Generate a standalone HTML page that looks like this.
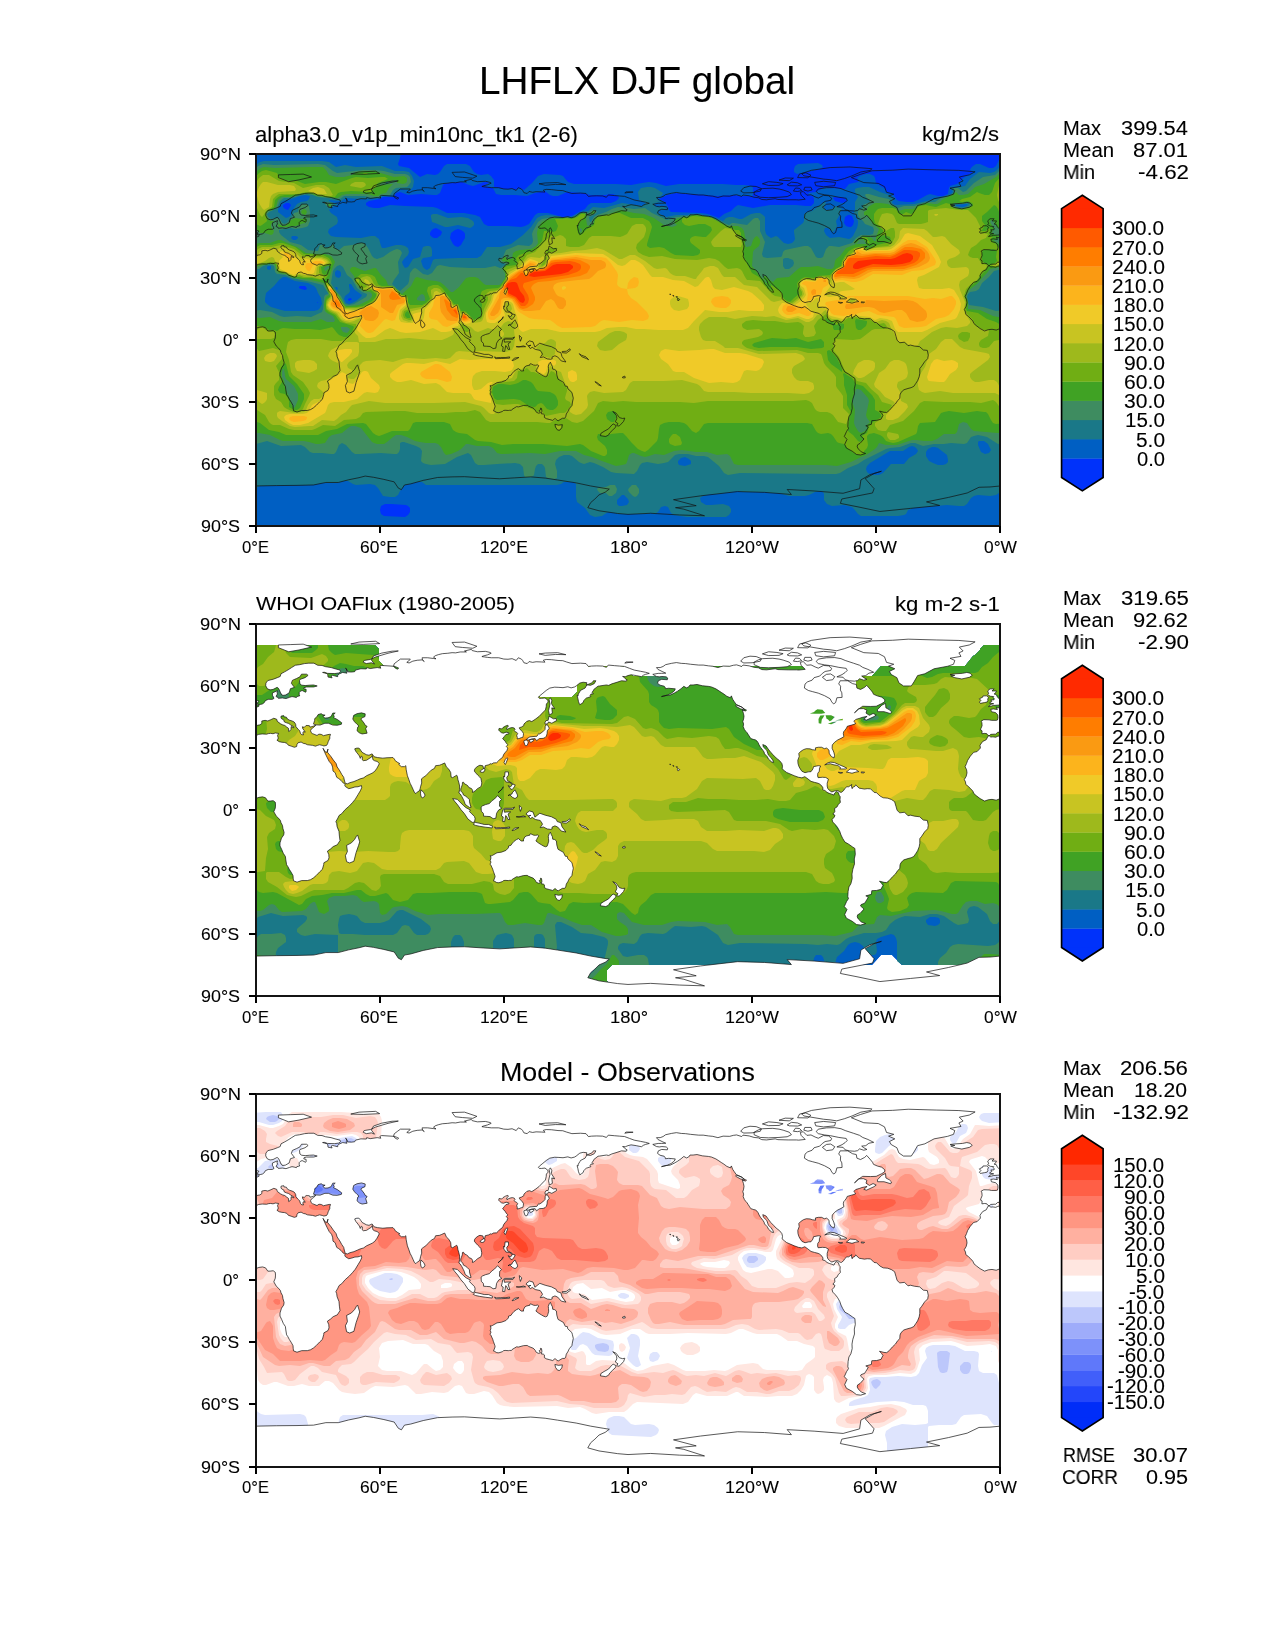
<!DOCTYPE html>
<html><head><meta charset="utf-8"><title>LHFLX DJF global</title>
<style>
html,body{margin:0;padding:0;background:#fff;}
body{width:1275px;height:1650px;position:relative;overflow:hidden;}
.t{position:absolute;white-space:pre;font-family:"Liberation Sans",sans-serif;color:#000;transform-origin:0 0;-webkit-text-stroke:0.1px #000;will-change:transform;}
</style></head><body>
<svg width="1275" height="1650" viewBox="0 0 1275 1650" style="position:absolute;left:0;top:0"><defs><path id="L" d="M422.0 144.5l2.1 1.2l-1.5 1.5l-.8 -1.3zM420.5 142.8l1.5 .4l-1 .4zM417.2 141.6l1.3 .6l-1.1 0zM414.1 140.3l1.1 .2l-.7 .5zM531.6 31.0l4.2 -2.6l6.2 .6l4.1 2l-4.1 1.1l-8.3 -.2zM537.8 37.3l2.1 -3.1l4.1 .4l2.1 2.2l-4.1 .9zM548.2 36.2l1 -2.7l6.2 0l1.1 2.7l-4.2 1.1zM542.0 23.8l2 -3.7l6.3 -1.1l5.1 2.5l-3.1 2.5zM523.4 26.3l6.2 -2.1l8.2 .2l-4.1 2.5zM-12.2 112.2l-1.9 3.7l-3.5 1.7l-2.7 3.7l.4 2.9l-3.3 3.5l-3.5 .8l-3.3 3.8l-2.7 4.3l-1 2.9l-1.5 3.3l1.5 3.1l.4 3.1l-.8 3.5l-1.9 3.2l1.2 2.4l.3 2.5l2.4 1.9l1.9 1.8l2.7 2.9l1.2 2.7l2.5 2.1l3.5 2.7l4.6 2.5l3.7 -1.3l3.7 -.4l4.2 .8l4.1 -1.6l3.3 -1.2l3.7 -.5l2.9 .9l2.3 3.3l2.3 0l3.1 -.4l2.1 1.6l.2 2.7l-.2 3.1l-1.5 3.7l2.5 4.4l2.3 2.1l1.8 2.2l.6 2.3l1.5 2.7l.4 2.9l1.2 4.1l-.4 2.5l-2.2 3.1l-1.5 4.8l0 3.1l1.7 3.5l1.6 3.9l2.1 3.1l.4 3.4l.8 4.9l1.3 1.9l1.4 2.7l1.9 2.9l1.8 3.3l.2 2.7l.3 2.5l3.5 1.4l4.7 -1.6l5.6 0l3.3 -.9l2.9 -1.8l2.9 -2.5l3.3 -3.5l2.7 -2.5l1.3 -4.8l.2 -1.8l4.1 -2.3l1 -2.7l-.2 -3.1l-1.4 -3.5l3.3 -2.3l2.5 -2.3l4.1 -1.8l2.7 -4.2l-.6 -4.5l-.4 -4.6l-1.9 -4.8l-.4 -3.1l-.8 -2l2 -3.5l1.1 -2.5l2.7 -1.9l3.5 -4.1l4.1 -3.6l3.1 -3.3l2.9 -3.5l2.7 -4.5l2.3 -3.8l1.4 -3.1l-.2 -2.2l-3.5 1.2l-3.1 .2l-3.1 1l-3.1 .7l-3.3 -2.1l-.6 -.8l.4 -1.5l-1.9 -1.2l-2.3 -2.7l-2.7 -2.1l-1.6 -1l-1.5 -4.6l-2.2 -1.6l-.4 -4l-1.1 -2.9l-2.3 -2.7l-2 -3.9l-1.7 -3.5l-2.5 -5.8l2.1 3.5l1.7 .6l1.2 -3.3l-.6 3.1l3.7 4.6l2.1 3.1l2.9 3.7l1 3.3l2.7 4l1.9 3.5l2 2.9l.6 2.7l.9 3.3l2.2 .6l2.5 -1.2l4 -1.1l3.3 -1.4l2.9 -1.3l3.5 -1l2.9 -2.1l3.5 -1.6l2.3 -1.1l2.5 -1.8l2.2 -3.1l2.3 -4.4l-1.9 -2.3l-2.6 -.6l-1.9 -1.2l-.6 -4.2l-.9 1.7l-1.4 .8l-3.5 2.3l-3.3 .4l-.9 -.8l0 -3.1l-1 -.6l-1 2.2l-.9 -2.4l-1.4 -1.9l-2.3 -2.9l-1 -2.3l1.4 -.6l2.1 -.2l1.2 .4l1.5 2.1l1.2 1.8l4.2 2.3l2.7 .6l3.1 -1.4l2 2.9l3.5 .8l5.2 .6l4.2 -.4l6 -.2l1.4 1.5l.8 1.6l2.7 1.9l1.9 1l-1.1 .8l2.7 2.3l3.1 0l1.3 -1l.4 4.1l1.2 6l1.5 4l1.2 3.5l1.5 2.9l1.6 3.5l1.3 2.9l1.4 1l1.7 -1.8l1.8 -.9l.7 -2l.6 -2.7l1 -3.1l-.2 -4.2l1.7 -1.4l2.6 -1.7l2.1 -2.3l3.3 -3.3l3.3 -1.8l1.1 -2.7l3.9 -.4l1.7 -.7l1.8 -.8l1.7 -.8l1.4 3.3l.6 1l2.1 1.9l1.9 3.3l.4 4.6l1.6 .6l2.7 -1.7l1.3 -.8l.8 1.7l.4 2.7l1 3.3l.7 3.1l0 3.7l-.7 3.3l1.3 1l1.6 2.5l1.5 2.9l1 2.1l.9 2.9l2.2 1.6l2.1 1.5l1.6 -.2l-.8 -2.3l-.8 -3.1l0 -2.1l-2.1 -2.2l-1.6 -1.3l-2.3 -1.2l-.8 -2.1l-1.9 -1.9l0 -2.2l.6 -1.5l.9 -2.7l.2 -2.3l1 -.2l1 1.7l2.1 1l1.2 .9l1.1 1.8l2.5 .9l1.2 1.8l-.2 2.1l.6 0l2.7 -1.9l1.7 -1.8l3.5 -1.9l.8 -2.7l0 -1.7l-.8 -3.9l-1.3 -1.6l-1.8 -1.7l-2.1 -2.3l-1.4 -1.8l.4 -1.9l1.6 -1.9l2.5 -1.6l1.2 -.4l2.9 .6l.7 2.7l1.2 -.4l.4 -2.5l3.3 -.8l2.5 -1.3l.8 .6l1.3 -1.2l3.5 -.2l1.6 -1.5l1.5 -1.8l2.1 -1.3l1.2 -1.8l.8 -2.1l1.7 -2.1l1.4 -1.6l.9 -2.5l-1.5 -1.5l1.5 -1.8l-1.7 -1.9l-1 -1.8l-2.5 -2.3l1.6 -2.1l1.7 -2.1l3.1 -.8l-.2 -1l-2.7 -.6l-2.7 1l-1.8 -.4l-1.9 -1.5l-1 -1.2l.4 -1.7l2.5 .6l1.4 -1.4l2.5 -1.5l2.3 -.8l.6 1.1l-1.7 1.4l.4 1.9l1.5 -1.1l2.3 -.8l1.8 -.2l1.7 .6l.6 1.5l-.8 .8l1.2 1.4l1.1 .3l1.2 1.4l-1 1.7l.6 2.4l-.2 1.3l2 -.4l2.1 -.9l1.5 -.2l.6 -1.8l.2 -2.1l-1 -1.7l-1.5 -1.6l-1.4 -1.5l-.3 -1l2.3 -.8l2.3 -1.5l0 -1.4l1.9 -1.7l1 -1l2.5 -.8l2.5 1l3.5 -2.3l3.9 -2.9l3.1 -3.3l3.1 -3.1l.8 -3.3l.2 -2.7l1.7 -1.9l-.2 -1.8l-2.9 -2.3l-3.5 .4l-2.1 0l-1 -1.2l1 -1.1l2.7 -2.2l4.1 -3.4l3.6 -2.4l4.9 -.9l4.2 .2l4.1 .3l4.8 -.9l3.3 1.1l3.5 -.9l1.6 -1l3.6 -2.9l3.3 -.8l3.7 .4l-.4 2.1l4.1 .6l3.7 -1.7l1.7 -2.9l-2.5 0l-1.2 1.9l-5.4 2.3l-1.7 3.1l-4.7 2.4l-.4 .9l-1.7 2.7l-.2 1.8l-1 -.4l.8 3.1l.6 3.1l.6 1.5l.7 1.6l1.8 -1.2l1.5 -1l.8 -2.1l2.7 -2.7l.8 0l3.5 -1.2l-.8 -.9l.8 -1.6l2.5 -.2l-1.4 -1.7l1.2 -1.2l.6 -1.5l4.2 -3.3l1.6 -.2l6.8 -1l2.3 .4l3.1 -1.5l5.2 -1.6l4.5 -1.5l4.8 .4l.8 -1.4l-1.4 -.6l-1.3 -1.7l-1.8 -1l2.7 .2l2.7 -1.1l3.1 -.8l5.1 .8l5.2 1.1l2.1 -1.5l2 -.8l3.8 -1l-3.8 -1.1l-5.1 -1l-6.2 -1.2l-4.6 -1.7l-5 -1.9l-4.9 -.4l-5 -.4l-6.4 -.6l-1.9 2.3l-3.7 -1.3l-6 -.2l-5.2 .2l-3.1 .4l-2.4 -2.9l-5.6 -.4l-8.5 .4l-5.4 -1.6l-3.7 -1.3l-4.8 -.2l-6.6 -.8l-5.2 -.2l-2.9 .8l1.7 1.9l-3.5 -.2l-5.4 -.2l-3.5 .6l-3.5 -.8l-1.9 2l-3.3 -.8l-1.4 -2.5l-1.1 -1.2l-3.1 -1.3l-2.1 2.7l-4.1 -1.8l-4.1 .6l-4.2 -.2l-5.1 -1.3l-7.3 0l-3.9 -.4l-3.1 -.4l-2.5 -.4l1.5 -.6l4.1 -1.1l3.7 -1.6l-1 -.8l-4.8 -1.1l-8 .4l-5.2 -1.2l-.8 -1.2l-6.9 1.6l1.9 1l-6.2 0l-4.6 .9l-3.5 -.2l-4.3 .6l-5.4 .4l-4.1 1l-3.1 1.1l-1.7 1.4l2.5 1.7l-2.7 -.4l-5.6 -.7l-5.6 0l.4 2.1l1.7 1.7l-1.9 -1.7l-5.1 .4l-4.4 .9l-3.7 1.8l-2.3 -.6l3.5 -2.9l-.2 -.4l-6 0l-3.7 0l-3.1 2.3l-3.1 2.4l-.6 2.5l1.2 1.5l2.5 1.4l1.4 -1l-2 -1l-2.7 -.9l-12.4 -.8l-1.7 .8l.9 1.9l-3.6 -.6l-7 1l-3.5 -1l-.4 1.4l-5.4 -.2l-5.4 1.3l-.8 1.6l-3.3 .4l-3.7 -.2l-1.7 -3.7l-.4 0l1.4 1.9l-.6 1.4l.6 1.7l-4.3 -.7l-3.7 1.5l-1.3 1.6l0 1.1l-5.1 -1.3l-1.5 .7l1 1.8l-4.1 -.8l-.2 -2.3l-1 -1.2l-4.2 -1.1l1.7 -.2l3.3 1.1l7.2 .2l4 -.6l1.8 -1.5l-.6 -1.4l-5 -1.3l-3.9 -1.2l-5.6 -.9l-3.5 -1.2l-4.3 -.2l-3.8 -2.1l-5.1 0l-4.2 .4l-4.9 1.1l-4.4 .6l-3.7 2.3l-2.7 1.8l-4.3 2.5l-3.6 1.9l-.8 2.7l-2.9 1.2l-3.9 1.5l-5.6 1.4l-1.9 2.5l-.2 2.7l1.7 3.1l2.7 1l2.9 -.4l4.1 -2.1l1.3 .9l1 1.8l1.6 4l.9 .2l.4 1.2l3.1 -.4l3.7 -2.1l.6 -1.8l.7 -2.5l4.1 -1.3l-1.9 -2.4l-1.2 -1.7l1 -2.9l4.2 -1.9l3.3 -1.6l1.6 -2.7l5 0l1.6 1.2l-.6 .5l-2.5 1.8l-3.1 1.1l-1.8 .6l-.6 1.2l.4 3.3l1.8 1.3l3.5 .4l4.6 -.4l3.7 -.2l3.7 1l-3.5 1l-3.7 0l-3.5 0l-2.5 .7l-.2 1.2l2.3 .4l0 2.5l-.6 .4l-3.4 -1.7l-1.8 .9l-1.1 1.2l0 1.9l.5 1.4l-2.9 .7l-.4 1l-2.3 -.6l-2.1 -.4l-2.5 .8l-3.5 1.2l-3.7 -.6l-3.9 .4l-.3 -.8l-2 -1l.6 -1.5l.8 -1l-.4 -1.5l.4 -1.8l-2.5 1l-2.6 1.2l0 2.3l.8 1.3l.8 1.8l-1.6 1l-2.5 0l-1.7 0l-2.9 1.3l-1 1.9l-1.9 1.4l-1.6 .4l-1.9 .4l0 1.5l-2.9 1.2l-2.7 .4l-1.6 -.6l1 2.3l-3.9 -.6l-2.7 .4l.4 1.4l.2 .9l4.3 1l2.1 2.3l.2 2.9l-.6 2.2l-1 .3l-5 0l-2.3 -.5l-5.3 -.2l-2.7 1.5l.8 1.6l.2 2.9l-1.2 2.9l-.3 1.5l1.5 .8l-.2 2.9l2.9 -.4l2.1 .4l.6 1l1.6 1.1l1.7 -1.5l3.3 -.2l1.6 0l1.9 -1.8l1.3 0l1.4 -2.7l-.6 -.9l.8 -1.6l1.5 -1.9l2.6 -.4l1.9 -1.4l0 -1.3l0 -1.2l3.3 -.6l2.7 .6l3.1 -1.3l2.9 -1.4l2.9 1l.6 2.1l3.3 2.5l2.1 1l2.1 .6l1.8 1.5l1.9 1.4l.2 3.1l1.2 -.8l1.3 -1.2l-.2 -.9l.2 -2l2.5 1.2l.2 -.8l-3.3 -2.1l-1.9 -1.4l-2.3 -.7l-2 -.8l-.7 -2.1l-2 -1l-.7 -1l0 -1.7l2.7 -.6l.2 1.2l2.5 .4l1.1 1.9l1.8 1l2.7 .9l2.1 1l1 1.3l.6 1.2l.2 2.1l1.1 1.4l1.4 1.5l1.3 1.4l.8 2.7l1.4 1.2l1.7 0l-.8 -1.8l.6 -1.3l1.8 .5l-1 -1.7l-1.4 -1.7l-.4 -2l1.8 .6l1.9 -1.9l3.3 .2l.6 1.5l2.1 -.6l3.7 -1.3l-2.1 2.1l-2.2 1.4l-.9 1.7l.4 1.9l1.3 1.2l1.6 .6l3.1 1.3l1.9 -1.3l2.3 .2l2.3 1.3l2.4 -.6l3.3 -.7l1.3 0l-.8 2.5l.2 1.3l-.9 1.8l-.8 1.7l-.6 2l-1 1.7l-2.7 .6l-1.7 -.6l-2.7 -.6l-1.8 .6l-2.3 .8l-2.7 -.8l-5.2 -.6l-2.3 -1.1l-1.6 -.2l-2.5 -1.4l-2.9 .6l-1.2 1.7l-.4 2.2l-2.3 .7l-2.5 -.9l-3.5 -1.2l-1.5 -1.9l-2.4 -.8l-2.5 -.2l-2.7 -.6l-2.3 -1.5l1.2 -1l0 -1.9l-.6 -1.6l1.1 -2.3l-1.9 -.2l-1.4 -.2l-2.3 .8l-2.3 -.4l-2.1 .2l-2 .6l-4.4 -.2l-3.5 .4l-3.3 1.5l-2.3 .4l-2.1 1l-2.8 -.4l-2.1 .2l-1.5 -1.2zM732.5 112.2l-1.9 3.7l-3.5 1.7l-2.7 3.7l.4 2.9l-3.3 3.5l-3.5 .8l-3.3 3.8l-2.7 4.3l-1 2.9l-1.5 3.3l1.5 3.1l.4 3.1l-.8 3.5l-1.9 3.2l1.2 2.4l.3 2.5l2.4 1.9l1.9 1.8l2.7 2.9l1.2 2.7l2.5 2.1l3.5 2.7l4.6 2.5l3.7 -1.3l3.7 -.4l4.2 .8l4.1 -1.6l3.3 -1.2l3.7 -.5l2.9 .9l2.3 3.3l2.3 0l3.1 -.4l2.1 1.6l.2 2.7l-.2 3.1l-1.5 3.7l2.5 4.4l2.3 2.1l1.8 2.2l.6 2.3l1.5 2.7l.4 2.9l1.2 4.1l-.4 2.5l-2.2 3.1l-1.5 4.8l0 3.1l1.7 3.5l1.6 3.9l2.1 3.1l.4 3.4l.8 4.9l1.3 1.9l1.4 2.7l1.9 2.9l1.8 3.3l.2 2.7l.3 2.5l3.5 1.4l4.7 -1.6l5.6 0l3.3 -.9l2.9 -1.8l2.9 -2.5l3.3 -3.5l2.7 -2.5l1.3 -4.8l.2 -1.8l4.1 -2.3l1 -2.7l-.2 -3.1l-1.4 -3.5l3.3 -2.3l2.5 -2.3l4.1 -1.8l2.7 -4.2l-.6 -4.5l-.4 -4.6l-1.9 -4.8l-.4 -3.1l-.8 -2l2 -3.5l1.1 -2.5l2.7 -1.9l3.5 -4.1l4.1 -3.6l3.1 -3.3l2.9 -3.5l2.7 -4.5l2.3 -3.8l1.4 -3.1l-.2 -2.2l-3.5 1.2l-3.1 .2l-3.1 1l-3.1 .7l-3.3 -2.1l-.6 -.8l.4 -1.5l-1.9 -1.2l-2.3 -2.7l-2.7 -2.1l-1.6 -1l-1.5 -4.6l-2.2 -1.6l-.4 -4l-1.1 -2.9l-2.3 -2.7l-2 -3.9l-1.7 -3.5l-2.5 -5.8l2.1 3.5l1.7 .6l1.2 -3.3l-.6 3.1l3.7 4.6l2.1 3.1l2.9 3.7l1 3.3l2.7 4l1.9 3.5l2 2.9l.6 2.7l.9 3.3l2.2 .6l2.5 -1.2l4 -1.1l3.3 -1.4l2.9 -1.3l3.5 -1l2.9 -2.1l3.5 -1.6l2.3 -1.1l2.5 -1.8l2.2 -3.1l2.3 -4.4l-1.9 -2.3l-2.6 -.6l-1.9 -1.2l-.6 -4.2l-.9 1.7l-1.4 .8l-3.5 2.3l-3.3 .4l-.9 -.8l0 -3.1l-1 -.6l-1 2.2l-.9 -2.4l-1.4 -1.9l-2.3 -2.9l-1 -2.3l1.4 -.6l2.1 -.2l1.2 .4l1.5 2.1l1.2 1.8l4.2 2.3l2.7 .6l3.1 -1.4l2 2.9l3.5 .8l5.2 .6l4.2 -.4l6 -.2l1.4 1.5l.8 1.6l2.7 1.9l1.9 1l-1.1 .8l2.7 2.3l3.1 0l1.3 -1l.4 4.1l1.2 6l1.5 4l1.2 3.5l1.5 2.9l1.6 3.5l1.3 2.9l1.4 1l1.7 -1.8l1.8 -.9l.7 -2l.6 -2.7l1 -3.1l-.2 -4.2l1.7 -1.4l2.6 -1.7l2.1 -2.3l3.3 -3.3l3.3 -1.8l1.1 -2.7l3.9 -.4l1.7 -.7l1.8 -.8l1.7 -.8l1.4 3.3l.6 1l2.1 1.9l1.9 3.3l.4 4.6l1.6 .6l2.7 -1.7l1.3 -.8l.8 1.7l.4 2.7l1 3.3l.7 3.1l0 3.7l-.7 3.3l1.3 1l1.6 2.5l1.5 2.9l1 2.1l.9 2.9l2.2 1.6l2.1 1.5l1.6 -.2l-.8 -2.3l-.8 -3.1l0 -2.1l-2.1 -2.2l-1.6 -1.3l-2.3 -1.2l-.8 -2.1l-1.9 -1.9l0 -2.2l.6 -1.5l.9 -2.7l.2 -2.3l1 -.2l1 1.7l2.1 1l1.2 .9l1.1 1.8l2.5 .9l1.2 1.8l-.2 2.1l.6 0l2.7 -1.9l1.7 -1.8l3.5 -1.9l.8 -2.7l0 -1.7l-.8 -3.9l-1.3 -1.6l-1.8 -1.7l-2.1 -2.3l-1.4 -1.8l.4 -1.9l1.6 -1.9l2.5 -1.6l1.2 -.4l2.9 .6l.7 2.7l1.2 -.4l.4 -2.5l3.3 -.8l2.5 -1.3l.8 .6l1.3 -1.2l3.5 -.2l1.6 -1.5l1.5 -1.8l2.1 -1.3l1.2 -1.8l.8 -2.1l1.7 -2.1l1.4 -1.6l.9 -2.5l-1.5 -1.5l1.5 -1.8l-1.7 -1.9l-1 -1.8l-2.5 -2.3l1.6 -2.1l1.7 -2.1l3.1 -.8l-.2 -1l-2.7 -.6l-2.7 1l-1.8 -.4l-1.9 -1.5l-1 -1.2l.4 -1.7l2.5 .6l1.4 -1.4l2.5 -1.5l2.3 -.8l.6 1.1l-1.7 1.4l.4 1.9l1.5 -1.1l2.3 -.8l1.8 -.2l1.7 .6l.6 1.5l-.8 .8l1.2 1.4l1.1 .3l1.2 1.4l-1 1.7l.6 2.4l-.2 1.3l2 -.4l2.1 -.9l1.5 -.2l.6 -1.8l.2 -2.1l-1 -1.7l-1.5 -1.6l-1.4 -1.5l-.3 -1l2.3 -.8l2.3 -1.5l0 -1.4l1.9 -1.7l1 -1l2.5 -.8l2.5 1l3.5 -2.3l3.9 -2.9l3.1 -3.3l3.1 -3.1l.8 -3.3l.2 -2.7l1.7 -1.9l-.2 -1.8l-2.9 -2.3l-3.5 .4l-2.1 0l-1 -1.2l1 -1.1l2.7 -2.2l4.1 -3.4l3.6 -2.4l4.9 -.9l4.2 .2l4.1 .3l4.8 -.9l3.3 1.1l3.5 -.9l1.6 -1l3.6 -2.9l3.3 -.8l3.7 .4l-.4 2.1l4.1 .6l3.7 -1.7l1.7 -2.9l-2.5 0l-1.2 1.9l-5.4 2.3l-1.7 3.1l-4.7 2.4l-.4 .9l-1.7 2.7l-.2 1.8l-1 -.4l.8 3.1l.6 3.1l.6 1.5l.7 1.6l1.8 -1.2l1.5 -1l.8 -2.1l2.7 -2.7l.8 0l3.5 -1.2l-.8 -.9l.8 -1.6l2.5 -.2l-1.4 -1.7l1.2 -1.2l.6 -1.5l4.2 -3.3l1.6 -.2l6.8 -1l2.3 .4l3.1 -1.5l5.2 -1.6l4.5 -1.5l4.8 .4l.8 -1.4l-1.4 -.6l-1.3 -1.7l-1.8 -1l2.7 .2l2.6 -1.1l3.2 -.8l5.1 .8l5.2 1.1l2.1 -1.5l2 -.8l3.8 -1l-3.8 -1.1l-5.1 -1l-6.2 -1.2l-4.6 -1.7l-5 -1.9l-4.9 -.4l-5 -.4l-6.4 -.6l-1.9 2.3l-3.7 -1.3l-6 -.2l-5.2 .2l-3.1 .4l-2.4 -2.9l-5.6 -.4l-8.5 .4l-5.4 -1.6l-3.7 -1.3l-4.8 -.2l-6.6 -.8l-5.2 -.2l-2.9 .8l1.7 1.9l-3.5 -.2l-5.4 -.2l-3.5 .6l-3.5 -.8l-1.9 2l-3.3 -.8l-1.4 -2.5l-1.1 -1.2l-3.1 -1.3l-2.1 2.7l-4.1 -1.8l-4.1 .6l-4.2 -.2l-5.1 -1.3l-7.3 0l-3.9 -.4l-3.1 -.4l-2.5 -.4l1.5 -.6l4.1 -1.1l3.7 -1.6l-1 -.8l-4.8 -1.1l-8 .4l-5.2 -1.2l-.8 -1.2l-6.9 1.6l1.9 1l-6.2 0l-4.6 .9l-3.5 -.2l-4.3 .6l-5.4 .4l-4.1 1l-3.1 1.1l-1.7 1.4l2.5 1.7l-2.7 -.4l-5.6 -.7l-5.6 0l.4 2.1l1.7 1.7l-1.9 -1.7l-5.1 .4l-4.4 .9l-3.7 1.8l-2.3 -.6l3.5 -2.9l-.2 -.4l-6 0l-3.7 0l-3.1 2.3l-3.1 2.4l-.6 2.5l1.2 1.5l2.5 1.4l1.4 -1l-2 -1l-2.7 -.9l-12.4 -.8l-1.7 .8l.9 1.9l-3.6 -.6l-7 1l-3.5 -1l-.4 1.4l-5.4 -.2l-5.4 1.3l-.8 1.6l-3.3 .4l-3.7 -.2l-1.7 -3.7l-.4 0l1.4 1.9l-.6 1.4l.6 1.7l-4.3 -.7l-3.7 1.5l-1.3 1.6l0 1.1l-5.1 -1.3l-1.5 .7l1 1.8l-4.1 -.8l-.2 -2.3l-1 -1.2l-4.2 -1.1l1.7 -.2l3.3 1.1l7.2 .2l4 -.6l1.8 -1.5l-.6 -1.4l-5 -1.3l-3.9 -1.2l-5.6 -.9l-3.5 -1.2l-4.3 -.2l-3.8 -2.1l-5.1 0l-4.2 .4l-4.9 1.1l-4.4 .6l-3.7 2.3l-2.7 1.8l-4.3 2.5l-3.6 1.9l-.8 2.7l-2.9 1.2l-3.9 1.5l-5.6 1.4l-1.9 2.5l-.2 2.7l1.7 3.1l2.7 1l2.9 -.4l4.1 -2.1l1.3 .9l1 1.8l1.6 4l.9 .2l.4 1.2l3.1 -.4l3.7 -2.1l.6 -1.8l.7 -2.5l4.1 -1.3l-1.9 -2.4l-1.2 -1.7l1 -2.9l4.2 -1.9l3.3 -1.6l1.6 -2.7l5 0l1.6 1.2l-.6 .5l-2.5 1.8l-3.1 1.1l-1.8 .6l-.6 1.2l.4 3.3l1.8 1.3l3.5 .4l4.6 -.4l3.7 -.2l3.7 1l-3.5 1l-3.7 0l-3.5 0l-2.5 .7l-.2 1.2l2.3 .4l0 2.5l-.6 .4l-3.4 -1.7l-1.8 .9l-1.1 1.2l0 1.9l.5 1.4l-2.9 .7l-.4 1l-2.3 -.6l-2.1 -.4l-2.5 .8l-3.5 1.2l-3.7 -.6l-3.9 .4l-.3 -.8l-2 -1l.6 -1.5l.8 -1l-.4 -1.5l.4 -1.8l-2.5 1l-2.6 1.2l0 2.3l.8 1.3l.8 1.8l-1.6 1l-2.5 0l-1.7 0l-2.9 1.3l-1 1.9l-1.9 1.4l-1.6 .4l-1.9 .4l0 1.5l-2.9 1.2l-2.7 .4l-1.6 -.6l1 2.3l-3.9 -.6l-2.7 .4l.4 1.4l.2 .9l4.3 1l2.1 2.3l.2 2.9l-.6 2.2l-1 .3l-5 0l-2.3 -.5l-5.3 -.2l-2.7 1.5l.8 1.6l.2 2.9l-1.2 2.9l-.3 1.5l1.5 .8l-.2 2.9l2.9 -.4l2.1 .4l.6 1l1.6 1.1l1.7 -1.5l3.3 -.2l1.6 0l1.9 -1.8l1.3 0l1.4 -2.7l-.6 -.9l.8 -1.6l1.5 -1.9l2.6 -.4l1.9 -1.4l0 -1.3l0 -1.2l3.3 -.6l2.7 .6l3.1 -1.3l2.9 -1.4l2.9 1l.6 2.1l3.3 2.5l2.1 1l2.1 .6l1.8 1.5l1.9 1.4l.2 3.1l1.2 -.8l1.3 -1.2l-.2 -.9l.2 -2l2.5 1.2l.2 -.8l-3.3 -2.1l-1.9 -1.4l-2.3 -.7l-2 -.8l-.7 -2.1l-2 -1l-.7 -1l0 -1.7l2.7 -.6l.2 1.2l2.5 .4l1.1 1.9l1.8 1l2.7 .9l2.1 1l1 1.3l.6 1.2l.2 2.1l1.1 1.4l1.4 1.5l1.3 1.4l.8 2.7l1.4 1.2l1.7 0l-.8 -1.8l.6 -1.3l1.8 .5l-1 -1.7l-1.4 -1.7l-.4 -2l1.8 .6l1.9 -1.9l3.3 .2l.6 1.5l2.1 -.6l3.7 -1.3l-2.1 2.1l-2.2 1.4l-.9 1.7l.4 1.9l1.3 1.2l1.6 .6l3.1 1.3l1.9 -1.3l2.3 .2l2.3 1.3l2.4 -.6l3.3 -.7l1.3 0l-.8 2.5l.2 1.3l-.9 1.8l-.8 1.7l-.6 2l-1 1.7l-2.7 .6l-1.7 -.6l-2.7 -.6l-1.8 .6l-2.3 .8l-2.7 -.8l-5.2 -.6l-2.3 -1.1l-1.6 -.2l-2.5 -1.4l-2.9 .6l-1.2 1.7l-.4 2.2l-2.3 .7l-2.5 -.9l-3.5 -1.2l-1.5 -1.9l-2.4 -.8l-2.5 -.2l-2.7 -.6l-2.3 -1.5l1.2 -1l0 -1.9l-.6 -1.6l1.1 -2.3l-1.9 -.2l-1.4 -.2l-2.3 .8l-2.3 -.4l-2.1 .2l-2 .6l-4.4 -.2l-3.5 .4l-3.3 1.5l-2.3 .4l-2.1 1l-2.8 -.4l-2.1 .2l-1.5 -1.2zM397.2 50.5l3.7 2.1l2.9 .4l2.5 -.4l4.3 .4l1.5 1.2l-.4 1.7l-5.6 -.4l-3.3 1.4l-.9 2.5l2.5 1.9l4.2 1l1.2 1.7l0 .8l3.3 -.4l6.6 .6l-1 2.1l-3.1 2.4l-3.7 1.7l-4 1l-2 .5l4.7 -1.1l3.9 -.4l4 -1.9l3.5 -2l3.5 -2.5l2.7 -2.3l2.7 1.5l2.1 -.9l1.4 -2l3.1 0l3.9 -.5l5.4 1.3l6 .6l3.1 .6l4.4 1.9l2.2 1.4l3.1 2.1l2.7 1.7l2.9 2.2l3.5 1.5l1.1 -1.9l1.2 3.3l1.7 2.5l2 2.9l2.5 1.1l2.9 1.4l3.1 2.3l1.7 .8l-1.1 .8l-3.1 -1l1.1 3.3l.6 2.9l-.4 2.9l-.8 2.5l.8 2.5l-.4 2.5l1.2 2.9l1.5 2l1.2 1.3l1 1.6l1.1 1.7l1.6 2.5l3.1 1l1.3 .2l1.8 1.3l1.1 1.6l1 2.3l1.4 2.3l2.3 2.9l1.3 2l.4 1.7l2.7 2.7l1.4 2.7l3.3 2.9l1.7 .2l-.8 -2.1l-1.7 -2.5l-2.7 -2.7l-1.6 -4.7l-3.4 -3.3l-.6 -2.5l3.3 1.4l2.1 3.1l2.7 3.5l2.7 2.7l2.5 2.7l3.5 2.7l2.3 2.9l.6 2.7l-.4 2.5l2.2 1.9l2.3 1.8l3.5 1.5l4.2 1.8l4.1 1.5l3.5 .6l2.9 -1.2l3.3 2.4l2.9 2.3l3.5 1l3.6 .9l1.6 .8l2.3 2.1l1 1.8l-.4 1.9l2.3 .6l2.1 1.9l2.2 1l2.5 .8l2.3 .9l.8 -2.1l1.5 -1.4l2 1l.9 2.7l1 1.4l-.2 3.1l.4 2.5l-2.3 2.5l-1 2.1l-2.5 1.6l.2 3.3l-1.9 2.3l2.1 1.3l-.8 1.8l-2.1 2.3l.6 2.5l2.3 2.3l2.5 3.1l2.3 4.1l1.2 3.5l1.7 3.5l2.2 3.6l3.6 2l4.1 2.9l2.3 1.5l.4 6l-1 4.5l.2 5l-1.7 5.4l-.8 4.7l.2 4.4l-1.3 5.2l-2 3.3l-.8 4.5l-.3 5.2l.7 1.9l-1.9 2.9l-2.3 5.1l2.7 2.9l-2.3 5l1.7 3.7l5.8 3.1l4.3 3.3l4.2 .5l4.9 -1.5l-4.3 -1.6l-2.9 -2.9l-1.2 -2.1l.4 -2.1l2.4 -1.4l4 -4.4l-3.5 -3.1l.6 -1.4l3.5 -1.3l1 -1.6l1.7 -2.7l1 -1.9l-2.5 -1.2l5.6 -1.5l.4 -3.7l4.8 -.2l4.5 -1.2l.9 -2.1l1 -1.7l-1.4 -2l-2.1 -2.3l4.5 1.2l2.7 .2l2.7 -2.2l3.1 -3.6l2.9 -2.7l2.3 -3.5l2.1 -2l.2 -3.6l1 -2.4l2.9 -2.7l4.1 -1.3l3.1 -.8l2.7 -1.3l1.9 -2.8l1.9 -2.9l1.6 -4l.6 -3.5l0 -4.6l1.9 -2.4l2.9 -4.4l3.1 -3.1l.6 -3.5l-1 -4.8l-4 -.4l-3.7 -3.3l-5.1 -.6l-4 -1l-2.5 .6l-3.5 -3.5l-4.7 .6l-2.7 -2.5l-1.1 -3.9l-1.4 -4.8l-3.1 -2.1l-3.7 -1.4l-4.6 -.4l-3.1 -1.7l-3.5 -3.3l-2.5 -.4l-3.5 -3.5l-3.3 -.2l-2.9 .4l-3.3 -.6l-1.9 -.3l-3.5 -3.3l-.8 1.5l-2.3 1l-.4 1.3l-.8 -2.5l.4 -1.7l-3.1 2.3l-1.9 0l-2.1 1.9l-1 1.8l-2.3 1.9l-1.2 -.2l-2.3 -1.5l-3.1 .2l-2.9 1.1l-1.6 -.9l-2.5 -2.4l-.6 -2.5l0 -2.9l.6 -2.1l.6 -2.1l-2.7 -1.6l-3.3 -.2l-4.3 .4l-.5 -1.7l.2 -2.7l1.5 -2l.2 -3.1l1.2 -2.1l-2.4 -.4l-4.8 1l-.6 2.3l-1.9 2.7l-2.7 .2l-3.3 .8l-3.1 -1.4l-1.6 -2.3l-1.3 -2.3l-1 -3.1l-.2 -3.3l1.4 -3.7l-.4 -3.1l1.7 -1.9l2.9 -1.9l2.9 -1l3.7 .2l2.3 .8l3.3 .5l-.2 -2.3l2.9 -.6l3.3 0l2.7 1.4l2.4 -.6l2.3 2.1l.2 3.1l2.1 3.3l2.7 1.4l.6 -2.7l-.8 -3.1l-1.7 -3.9l.2 -3.3l2.3 -2.7l3.1 -2.3l3.3 -1.6l2.9 -1.7l-.6 -2.9l.4 -2.1l1.2 -1.4l1.7 -2.3l.6 -1.6l4.4 -1.3l3.5 -1l.4 -1.1l-1.7 -1.6l1.9 -1.9l4.1 -1.2l2.1 -.8l5.2 -1.1l-3.3 2.9l2.7 .8l7.6 -3.5l2.1 -1.6l-3.1 -1.5l-3.7 1.9l-3.4 -2.3l.9 -2.9l-3.5 -1.6l-4.8 .2l-4.1 4.1l3.9 -3.7l4.3 -2.9l7.7 .2l5.8 -.2l5.6 -2.7l2.7 -1.7l.4 -2l-3.1 -2.7l-4.6 -1.3l-3.7 -1.6l-1 -2.1l-2.5 -3.1l-3.3 -3.7l-2.1 2l-4.1 2.1l-3.6 -1.4l-.6 -3.6l-3.7 -.8l-4.8 -2.9l-7.6 0l-1.5 3.1l1.9 2.3l-.2 3.9l1.4 2.7l.3 4.6l-5.2 .4l-1.3 4.8l-2 1.4l-1.9 -2.1l-1.6 -3.1l-5.6 -3.1l-6.2 -2.5l-6 -1.6l-4 -1.1l-3.9 -2.4l.6 -4l2.5 -2.2l4.6 -1.7l2 -2.5l5.6 -1.6l2.7 -2.7l2.7 -1.9l5.6 -1l1 -2.1l-3.1 -2.5l-5.2 -.4l-5.1 2.7l-3.1 -1.2l-4.2 -2.1l-4.1 .4l-3.7 -3.7l-2.9 .8l.8 2.9l4.1 4.1l-6.6 .7l-2.1 -.2l-8.2 0l-10.4 -.3l-2.7 -.8l-8.7 1.1l-4.7 -.3l-3.5 -1.8l-4.2 -.4l-4.9 -1.5l-6.2 -.8l-1.3 1.4l-5.1 -1.6l-3.2 .4l-3.7 1l-6.6 -.2l-5.2 1.5l-5.1 -1.3l-4.2 -.4l-5.4 -.8l-4.5 0l-8.1 -.8l-5.1 -.7l-4.2 -.2l-4.9 -.8l-5 .8l-5.8 1.3l-2.5 1.8l-2.9 1.1l-3.7 0l1.4 1.8l4.2 2.1l3.7 1.7l-4.3 .2l-3.3 0l-5.4 1zM647.9 62.1l7.8 0l2.7 -4.1l3.6 -6.3l7.2 -1.8l9.3 -5l13.5 -2.5l5.9 -2l1.3 -3.8l-4.8 -2.2l11 -1.9l-2.1 -3.5l4.2 -1.9l-3.8 -3.9l10 -2.1l5.8 -3.1l-16.2 -1.4l-22.7 -.5l-28 -.8l-15.5 1.1l-20.7 .6l-11.3 3.5l-9.3 3.3l12.4 5l14.5 .8l6.2 3.3l2 5.6l7.3 1.9l-5.2 1.8l6.2 2.7l-5.4 2.7l1.9 3.1l5.6 3.1l2 5.2zM0.0 332.2l20.7 -.4l20.7 -.2l16.5 -.4l12.4 -2.5l12.4 0l10.4 -2.7l10.3 -2.1l6.2 -1.6l8.3 1.2l10.4 2.1l10.3 2.5l4.1 6.2l3.1 1.6l3.1 -4.7l6.2 -1.1l12.5 -3.5l14.4 -2.9l14.5 -.6l12.4 -.2l18.6 1.2l16.6 .9l14.5 -.9l16.5 -1l14.5 1.2l12.4 1.9l18.6 2.9l14.5 3.1l12.4 2.1l6.2 1l-4.1 3.1l-6.2 2.7l-4.1 4.1l-4.2 3.6l-2.9 5.1l11.2 3.1l18.6 2.7l10.4 .9l22.7 -1.1l29 1.7l24.8 .8l-20.7 -6.6l-8.3 -1.5l20.7 -2l-22.7 -6l26.9 -3.8l37.2 -4.3l26.9 .8l26.9 2.1l-4.2 -5l26.9 1.5l29 2.3l16.5 -4.6l1.3 -8.7l9.1 -5.4l11.4 -3.3l-7.3 2.3l-8.9 5l8.9 10.1l-1.6 4.3l-30.7 6l-1.4 4.4l17.6 3.5l21.9 4.6l30.6 -3.1l29.2 -2.9l-13.2 -3.6l22.1 -4.5l18.6 -4.4l11.8 -5.7l11 -.3l10.3 -1l0 40.4l-744.7 0zM744.7 332.2l20.7 -.4l20.7 -.2l16.5 -.4l12.4 -2.5l12.4 0l10.4 -2.7l10.3 -2.1l6.2 -1.6l8.3 1.2l10.4 2.1l10.3 2.5l4.1 6.2l3.1 1.6l3.1 -4.7l6.2 -1.1l12.5 -3.5l14.4 -2.9l14.5 -.6l12.4 -.2l18.6 1.2l16.6 .9l14.5 -.9l16.5 -1l14.5 1.2l12.4 1.9l18.6 2.9l14.5 3.1l12.4 2.1l6.2 1l-4.1 3.1l-6.2 2.7l-4.1 4.1l-4.2 3.6l-2.9 5.1l11.2 3.1l18.6 2.7l10.3 .9l22.8 -1.1l29 1.7l24.8 .8l-20.7 -6.6l-8.3 -1.5l20.7 -2l-22.7 -6l26.9 -3.8l37.2 -4.3l26.9 .8l26.9 2.1l-4.2 -5l26.9 1.5l29 2.3l16.5 -4.6l1.3 -8.7l9.1 -5.4l11.4 -3.3l-7.3 2.3l-8.9 5l8.9 10.1l-1.6 4.3l-30.7 6l-1.4 4.4l17.6 3.5l21.9 4.6l30.6 -3.1l29.2 -2.9l-13.2 -3.6l22.1 -4.5l18.6 -4.4l11.8 -5.7l11 -.3l10.3 -1l0 40.4l-744.7 0zM-744.7 332.2l20.7 -.4l20.7 -.2l16.5 -.4l12.4 -2.5l12.4 0l10.4 -2.7l10.3 -2.1l6.2 -1.6l8.3 1.2l10.4 2.1l10.3 2.5l4.1 6.2l3.1 1.6l3.1 -4.7l6.2 -1.1l12.5 -3.5l14.4 -2.9l14.5 -.6l12.4 -.2l18.6 1.2l16.6 .9l14.5 -.9l16.5 -1l14.5 1.2l12.4 1.9l18.6 2.9l14.5 3.1l12.4 2.1l6.2 1l-4.1 3.1l-6.2 2.7l-4.1 4.1l-4.2 3.6l-2.9 5.1l11.2 3.1l18.6 2.7l10.3 .9l22.8 -1.1l29 1.7l24.8 .8l-20.7 -6.6l-8.3 -1.5l20.7 -2l-22.7 -6l26.9 -3.8l37.2 -4.3l26.9 .8l26.9 2.1l-4.2 -5l26.9 1.5l29 2.3l16.5 -4.6l1.3 -8.7l9.1 -5.4l11.4 -3.3l-7.3 2.3l-8.9 5l8.9 10.1l-1.6 4.3l-30.7 6l-1.4 4.4l17.6 3.5l21.9 4.6l30.6 -3.1l29.2 -2.9l-13.2 -3.6l22.1 -4.5l18.6 -4.4l11.8 -5.7l11 -.3l10.3 -1l0 40.4l-744.7 0zM102.0 211.1l2.1 6.9l-1.1 3.5l-2.5 7.2l-2.2 8.7l-4.2 1.7l-3.1 -1.3l-1.2 -6l2 -4.1l-.8 -6.2l4.8 -2.5l3.3 -3.5l1.8 -3.3zM165.3 166.0l2.7 2.5l1.4 2.7l-.6 1.6l-2.1 1.3l-1.4 -1.9l-.4 -2.9zM-11.8 82.8l2.9 -.6l1.9 -.6l3.9 -.3l5.6 -.4l.4 -.8l-1.7 -.6l2.3 -2.1l-2.9 -1l-1.6 -1.3l-1.9 -2l-1.2 -2.5l-2.1 -.4l1.9 -1.7l.4 -1.4l-4.4 0l2.1 -2.1l-4.1 0l-2.3 2.1l1 2.7l-1.2 1l2.9 1.6l3.3 .3l-.8 .8l1.4 1.2l-.4 1.3l-3.1 0l1 1.4l-2.3 1.7l4.2 .8l-2.1 .4l-2.1 1.3zM732.9 82.8l2.9 -.6l1.9 -.6l3.9 -.3l5.6 -.4l.4 -.8l-1.7 -.6l2.3 -2.1l-2.9 -1l-1.6 -1.3l-1.9 -2l-1.2 -2.5l-2.1 -.4l1.9 -1.7l.4 -1.4l-4.4 0l2.1 -2.1l-4.1 0l-2.3 2.1l1 2.7l-1.2 1l2.9 1.6l3.3 .3l-.8 .8l1.4 1.2l-.4 1.3l-3.1 0l1 1.4l-2.3 1.7l4.2 .8l-2.1 .4l-2.1 1.3zM732.3 76.6l-.8 1.6l-2.5 .5l-4.2 .8l-1 -1.3l1.5 -1.6l-1.5 -1.7l3.3 -1.6l.4 -1.3l3.5 0l1.9 1.5l-.8 1.8zM699.2 53.8l7 1.3l7.7 -1.7l2.7 -1.9l-2.1 -2.2l-3.3 -.7l-4.4 .9l-6.4 .4l-5.8 .6l4.6 1l-4.1 .5zM22.8 23.8l10.3 4.1l10.3 -1.8l12.5 -2.9l-8.3 -2.9l-12.4 .4l-12.4 .4zM107.6 38.3l3.1 1.4l5.1 -.8l3.1 1.3l-3.1 -4l2.1 -4.1l8.3 -2.9l10.3 -1.9l6.2 -.2l-10.3 2.3l-12.4 3.7l-5.2 2.5l-6.2 1zM199.6 22.8l7.3 .8l10.3 .8l4.1 -2l-12.4 -4.2l-12.4 .4zM283.4 30.0l6.2 1.5l10.3 -.9l10.4 .2l-8.3 -2l-12.4 .4zM369.2 39.3l3.2 -.6l5.1 -.4l-3.1 -.2l-4.1 0zM95.2 20.1l12.4 .4l16.5 -.8l-4.1 -2.3l-16.6 .8zM293.7 91.1l3.1 -1.7l-.6 -5.4l2.9 .9l-3.3 -5.2l.4 -3.1l-1.4 -2.7l-1.3 1.6l.9 4.8l-1.5 6.6l.6 2.5zM289.6 100.4l2.5 -.6l.8 -1.7l3.3 1.3l4.8 -2.7l-.4 -2.1l-2.7 .4l-4.4 -2.7l-1 4.2l-2.1 .2l-1 2zM291.7 100.8l2 3.5l-2 2.7l-.2 2.9l-.7 2.3l-1.4 1.6l-1.9 .7l-3.7 .2l-.8 .6l-2.1 1.6l-1.4 -2.2l-3.3 .4l-3.1 1l-2.3 -.2l.2 -.8l3.3 -2.1l4.1 -.4l2.9 -.2l1.9 -2.9l.8 .6l3.1 -2.1l2.3 -2.4l.2 -3.1l.6 -1.3zM270.8 116.1l2 1.9l-1 3.3l-1.6 .8l-.9 -1l-1 -3.1l.2 -1.3zM274.3 118.0l1 .6l3.1 -2.1l0 -1l-2.4 0l-2.5 .8zM251.3 133.9l.9 .8l-1.9 4.8l-.6 1.2l-1.3 -2l1.3 -3.1zM224.7 147.0l3.3 -2.3l1.6 1l-1.2 2.3l-1.9 .6l-1.8 -.6zM249.5 148.0l3.3 0l.2 3.1l-1.9 2.5l.6 3.1l4.8 2.7l0 1l-2.3 -1.9l-3.9 -.4l-.8 -1.6l-1.3 -1.1l-.2 -3.1l.9 .9zM252.4 171.8l1.6 -1l2.5 -.7l0 -1l2.9 -3.1l2.5 5.2l-.2 2l-2.3 1.5l-2.5 -1.2l-2.7 -2.5zM252.6 161.7l1.8 2.9l2.1 1.2l2.3 -2.9l.8 -1.9l-2.5 -.8l-2.2 2.9zM242.4 168.9l4.8 -4.3l.4 -1.7l-1.6 2.7zM197.1 174.7l4.6 .8l6.4 6.4l2.3 1.9l4.3 2.3l-.8 1.6l2.3 2.3l2.7 2.7l.6 2.1l-.6 3.5l-2.3 .2l-4.4 -3.5l-3.5 -5.4l-3.3 -3.7l-3.3 -4.8l-3.3 -3.9zM217.6 200.4l1.9 -1.9l4.9 1l4.2 1.1l4.3 0l4.2 1.8l-.5 1.7l-7 -.8l-5.6 -.9l-3.9 -.8zM238.9 203.1l1.9 .8l4.3 -.2l5.2 0l3.7 -.6l0 1.2l-7.8 .4l-6.2 .2zM256.5 206.8l2.3 -2.5l4.5 -.6l-4.7 2.5zM225.5 183.2l1.2 -1.1l3.3 -1.4l3.8 -1l2.4 -2.7l2.7 -1.9l3.1 -3.3l4 3.9l-1.9 1.7l-.2 5l2.3 2l-3.1 1.7l-2.1 3.3l-.8 5l-2.7 .4l-3.1 -2.1l-3.3 -.2l-3.1 -.2l-.2 -2.7l-2.1 -2.3zM247.0 197.5l.6 -4.4l-1.8 -1l1.4 -6.2l1.9 -1.5l7.4 0l2.5 -1.2l-1.7 2.3l-7 -.2l-1.9 .6l.5 2.5l2.4 -.3l3.8 0l-2.7 2.1l1.8 5.4l-1.8 0l-1.5 -3.3l-.8 -.6l-1 6zM263.7 181.7l2.5 2.3l-1.4 3.5l-.8 -3.1zM260.6 192.9l4.2 .2l5.2 -.2l-2.1 -.8l-4.6 1zM271.0 189.2l2.9 -2.1l3.5 1l1.9 5.2l4.9 -3.9l5.4 1.9l6.2 1.6l4.8 2.5l1 2.3l3.7 1.2l1.1 3.9l3.9 5.4l-4.6 -1l-3.7 -4.1l-2.7 -1.1l-2.9 1.3l.2 1.6l-1.6 .6l-3.3 -.4l-4 -2l-2.2 .6l-.9 0l2.3 -3.3l-.6 -1.3l-1.7 -2.5l-4.9 -1l-3.1 -2.1l-1.9 1.3l-1.9 -2.7l2.5 -.6l-2.2 .6l-2.5 -1.7zM306.6 197.7l4.1 -.2l3.5 -2.5l.6 1.4l-4.1 2.9l-3.9 -.4zM323.7 199.9l2.1 1.5l4.6 1.7l2.6 2.8l-2 -1l-5 -2.1zM339.3 227.9l2 .8l4.4 3.5l-2.7 -1zM234.6 231.8l1.6 .2l.9 -.6l4.3 -2.5l4.4 -.6l4.5 -1.7l2.5 -2.6l.2 -1.9l2.3 -.6l1 -1.5l2.1 -2.5l2.5 -1.8l2 -.9l2.7 2.3l2.5 0l-.4 -1l1.4 -2.9l1.5 -1l1.8 -.5l1.9 -.4l0 -1l.8 -.4l2.9 1.4l1.9 .2l2.1 -.4l1.2 .9l-1.2 1.8l-.9 1.9l-.8 1.4l2.7 2.1l3.1 1.9l2.1 1.2l1.8 .6l1.5 -.6l.8 -2.1l.8 -2.9l-.2 -2.7l-.2 -2.2l1 -2.7l1.1 -1.3l1 2.5l1 1.9l.3 2.5l2 .4l1.7 1.4l.4 4l1.2 4.3l5.4 3.1l1.9 3.9l2 .2l.5 2.3l4.1 3.8l.4 1.6l1 4.1l-1 4.8l-.4 2.5l-2.5 2.9l-1.6 3.3l-1.5 2.3l-.6 2.9l-1 1.4l-2.3 0l-4.2 2.5l-1.6 -.8l-1.3 -1.5l-.8 .4l-1.8 1.5l-2.9 -.8l-3.4 -.9l-2 -1.2l0 -2.7l-1.1 -.8l-2 -.2l.6 -2.5l-.4 -2.9l-1.1 -.2l.3 1.4l-1.5 .9l1.2 2.2l-1.8 .5l-1.7 -.7l-1 -.8l-.6 -1.4l-1.3 -1.5l-1 -.8l-4.3 -1.7l-1.5 -1l-3.7 .2l-5 1.4l-2 -.2l-4.4 2.7l-.6 .9l-1.9 0l-1.2 .2l-3.3 -.2l-1.5 .2l-1.2 1l-3.5 1.2l-2.1 -.2l-2.1 -1.2l-1.2 -.4l1.6 -4.2l-.2 -1.2l-1.6 -4.4l-.6 -2l-1.9 -4.2l-.8 -.8l1 -2.1l-.8 -1.4l.8 -2.7zM299.3 270.5l3.5 .9l4 -.5l-.6 3.1l-2.1 2.5l-2.1 -.2l-2.1 -2.9zM357.2 257.7l3.4 1.7l3.3 4.5l3.1 .8l2.2 -.4l-1.2 3.3l-3.9 4.2l-1.7 .6l-1.2 -1l1.2 -1.5l-2.7 -1.9l1.5 -3.1l-.2 -2.9zM357.5 270.1l3.1 1.7l-.9 2l-2.5 2.3l-3.1 3.1l-1.2 2.1l-2.7 1.4l-5.4 -.8l.5 -2.3l3.1 -2l4.5 -2.5l2.5 -2.9zM366.8 223.3l2.4 -1l.5 1.7l-2.5 .2zM562.7 35.2l8.2 -1.3l8.3 -.2l6.2 1.1l4.2 1.8l8.2 2.7l6.2 2.1l3.1 2.1l5.2 2l5.8 2.9l-4.8 .9l-3.1 2.4l-4.1 .5l2.1 1.6l3.1 1.7l-3.1 .8l-4.2 -1.4l-2 1.8l-3.1 .6l-5.2 -.4l-4.1 -1l-2.1 -2.5l-6.2 -.4l5.2 -2.3l3.1 -2.1l2 -2l-1 -2.1l-7.3 -1l-8.2 -1.7l-6.2 -.8l-6.2 -1.3l-2.1 -2zM546.0 19.8l9.9 -3.3l18.6 -2.7l19.8 -.6l21.9 1.7l-1.1 1.6l-9.8 1.7l-8.8 3.8l-7.7 2.8l-7.7 2.1l-6.6 -1l-6.5 -.6l-6.6 -1.1l-6.6 -1.1l-6.6 -1.1zM559.1 28.6l8.9 -1.1l12 1.1l-1 3.3l-11 1.1l-7.8 -1.1zM498.5 38.3l4.2 -2.3l4.1 -1.2l10.4 -.4l6.2 .8l4.1 1l6.2 2.1l2.1 2.5l-4.2 2l-8.2 .7l-10.4 .4l-8.3 -.4l-6.2 -2.7zM485.1 37.3l3.1 -3.4l6.2 -1.6l6.2 .4l5.2 2.1l-1.1 2.5l-8.2 1.6l-8.3 .2zM506.8 30.0l6.2 -2.1l8.3 .7l6.2 1.2l-4.1 1.7l-10.4 .2zM566.8 53.4l4.1 -2.9l4.2 -.4l4.1 2.7l-2.1 3.1l-6.2 .8zM622.0 87.8l6.4 0l6.7 2l.8 -1.8l-2.1 -2.1l-3.5 -1.9l-.4 -4.5l-3.7 1.8l-4.4 4.6zM489.2 86.3l-4.5 -1.4l-4.8 -2.7l1.1 -1.1l5.3 2.1zM569.1 141.0l3.3 -2.1l2.7 -.6l3.7 .4l5.6 2.5l3.9 1.6l2.9 1.5l-1.4 .8l-5.8 0l1.2 -1l-2.9 -2.5l-3.9 -.6l-3.7 -1.1l-2.7 .4zM590.8 148.2l3.7 -3.1l5.4 .4l3.3 2.3l-2.9 .4l-3.9 1.2l-2.3 -.6zM582.7 148.4l4.4 .4l-2.1 .8zM605.7 148.0l3.3 .4l-.8 .6l-2.5 0zM57.9 100.2l1.1 -3.5l.2 -2.1l2 -1.5l1.3 -2.4l3.1 -.9l1.6 1.1l2.3 .4l-2.3 1l2.1 1.9l3.1 -.2l3.1 -1.3l1.7 -3.5l2.4 0l-1.8 1.7l.8 1.8l-.6 1.1l3.7 1.8l4.4 3.3l-.3 1.5l-4.1 1l-4.5 -.2l-4.4 -1.8l-3.5 0l-4.8 1.8l-4.1 -.2zM97.2 95.2l.9 -3.7l3.3 -1.7l4.5 -.8l3.7 1l-.2 2.7l-3.3 1.5l-.8 1l3.3 4.2l1 2l1.9 1.1l-1.4 2.2l1.4 4.6l-5 .8l-2.9 -1.2l-2.2 -2.1l.8 -3.7l1.2 -.9l-2 -1.8l-2.5 -2.5z"/><path id="LG" d="M422.0 144.5l2.1 1.2l-1.5 1.5l-.8 -1.3zM420.5 142.8l1.5 .4l-1 .4zM417.2 141.6l1.3 .6l-1.1 0zM414.1 140.3l1.1 .2l-.7 .5zM531.6 31.0l4.2 -2.6l6.2 .6l4.1 2l-4.1 1.1l-8.3 -.2zM537.8 37.3l2.1 -3.1l4.1 .4l2.1 2.2l-4.1 .9zM548.2 36.2l1 -2.7l6.2 0l1.1 2.7l-4.2 1.1zM542.0 23.8l2 -3.7l6.3 -1.1l5.1 2.5l-3.1 2.5zM523.4 26.3l6.2 -2.1l8.2 .2l-4.1 2.5zM-12.2 112.2l-1.9 3.7l-3.5 1.7l-2.7 3.7l.4 2.9l-3.3 3.5l-3.5 .8l-3.3 3.8l-2.7 4.3l-1 2.9l-1.5 3.3l1.5 3.1l.4 3.1l-.8 3.5l-1.9 3.2l1.2 2.4l.3 2.5l2.4 1.9l1.9 1.8l2.7 2.9l1.2 2.7l2.5 2.1l3.5 2.7l4.6 2.5l3.7 -1.3l3.7 -.4l4.2 .8l4.1 -1.6l3.3 -1.2l3.7 -.5l2.9 .9l2.3 3.3l2.3 0l3.1 -.4l2.1 1.6l.2 2.7l-.2 3.1l-1.5 3.7l2.5 4.4l2.3 2.1l1.8 2.2l.6 2.3l1.5 2.7l.4 2.9l1.2 4.1l-.4 2.5l-2.2 3.1l-1.5 4.8l0 3.1l1.7 3.5l1.6 3.9l2.1 3.1l.4 3.4l.8 4.9l1.3 1.9l1.4 2.7l1.9 2.9l1.8 3.3l.2 2.7l.3 2.5l3.5 1.4l4.7 -1.6l5.6 0l3.3 -.9l2.9 -1.8l2.9 -2.5l3.3 -3.5l2.7 -2.5l1.3 -4.8l.2 -1.8l4.1 -2.3l1 -2.7l-.2 -3.1l-1.4 -3.5l3.3 -2.3l2.5 -2.3l4.1 -1.8l2.7 -4.2l-.6 -4.5l-.4 -4.6l-1.9 -4.8l-.4 -3.1l-.8 -2l2 -3.5l1.1 -2.5l2.7 -1.9l3.5 -4.1l4.1 -3.6l3.1 -3.3l2.9 -3.5l2.7 -4.5l2.3 -3.8l1.4 -3.1l-.2 -2.2l-3.5 1.2l-3.1 .2l-3.1 1l-3.1 .7l-3.3 -2.1l-.6 -.8l.4 -1.5l-1.9 -1.2l-2.3 -2.7l-2.7 -2.1l-1.6 -1l-1.5 -4.6l-2.2 -1.6l-.4 -4l-1.1 -2.9l-2.3 -2.7l-2 -3.9l-1.7 -3.5l-2.5 -5.8l2.1 3.5l1.7 .6l1.2 -3.3l-.6 3.1l3.7 4.6l2.1 3.1l2.9 3.7l1 3.3l2.7 4l1.9 3.5l2 2.9l.6 2.7l.9 3.3l2.2 .6l2.5 -1.2l4 -1.1l3.3 -1.4l2.9 -1.3l3.5 -1l2.9 -2.1l3.5 -1.6l2.3 -1.1l2.5 -1.8l2.2 -3.1l2.3 -4.4l-1.9 -2.3l-2.6 -.6l-1.9 -1.2l-.6 -4.2l-.9 1.7l-1.4 .8l-3.5 2.3l-3.3 .4l-.9 -.8l0 -3.1l-1 -.6l-1 2.2l-.9 -2.4l-1.4 -1.9l-2.3 -2.9l-1 -2.3l1.4 -.6l2.1 -.2l1.2 .4l1.5 2.1l1.2 1.8l4.2 2.3l2.7 .6l3.1 -1.4l2 2.9l3.5 .8l5.2 .6l4.2 -.4l6 -.2l1.4 1.5l.8 1.6l2.7 1.9l1.9 1l-1.1 .8l2.7 2.3l3.1 0l1.3 -1l.4 4.1l1.2 6l1.5 4l1.2 3.5l1.5 2.9l1.6 3.5l1.3 2.9l1.4 1l1.7 -1.8l1.8 -.9l.7 -2l.6 -2.7l1 -3.1l-.2 -4.2l1.7 -1.4l2.6 -1.7l2.1 -2.3l3.3 -3.3l3.3 -1.8l1.1 -2.7l3.9 -.4l1.7 -.7l1.8 -.8l1.7 -.8l1.4 3.3l.6 1l2.1 1.9l1.9 3.3l.4 4.6l1.6 .6l2.7 -1.7l1.3 -.8l.8 1.7l.4 2.7l1 3.3l.7 3.1l0 3.7l-.7 3.3l1.3 1l1.6 2.5l1.5 2.9l1 2.1l.9 2.9l2.2 1.6l2.1 1.5l1.6 -.2l-.8 -2.3l-.8 -3.1l0 -2.1l-2.1 -2.2l-1.6 -1.3l-2.3 -1.2l-.8 -2.1l-1.9 -1.9l0 -2.2l.6 -1.5l.9 -2.7l.2 -2.3l1 -.2l1 1.7l2.1 1l1.2 .9l1.1 1.8l2.5 .9l1.2 1.8l-.2 2.1l.6 0l2.7 -1.9l1.7 -1.8l3.5 -1.9l.8 -2.7l0 -1.7l-.8 -3.9l-1.3 -1.6l-1.8 -1.7l-2.1 -2.3l-1.4 -1.8l.4 -1.9l1.6 -1.9l2.5 -1.6l1.2 -.4l2.9 .6l.7 2.7l1.2 -.4l.4 -2.5l3.3 -.8l2.5 -1.3l.8 .6l1.3 -1.2l3.5 -.2l1.6 -1.5l1.5 -1.8l2.1 -1.3l1.2 -1.8l.8 -2.1l1.7 -2.1l1.4 -1.6l.9 -2.5l-1.5 -1.5l1.5 -1.8l-1.7 -1.9l-1 -1.8l-2.5 -2.3l1.6 -2.1l1.7 -2.1l3.1 -.8l-.2 -1l-2.7 -.6l-2.7 1l-1.8 -.4l-1.9 -1.5l-1 -1.2l.4 -1.7l2.5 .6l1.4 -1.4l2.5 -1.5l2.3 -.8l.6 1.1l-1.7 1.4l.4 1.9l1.5 -1.1l2.3 -.8l1.8 -.2l1.7 .6l.6 1.5l-.8 .8l1.2 1.4l1.1 .3l1.2 1.4l-1 1.7l.6 2.4l-.2 1.3l2 -.4l2.1 -.9l1.5 -.2l.6 -1.8l.2 -2.1l-1 -1.7l-1.5 -1.6l-1.4 -1.5l-.3 -1l2.3 -.8l2.3 -1.5l0 -1.4l1.9 -1.7l1 -1l2.5 -.8l2.5 1l3.5 -2.3l3.9 -2.9l3.1 -3.3l3.1 -3.1l.8 -3.3l.2 -2.7l1.7 -1.9l-.2 -1.8l-2.9 -2.3l-3.5 .4l-2.1 0l-1 -1.2l1 -1.1l2.7 -2.2l4.1 -3.4l3.6 -2.4l4.9 -.9l4.2 .2l4.1 .3l4.8 -.9l3.3 1.1l3.5 -.9l1.6 -1l3.6 -2.9l3.3 -.8l3.7 .4l-.4 2.1l4.1 .6l3.7 -1.7l1.7 -2.9l-2.5 0l-1.2 1.9l-5.4 2.3l-1.7 3.1l-4.7 2.4l-.4 .9l-1.7 2.7l-.2 1.8l-1 -.4l.8 3.1l.6 3.1l.6 1.5l.7 1.6l1.8 -1.2l1.5 -1l.8 -2.1l2.7 -2.7l.8 0l3.5 -1.2l-.8 -.9l.8 -1.6l2.5 -.2l-1.4 -1.7l1.2 -1.2l.6 -1.5l4.2 -3.3l1.6 -.2l6.8 -1l2.3 .4l3.1 -1.5l5.2 -1.6l4.5 -1.5l4.8 .4l.8 -1.4l-1.4 -.6l-1.3 -1.7l-1.8 -1l2.7 .2l2.7 -1.1l3.1 -.8l5.1 .8l5.2 1.1l2.1 -1.5l2 -.8l3.8 -1l-3.8 -1.1l-5.1 -1l-6.2 -1.2l-4.6 -1.7l-5 -1.9l-4.9 -.4l-5 -.4l-6.4 -.6l-1.9 2.3l-3.7 -1.3l-6 -.2l-5.2 .2l-3.1 .4l-2.4 -2.9l-5.6 -.4l-8.5 .4l-5.4 -1.6l-3.7 -1.3l-4.8 -.2l-6.6 -.8l-5.2 -.2l-2.9 .8l1.7 1.9l-3.5 -.2l-5.4 -.2l-3.5 .6l-3.5 -.8l-1.9 2l-3.3 -.8l-1.4 -2.5l-1.1 -1.2l-3.1 -1.3l-2.1 2.7l-4.1 -1.8l-4.1 .6l-4.2 -.2l-5.1 -1.3l-7.3 0l-3.9 -.4l-3.1 -.4l-2.5 -.4l1.5 -.6l4.1 -1.1l3.7 -1.6l-1 -.8l-4.8 -1.1l-8 .4l-5.2 -1.2l-.8 -1.2l-6.9 1.6l1.9 1l-6.2 0l-4.6 .9l-3.5 -.2l-4.3 .6l-5.4 .4l-4.1 1l-3.1 1.1l-1.7 1.4l2.5 1.7l-2.7 -.4l-5.6 -.7l-5.6 0l.4 2.1l1.7 1.7l-1.9 -1.7l-5.1 .4l-4.4 .9l-3.7 1.8l-2.3 -.6l3.5 -2.9l-.2 -.4l-6 0l-3.7 0l-3.1 2.3l-3.1 2.4l-.6 2.5l1.2 1.5l2.5 1.4l1.4 -1l-2 -1l-2.7 -.9l-12.4 -.8l-1.7 .8l.9 1.9l-3.6 -.6l-7 1l-3.5 -1l-.4 1.4l-5.4 -.2l-5.4 1.3l-.8 1.6l-3.3 .4l-3.7 -.2l-1.7 -3.7l-.4 0l1.4 1.9l-.6 1.4l.6 1.7l-4.3 -.7l-3.7 1.5l-1.3 1.6l0 1.1l-5.1 -1.3l-1.5 .7l1 1.8l-4.1 -.8l-.2 -2.3l-1 -1.2l-4.2 -1.1l1.7 -.2l3.3 1.1l7.2 .2l4 -.6l1.8 -1.5l-.6 -1.4l-5 -1.3l-3.9 -1.2l-5.6 -.9l-3.5 -1.2l-4.3 -.2l-3.8 -2.1l-5.1 0l-4.2 .4l-4.9 1.1l-4.4 .6l-3.7 2.3l-2.7 1.8l-4.3 2.5l-3.6 1.9l-.8 2.7l-2.9 1.2l-3.9 1.5l-5.6 1.4l-1.9 2.5l-.2 2.7l1.7 3.1l2.7 1l2.9 -.4l4.1 -2.1l1.3 .9l1 1.8l1.6 4l.9 .2l.4 1.2l3.1 -.4l3.7 -2.1l.6 -1.8l.7 -2.5l4.1 -1.3l-1.9 -2.4l-1.2 -1.7l1 -2.9l4.2 -1.9l3.3 -1.6l1.6 -2.7l5 0l1.6 1.2l-.6 .5l-2.5 1.8l-3.1 1.1l-1.8 .6l-.6 1.2l.4 3.3l1.8 1.3l3.5 .4l4.6 -.4l3.7 -.2l3.7 1l-3.5 1l-3.7 0l-3.5 0l-2.5 .7l-.2 1.2l2.3 .4l0 2.5l-.6 .4l-3.4 -1.7l-1.8 .9l-1.1 1.2l0 1.9l.5 1.4l-2.9 .7l-.4 1l-2.3 -.6l-2.1 -.4l-2.5 .8l-3.5 1.2l-3.7 -.6l-3.9 .4l-.3 -.8l-2 -1l.6 -1.5l.8 -1l-.4 -1.5l.4 -1.8l-2.5 1l-2.6 1.2l0 2.3l.8 1.3l.8 1.8l-1.6 1l-2.5 0l-1.7 0l-2.9 1.3l-1 1.9l-1.9 1.4l-1.6 .4l-1.9 .4l0 1.5l-2.9 1.2l-2.7 .4l-1.6 -.6l1 2.3l-3.9 -.6l-2.7 .4l.4 1.4l.2 .9l4.3 1l2.1 2.3l.2 2.9l-.6 2.2l-1 .3l-5 0l-2.3 -.5l-5.3 -.2l-2.7 1.5l.8 1.6l.2 2.9l-1.2 2.9l-.3 1.5l1.5 .8l-.2 2.9l2.9 -.4l2.1 .4l.6 1l1.6 1.1l1.7 -1.5l3.3 -.2l1.6 0l1.9 -1.8l1.3 0l1.4 -2.7l-.6 -.9l.8 -1.6l1.5 -1.9l2.6 -.4l1.9 -1.4l0 -1.3l0 -1.2l3.3 -.6l2.7 .6l3.1 -1.3l2.9 -1.4l2.9 1l.6 2.1l3.3 2.5l2.1 1l2.1 .6l1.8 1.5l1.9 1.4l.2 3.1l1.2 -.8l1.3 -1.2l-.2 -.9l.2 -2l2.5 1.2l.2 -.8l-3.3 -2.1l-1.9 -1.4l-2.3 -.7l-2 -.8l-.7 -2.1l-2 -1l-.7 -1l0 -1.7l2.7 -.6l.2 1.2l2.5 .4l1.1 1.9l1.8 1l2.7 .9l2.1 1l1 1.3l.6 1.2l.2 2.1l1.1 1.4l1.4 1.5l1.3 1.4l.8 2.7l1.4 1.2l1.7 0l-.8 -1.8l.6 -1.3l1.8 .5l-1 -1.7l-1.4 -1.7l-.4 -2l1.8 .6l1.9 -1.9l3.3 .2l.6 1.5l2.1 -.6l3.7 -1.3l-2.1 2.1l-2.2 1.4l-.9 1.7l.4 1.9l1.3 1.2l1.6 .6l3.1 1.3l1.9 -1.3l2.3 .2l2.3 1.3l2.4 -.6l3.3 -.7l1.3 0l-.8 2.5l.2 1.3l-.9 1.8l-.8 1.7l-.6 2l-1 1.7l-2.7 .6l-1.7 -.6l-2.7 -.6l-1.8 .6l-2.3 .8l-2.7 -.8l-5.2 -.6l-2.3 -1.1l-1.6 -.2l-2.5 -1.4l-2.9 .6l-1.2 1.7l-.4 2.2l-2.3 .7l-2.5 -.9l-3.5 -1.2l-1.5 -1.9l-2.4 -.8l-2.5 -.2l-2.7 -.6l-2.3 -1.5l1.2 -1l0 -1.9l-.6 -1.6l1.1 -2.3l-1.9 -.2l-1.4 -.2l-2.3 .8l-2.3 -.4l-2.1 .2l-2 .6l-4.4 -.2l-3.5 .4l-3.3 1.5l-2.3 .4l-2.1 1l-2.8 -.4l-2.1 .2l-1.5 -1.2zM732.5 112.2l-1.9 3.7l-3.5 1.7l-2.7 3.7l.4 2.9l-3.3 3.5l-3.5 .8l-3.3 3.8l-2.7 4.3l-1 2.9l-1.5 3.3l1.5 3.1l.4 3.1l-.8 3.5l-1.9 3.2l1.2 2.4l.3 2.5l2.4 1.9l1.9 1.8l2.7 2.9l1.2 2.7l2.5 2.1l3.5 2.7l4.6 2.5l3.7 -1.3l3.7 -.4l4.2 .8l4.1 -1.6l3.3 -1.2l3.7 -.5l2.9 .9l2.3 3.3l2.3 0l3.1 -.4l2.1 1.6l.2 2.7l-.2 3.1l-1.5 3.7l2.5 4.4l2.3 2.1l1.8 2.2l.6 2.3l1.5 2.7l.4 2.9l1.2 4.1l-.4 2.5l-2.2 3.1l-1.5 4.8l0 3.1l1.7 3.5l1.6 3.9l2.1 3.1l.4 3.4l.8 4.9l1.3 1.9l1.4 2.7l1.9 2.9l1.8 3.3l.2 2.7l.3 2.5l3.5 1.4l4.7 -1.6l5.6 0l3.3 -.9l2.9 -1.8l2.9 -2.5l3.3 -3.5l2.7 -2.5l1.3 -4.8l.2 -1.8l4.1 -2.3l1 -2.7l-.2 -3.1l-1.4 -3.5l3.3 -2.3l2.5 -2.3l4.1 -1.8l2.7 -4.2l-.6 -4.5l-.4 -4.6l-1.9 -4.8l-.4 -3.1l-.8 -2l2 -3.5l1.1 -2.5l2.7 -1.9l3.5 -4.1l4.1 -3.6l3.1 -3.3l2.9 -3.5l2.7 -4.5l2.3 -3.8l1.4 -3.1l-.2 -2.2l-3.5 1.2l-3.1 .2l-3.1 1l-3.1 .7l-3.3 -2.1l-.6 -.8l.4 -1.5l-1.9 -1.2l-2.3 -2.7l-2.7 -2.1l-1.6 -1l-1.5 -4.6l-2.2 -1.6l-.4 -4l-1.1 -2.9l-2.3 -2.7l-2 -3.9l-1.7 -3.5l-2.5 -5.8l2.1 3.5l1.7 .6l1.2 -3.3l-.6 3.1l3.7 4.6l2.1 3.1l2.9 3.7l1 3.3l2.7 4l1.9 3.5l2 2.9l.6 2.7l.9 3.3l2.2 .6l2.5 -1.2l4 -1.1l3.3 -1.4l2.9 -1.3l3.5 -1l2.9 -2.1l3.5 -1.6l2.3 -1.1l2.5 -1.8l2.2 -3.1l2.3 -4.4l-1.9 -2.3l-2.6 -.6l-1.9 -1.2l-.6 -4.2l-.9 1.7l-1.4 .8l-3.5 2.3l-3.3 .4l-.9 -.8l0 -3.1l-1 -.6l-1 2.2l-.9 -2.4l-1.4 -1.9l-2.3 -2.9l-1 -2.3l1.4 -.6l2.1 -.2l1.2 .4l1.5 2.1l1.2 1.8l4.2 2.3l2.7 .6l3.1 -1.4l2 2.9l3.5 .8l5.2 .6l4.2 -.4l6 -.2l1.4 1.5l.8 1.6l2.7 1.9l1.9 1l-1.1 .8l2.7 2.3l3.1 0l1.3 -1l.4 4.1l1.2 6l1.5 4l1.2 3.5l1.5 2.9l1.6 3.5l1.3 2.9l1.4 1l1.7 -1.8l1.8 -.9l.7 -2l.6 -2.7l1 -3.1l-.2 -4.2l1.7 -1.4l2.6 -1.7l2.1 -2.3l3.3 -3.3l3.3 -1.8l1.1 -2.7l3.9 -.4l1.7 -.7l1.8 -.8l1.7 -.8l1.4 3.3l.6 1l2.1 1.9l1.9 3.3l.4 4.6l1.6 .6l2.7 -1.7l1.3 -.8l.8 1.7l.4 2.7l1 3.3l.7 3.1l0 3.7l-.7 3.3l1.3 1l1.6 2.5l1.5 2.9l1 2.1l.9 2.9l2.2 1.6l2.1 1.5l1.6 -.2l-.8 -2.3l-.8 -3.1l0 -2.1l-2.1 -2.2l-1.6 -1.3l-2.3 -1.2l-.8 -2.1l-1.9 -1.9l0 -2.2l.6 -1.5l.9 -2.7l.2 -2.3l1 -.2l1 1.7l2.1 1l1.2 .9l1.1 1.8l2.5 .9l1.2 1.8l-.2 2.1l.6 0l2.7 -1.9l1.7 -1.8l3.5 -1.9l.8 -2.7l0 -1.7l-.8 -3.9l-1.3 -1.6l-1.8 -1.7l-2.1 -2.3l-1.4 -1.8l.4 -1.9l1.6 -1.9l2.5 -1.6l1.2 -.4l2.9 .6l.7 2.7l1.2 -.4l.4 -2.5l3.3 -.8l2.5 -1.3l.8 .6l1.3 -1.2l3.5 -.2l1.6 -1.5l1.5 -1.8l2.1 -1.3l1.2 -1.8l.8 -2.1l1.7 -2.1l1.4 -1.6l.9 -2.5l-1.5 -1.5l1.5 -1.8l-1.7 -1.9l-1 -1.8l-2.5 -2.3l1.6 -2.1l1.7 -2.1l3.1 -.8l-.2 -1l-2.7 -.6l-2.7 1l-1.8 -.4l-1.9 -1.5l-1 -1.2l.4 -1.7l2.5 .6l1.4 -1.4l2.5 -1.5l2.3 -.8l.6 1.1l-1.7 1.4l.4 1.9l1.5 -1.1l2.3 -.8l1.8 -.2l1.7 .6l.6 1.5l-.8 .8l1.2 1.4l1.1 .3l1.2 1.4l-1 1.7l.6 2.4l-.2 1.3l2 -.4l2.1 -.9l1.5 -.2l.6 -1.8l.2 -2.1l-1 -1.7l-1.5 -1.6l-1.4 -1.5l-.3 -1l2.3 -.8l2.3 -1.5l0 -1.4l1.9 -1.7l1 -1l2.5 -.8l2.5 1l3.5 -2.3l3.9 -2.9l3.1 -3.3l3.1 -3.1l.8 -3.3l.2 -2.7l1.7 -1.9l-.2 -1.8l-2.9 -2.3l-3.5 .4l-2.1 0l-1 -1.2l1 -1.1l2.7 -2.2l4.1 -3.4l3.6 -2.4l4.9 -.9l4.2 .2l4.1 .3l4.8 -.9l3.3 1.1l3.5 -.9l1.6 -1l3.6 -2.9l3.3 -.8l3.7 .4l-.4 2.1l4.1 .6l3.7 -1.7l1.7 -2.9l-2.5 0l-1.2 1.9l-5.4 2.3l-1.7 3.1l-4.7 2.4l-.4 .9l-1.7 2.7l-.2 1.8l-1 -.4l.8 3.1l.6 3.1l.6 1.5l.7 1.6l1.8 -1.2l1.5 -1l.8 -2.1l2.7 -2.7l.8 0l3.5 -1.2l-.8 -.9l.8 -1.6l2.5 -.2l-1.4 -1.7l1.2 -1.2l.6 -1.5l4.2 -3.3l1.6 -.2l6.8 -1l2.3 .4l3.1 -1.5l5.2 -1.6l4.5 -1.5l4.8 .4l.8 -1.4l-1.4 -.6l-1.3 -1.7l-1.8 -1l2.7 .2l2.6 -1.1l3.2 -.8l5.1 .8l5.2 1.1l2.1 -1.5l2 -.8l3.8 -1l-3.8 -1.1l-5.1 -1l-6.2 -1.2l-4.6 -1.7l-5 -1.9l-4.9 -.4l-5 -.4l-6.4 -.6l-1.9 2.3l-3.7 -1.3l-6 -.2l-5.2 .2l-3.1 .4l-2.4 -2.9l-5.6 -.4l-8.5 .4l-5.4 -1.6l-3.7 -1.3l-4.8 -.2l-6.6 -.8l-5.2 -.2l-2.9 .8l1.7 1.9l-3.5 -.2l-5.4 -.2l-3.5 .6l-3.5 -.8l-1.9 2l-3.3 -.8l-1.4 -2.5l-1.1 -1.2l-3.1 -1.3l-2.1 2.7l-4.1 -1.8l-4.1 .6l-4.2 -.2l-5.1 -1.3l-7.3 0l-3.9 -.4l-3.1 -.4l-2.5 -.4l1.5 -.6l4.1 -1.1l3.7 -1.6l-1 -.8l-4.8 -1.1l-8 .4l-5.2 -1.2l-.8 -1.2l-6.9 1.6l1.9 1l-6.2 0l-4.6 .9l-3.5 -.2l-4.3 .6l-5.4 .4l-4.1 1l-3.1 1.1l-1.7 1.4l2.5 1.7l-2.7 -.4l-5.6 -.7l-5.6 0l.4 2.1l1.7 1.7l-1.9 -1.7l-5.1 .4l-4.4 .9l-3.7 1.8l-2.3 -.6l3.5 -2.9l-.2 -.4l-6 0l-3.7 0l-3.1 2.3l-3.1 2.4l-.6 2.5l1.2 1.5l2.5 1.4l1.4 -1l-2 -1l-2.7 -.9l-12.4 -.8l-1.7 .8l.9 1.9l-3.6 -.6l-7 1l-3.5 -1l-.4 1.4l-5.4 -.2l-5.4 1.3l-.8 1.6l-3.3 .4l-3.7 -.2l-1.7 -3.7l-.4 0l1.4 1.9l-.6 1.4l.6 1.7l-4.3 -.7l-3.7 1.5l-1.3 1.6l0 1.1l-5.1 -1.3l-1.5 .7l1 1.8l-4.1 -.8l-.2 -2.3l-1 -1.2l-4.2 -1.1l1.7 -.2l3.3 1.1l7.2 .2l4 -.6l1.8 -1.5l-.6 -1.4l-5 -1.3l-3.9 -1.2l-5.6 -.9l-3.5 -1.2l-4.3 -.2l-3.8 -2.1l-5.1 0l-4.2 .4l-4.9 1.1l-4.4 .6l-3.7 2.3l-2.7 1.8l-4.3 2.5l-3.6 1.9l-.8 2.7l-2.9 1.2l-3.9 1.5l-5.6 1.4l-1.9 2.5l-.2 2.7l1.7 3.1l2.7 1l2.9 -.4l4.1 -2.1l1.3 .9l1 1.8l1.6 4l.9 .2l.4 1.2l3.1 -.4l3.7 -2.1l.6 -1.8l.7 -2.5l4.1 -1.3l-1.9 -2.4l-1.2 -1.7l1 -2.9l4.2 -1.9l3.3 -1.6l1.6 -2.7l5 0l1.6 1.2l-.6 .5l-2.5 1.8l-3.1 1.1l-1.8 .6l-.6 1.2l.4 3.3l1.8 1.3l3.5 .4l4.6 -.4l3.7 -.2l3.7 1l-3.5 1l-3.7 0l-3.5 0l-2.5 .7l-.2 1.2l2.3 .4l0 2.5l-.6 .4l-3.4 -1.7l-1.8 .9l-1.1 1.2l0 1.9l.5 1.4l-2.9 .7l-.4 1l-2.3 -.6l-2.1 -.4l-2.5 .8l-3.5 1.2l-3.7 -.6l-3.9 .4l-.3 -.8l-2 -1l.6 -1.5l.8 -1l-.4 -1.5l.4 -1.8l-2.5 1l-2.6 1.2l0 2.3l.8 1.3l.8 1.8l-1.6 1l-2.5 0l-1.7 0l-2.9 1.3l-1 1.9l-1.9 1.4l-1.6 .4l-1.9 .4l0 1.5l-2.9 1.2l-2.7 .4l-1.6 -.6l1 2.3l-3.9 -.6l-2.7 .4l.4 1.4l.2 .9l4.3 1l2.1 2.3l.2 2.9l-.6 2.2l-1 .3l-5 0l-2.3 -.5l-5.3 -.2l-2.7 1.5l.8 1.6l.2 2.9l-1.2 2.9l-.3 1.5l1.5 .8l-.2 2.9l2.9 -.4l2.1 .4l.6 1l1.6 1.1l1.7 -1.5l3.3 -.2l1.6 0l1.9 -1.8l1.3 0l1.4 -2.7l-.6 -.9l.8 -1.6l1.5 -1.9l2.6 -.4l1.9 -1.4l0 -1.3l0 -1.2l3.3 -.6l2.7 .6l3.1 -1.3l2.9 -1.4l2.9 1l.6 2.1l3.3 2.5l2.1 1l2.1 .6l1.8 1.5l1.9 1.4l.2 3.1l1.2 -.8l1.3 -1.2l-.2 -.9l.2 -2l2.5 1.2l.2 -.8l-3.3 -2.1l-1.9 -1.4l-2.3 -.7l-2 -.8l-.7 -2.1l-2 -1l-.7 -1l0 -1.7l2.7 -.6l.2 1.2l2.5 .4l1.1 1.9l1.8 1l2.7 .9l2.1 1l1 1.3l.6 1.2l.2 2.1l1.1 1.4l1.4 1.5l1.3 1.4l.8 2.7l1.4 1.2l1.7 0l-.8 -1.8l.6 -1.3l1.8 .5l-1 -1.7l-1.4 -1.7l-.4 -2l1.8 .6l1.9 -1.9l3.3 .2l.6 1.5l2.1 -.6l3.7 -1.3l-2.1 2.1l-2.2 1.4l-.9 1.7l.4 1.9l1.3 1.2l1.6 .6l3.1 1.3l1.9 -1.3l2.3 .2l2.3 1.3l2.4 -.6l3.3 -.7l1.3 0l-.8 2.5l.2 1.3l-.9 1.8l-.8 1.7l-.6 2l-1 1.7l-2.7 .6l-1.7 -.6l-2.7 -.6l-1.8 .6l-2.3 .8l-2.7 -.8l-5.2 -.6l-2.3 -1.1l-1.6 -.2l-2.5 -1.4l-2.9 .6l-1.2 1.7l-.4 2.2l-2.3 .7l-2.5 -.9l-3.5 -1.2l-1.5 -1.9l-2.4 -.8l-2.5 -.2l-2.7 -.6l-2.3 -1.5l1.2 -1l0 -1.9l-.6 -1.6l1.1 -2.3l-1.9 -.2l-1.4 -.2l-2.3 .8l-2.3 -.4l-2.1 .2l-2 .6l-4.4 -.2l-3.5 .4l-3.3 1.5l-2.3 .4l-2.1 1l-2.8 -.4l-2.1 .2l-1.5 -1.2zM397.2 50.5l3.7 2.1l2.9 .4l2.5 -.4l4.3 .4l1.5 1.2l-.4 1.7l-5.6 -.4l-3.3 1.4l-.9 2.5l2.5 1.9l4.2 1l1.2 1.7l0 .8l3.3 -.4l6.6 .6l-1 2.1l-3.1 2.4l-3.7 1.7l-4 1l-2 .5l4.7 -1.1l3.9 -.4l4 -1.9l3.5 -2l3.5 -2.5l2.7 -2.3l2.7 1.5l2.1 -.9l1.4 -2l3.1 0l3.9 -.5l5.4 1.3l6 .6l3.1 .6l4.4 1.9l2.2 1.4l3.1 2.1l2.7 1.7l2.9 2.2l3.5 1.5l1.1 -1.9l1.2 3.3l1.7 2.5l2 2.9l2.5 1.1l2.9 1.4l3.1 2.3l1.7 .8l-1.1 .8l-3.1 -1l1.1 3.3l.6 2.9l-.4 2.9l-.8 2.5l.8 2.5l-.4 2.5l1.2 2.9l1.5 2l1.2 1.3l1 1.6l1.1 1.7l1.6 2.5l3.1 1l1.3 .2l1.8 1.3l1.1 1.6l1 2.3l1.4 2.3l2.3 2.9l1.3 2l.4 1.7l2.7 2.7l1.4 2.7l3.3 2.9l1.7 .2l-.8 -2.1l-1.7 -2.5l-2.7 -2.7l-1.6 -4.7l-3.4 -3.3l-.6 -2.5l3.3 1.4l2.1 3.1l2.7 3.5l2.7 2.7l2.5 2.7l3.5 2.7l2.3 2.9l.6 2.7l-.4 2.5l2.2 1.9l2.3 1.8l3.5 1.5l4.2 1.8l4.1 1.5l3.5 .6l2.9 -1.2l3.3 2.4l2.9 2.3l3.5 1l3.6 .9l1.6 .8l2.3 2.1l1 1.8l-.4 1.9l2.3 .6l2.1 1.9l2.2 1l2.5 .8l2.3 .9l.8 -2.1l1.5 -1.4l2 1l.9 2.7l1 1.4l-.2 3.1l.4 2.5l-2.3 2.5l-1 2.1l-2.5 1.6l.2 3.3l-1.9 2.3l2.1 1.3l-.8 1.8l-2.1 2.3l.6 2.5l2.3 2.3l2.5 3.1l2.3 4.1l1.2 3.5l1.7 3.5l2.2 3.6l3.6 2l4.1 2.9l2.3 1.5l.4 6l-1 4.5l.2 5l-1.7 5.4l-.8 4.7l.2 4.4l-1.3 5.2l-2 3.3l-.8 4.5l-.3 5.2l.7 1.9l-1.9 2.9l-2.3 5.1l2.7 2.9l-2.3 5l1.7 3.7l5.8 3.1l4.3 3.3l4.2 .5l4.9 -1.5l-4.3 -1.6l-2.9 -2.9l-1.2 -2.1l.4 -2.1l2.4 -1.4l4 -4.4l-3.5 -3.1l.6 -1.4l3.5 -1.3l1 -1.6l1.7 -2.7l1 -1.9l-2.5 -1.2l5.6 -1.5l.4 -3.7l4.8 -.2l4.5 -1.2l.9 -2.1l1 -1.7l-1.4 -2l-2.1 -2.3l4.5 1.2l2.7 .2l2.7 -2.2l3.1 -3.6l2.9 -2.7l2.3 -3.5l2.1 -2l.2 -3.6l1 -2.4l2.9 -2.7l4.1 -1.3l3.1 -.8l2.7 -1.3l1.9 -2.8l1.9 -2.9l1.6 -4l.6 -3.5l0 -4.6l1.9 -2.4l2.9 -4.4l3.1 -3.1l.6 -3.5l-1 -4.8l-4 -.4l-3.7 -3.3l-5.1 -.6l-4 -1l-2.5 .6l-3.5 -3.5l-4.7 .6l-2.7 -2.5l-1.1 -3.9l-1.4 -4.8l-3.1 -2.1l-3.7 -1.4l-4.6 -.4l-3.1 -1.7l-3.5 -3.3l-2.5 -.4l-3.5 -3.5l-3.3 -.2l-2.9 .4l-3.3 -.6l-1.9 -.3l-3.5 -3.3l-.8 1.5l-2.3 1l-.4 1.3l-.8 -2.5l.4 -1.7l-3.1 2.3l-1.9 0l-2.1 1.9l-1 1.8l-2.3 1.9l-1.2 -.2l-2.3 -1.5l-3.1 .2l-2.9 1.1l-1.6 -.9l-2.5 -2.4l-.6 -2.5l0 -2.9l.6 -2.1l.6 -2.1l-2.7 -1.6l-3.3 -.2l-4.3 .4l-.5 -1.7l.2 -2.7l1.5 -2l.2 -3.1l1.2 -2.1l-2.4 -.4l-4.8 1l-.6 2.3l-1.9 2.7l-2.7 .2l-3.3 .8l-3.1 -1.4l-1.6 -2.3l-1.3 -2.3l-1 -3.1l-.2 -3.3l1.4 -3.7l-.4 -3.1l1.7 -1.9l2.9 -1.9l2.9 -1l3.7 .2l2.3 .8l3.3 .5l-.2 -2.3l2.9 -.6l3.3 0l2.7 1.4l2.4 -.6l2.3 2.1l.2 3.1l2.1 3.3l2.7 1.4l.6 -2.7l-.8 -3.1l-1.7 -3.9l.2 -3.3l2.3 -2.7l3.1 -2.3l3.3 -1.6l2.9 -1.7l-.6 -2.9l.4 -2.1l1.2 -1.4l1.7 -2.3l.6 -1.6l4.4 -1.3l3.5 -1l.4 -1.1l-1.7 -1.6l1.9 -1.9l4.1 -1.2l2.1 -.8l5.2 -1.1l-3.3 2.9l2.7 .8l7.6 -3.5l2.1 -1.6l-3.1 -1.5l-3.7 1.9l-3.4 -2.3l.9 -2.9l-3.5 -1.6l-4.8 .2l-4.1 4.1l3.9 -3.7l4.3 -2.9l7.7 .2l5.8 -.2l5.6 -2.7l2.7 -1.7l.4 -2l-3.1 -2.7l-4.6 -1.3l-3.7 -1.6l-1 -2.1l-2.5 -3.1l-3.3 -3.7l-2.1 2l-4.1 2.1l-3.6 -1.4l-.6 -3.6l-3.7 -.8l-4.8 -2.9l-7.6 0l-1.5 3.1l1.9 2.3l-.2 3.9l1.4 2.7l.3 4.6l-5.2 .4l-1.3 4.8l-2 1.4l-1.9 -2.1l-1.6 -3.1l-5.6 -3.1l-6.2 -2.5l-6 -1.6l-4 -1.1l-3.9 -2.4l.6 -4l2.5 -2.2l4.6 -1.7l2 -2.5l5.6 -1.6l2.7 -2.7l2.7 -1.9l5.6 -1l1 -2.1l-3.1 -2.5l-5.2 -.4l-5.1 2.7l-3.1 -1.2l-4.2 -2.1l-4.1 .4l-3.7 -3.7l-2.9 .8l.8 2.9l4.1 4.1l-6.6 .7l-2.1 -.2l-8.2 0l-10.4 -.3l-2.7 -.8l-8.7 1.1l-4.7 -.3l-3.5 -1.8l-4.2 -.4l-4.9 -1.5l-6.2 -.8l-1.3 1.4l-5.1 -1.6l-3.2 .4l-3.7 1l-6.6 -.2l-5.2 1.5l-5.1 -1.3l-4.2 -.4l-5.4 -.8l-4.5 0l-8.1 -.8l-5.1 -.7l-4.2 -.2l-4.9 -.8l-5 .8l-5.8 1.3l-2.5 1.8l-2.9 1.1l-3.7 0l1.4 1.8l4.2 2.1l3.7 1.7l-4.3 .2l-3.3 0l-5.4 1zM647.9 62.1l7.8 0l2.7 -4.1l3.6 -6.3l7.2 -1.8l9.3 -5l13.5 -2.5l5.9 -2l1.3 -3.8l-4.8 -2.2l11 -1.9l-2.1 -3.5l4.2 -1.9l-3.8 -3.9l10 -2.1l5.8 -3.1l-16.2 -1.4l-22.7 -.5l-28 -.8l-15.5 1.1l-20.7 .6l-11.3 3.5l-9.3 3.3l12.4 5l14.5 .8l6.2 3.3l2 5.6l7.3 1.9l-5.2 1.8l6.2 2.7l-5.4 2.7l1.9 3.1l5.6 3.1l2 5.2zM0.0 332.2l20.7 -.4l20.7 -.2l16.5 -.4l12.4 -2.5l12.4 0l10.4 -2.7l10.3 -2.1l6.2 -1.6l8.3 1.2l10.4 2.1l10.3 2.5l4.1 6.2l3.1 1.6l3.1 -4.7l6.2 -1.1l12.5 -3.5l14.4 -2.9l14.5 -.6l12.4 -.2l18.6 1.2l16.6 .9l14.5 -.9l16.5 -1l14.5 1.2l12.4 1.9l18.6 2.9l14.5 3.1l12.4 2.1l6.2 1l-4.1 3.1l-6.2 2.7l-4.1 4.1l-4.2 3.6l-2.9 5.1l11.2 3.1l18.6 2.7l10.4 .9l22.7 -1.1l29 1.7l24.8 .8l-20.7 -6.6l-8.3 -1.5l20.7 -2l-22.7 -6l26.9 -3.8l37.2 -4.3l26.9 .8l26.9 2.1l-4.2 -5l26.9 1.5l29 2.3l16.5 -4.6l1.3 -8.7l9.1 -5.4l11.4 -3.3l-7.3 2.3l-8.9 5l8.9 10.1l-1.6 4.3l-30.7 6l-1.4 4.4l17.6 3.5l21.9 4.6l30.6 -3.1l29.2 -2.9l-13.2 -3.6l22.1 -4.5l18.6 -4.4l11.8 -5.7l11 -.3l10.3 -1l0 40.4l-744.7 0zM744.7 332.2l20.7 -.4l20.7 -.2l16.5 -.4l12.4 -2.5l12.4 0l10.4 -2.7l10.3 -2.1l6.2 -1.6l8.3 1.2l10.4 2.1l10.3 2.5l4.1 6.2l3.1 1.6l3.1 -4.7l6.2 -1.1l12.5 -3.5l14.4 -2.9l14.5 -.6l12.4 -.2l18.6 1.2l16.6 .9l14.5 -.9l16.5 -1l14.5 1.2l12.4 1.9l18.6 2.9l14.5 3.1l12.4 2.1l6.2 1l-4.1 3.1l-6.2 2.7l-4.1 4.1l-4.2 3.6l-2.9 5.1l11.2 3.1l18.6 2.7l10.3 .9l22.8 -1.1l29 1.7l24.8 .8l-20.7 -6.6l-8.3 -1.5l20.7 -2l-22.7 -6l26.9 -3.8l37.2 -4.3l26.9 .8l26.9 2.1l-4.2 -5l26.9 1.5l29 2.3l16.5 -4.6l1.3 -8.7l9.1 -5.4l11.4 -3.3l-7.3 2.3l-8.9 5l8.9 10.1l-1.6 4.3l-30.7 6l-1.4 4.4l17.6 3.5l21.9 4.6l30.6 -3.1l29.2 -2.9l-13.2 -3.6l22.1 -4.5l18.6 -4.4l11.8 -5.7l11 -.3l10.3 -1l0 40.4l-744.7 0zM-744.7 332.2l20.7 -.4l20.7 -.2l16.5 -.4l12.4 -2.5l12.4 0l10.4 -2.7l10.3 -2.1l6.2 -1.6l8.3 1.2l10.4 2.1l10.3 2.5l4.1 6.2l3.1 1.6l3.1 -4.7l6.2 -1.1l12.5 -3.5l14.4 -2.9l14.5 -.6l12.4 -.2l18.6 1.2l16.6 .9l14.5 -.9l16.5 -1l14.5 1.2l12.4 1.9l18.6 2.9l14.5 3.1l12.4 2.1l6.2 1l-4.1 3.1l-6.2 2.7l-4.1 4.1l-4.2 3.6l-2.9 5.1l11.2 3.1l18.6 2.7l10.3 .9l22.8 -1.1l29 1.7l24.8 .8l-20.7 -6.6l-8.3 -1.5l20.7 -2l-22.7 -6l26.9 -3.8l37.2 -4.3l26.9 .8l26.9 2.1l-4.2 -5l26.9 1.5l29 2.3l16.5 -4.6l1.3 -8.7l9.1 -5.4l11.4 -3.3l-7.3 2.3l-8.9 5l8.9 10.1l-1.6 4.3l-30.7 6l-1.4 4.4l17.6 3.5l21.9 4.6l30.6 -3.1l29.2 -2.9l-13.2 -3.6l22.1 -4.5l18.6 -4.4l11.8 -5.7l11 -.3l10.3 -1l0 40.4l-744.7 0zM102.0 211.1l2.1 6.9l-1.1 3.5l-2.5 7.2l-2.2 8.7l-4.2 1.7l-3.1 -1.3l-1.2 -6l2 -4.1l-.8 -6.2l4.8 -2.5l3.3 -3.5l1.8 -3.3zM165.3 166.0l2.7 2.5l1.4 2.7l-.6 1.6l-2.1 1.3l-1.4 -1.9l-.4 -2.9zM-11.8 82.8l2.9 -.6l1.9 -.6l3.9 -.3l5.6 -.4l.4 -.8l-1.7 -.6l2.3 -2.1l-2.9 -1l-1.6 -1.3l-1.9 -2l-1.2 -2.5l-2.1 -.4l1.9 -1.7l.4 -1.4l-4.4 0l2.1 -2.1l-4.1 0l-2.3 2.1l1 2.7l-1.2 1l2.9 1.6l3.3 .3l-.8 .8l1.4 1.2l-.4 1.3l-3.1 0l1 1.4l-2.3 1.7l4.2 .8l-2.1 .4l-2.1 1.3zM732.9 82.8l2.9 -.6l1.9 -.6l3.9 -.3l5.6 -.4l.4 -.8l-1.7 -.6l2.3 -2.1l-2.9 -1l-1.6 -1.3l-1.9 -2l-1.2 -2.5l-2.1 -.4l1.9 -1.7l.4 -1.4l-4.4 0l2.1 -2.1l-4.1 0l-2.3 2.1l1 2.7l-1.2 1l2.9 1.6l3.3 .3l-.8 .8l1.4 1.2l-.4 1.3l-3.1 0l1 1.4l-2.3 1.7l4.2 .8l-2.1 .4l-2.1 1.3zM732.3 76.6l-.8 1.6l-2.5 .5l-4.2 .8l-1 -1.3l1.5 -1.6l-1.5 -1.7l3.3 -1.6l.4 -1.3l3.5 0l1.9 1.5l-.8 1.8zM699.2 53.8l7 1.3l7.7 -1.7l2.7 -1.9l-2.1 -2.2l-3.3 -.7l-4.4 .9l-6.4 .4l-5.8 .6l4.6 1l-4.1 .5zM22.8 23.8l10.3 4.1l10.3 -1.8l12.5 -2.9l-8.3 -2.9l-12.4 .4l-12.4 .4zM107.6 38.3l3.1 1.4l5.1 -.8l3.1 1.3l-3.1 -4l2.1 -4.1l8.3 -2.9l10.3 -1.9l6.2 -.2l-10.3 2.3l-12.4 3.7l-5.2 2.5l-6.2 1zM199.6 22.8l7.3 .8l10.3 .8l4.1 -2l-12.4 -4.2l-12.4 .4zM283.4 30.0l6.2 1.5l10.3 -.9l10.4 .2l-8.3 -2l-12.4 .4zM369.2 39.3l3.2 -.6l5.1 -.4l-3.1 -.2l-4.1 0zM95.2 20.1l12.4 .4l16.5 -.8l-4.1 -2.3l-16.6 .8zM293.7 91.1l3.1 -1.7l-.6 -5.4l2.9 .9l-3.3 -5.2l.4 -3.1l-1.4 -2.7l-1.3 1.6l.9 4.8l-1.5 6.6l.6 2.5zM289.6 100.4l2.5 -.6l.8 -1.7l3.3 1.3l4.8 -2.7l-.4 -2.1l-2.7 .4l-4.4 -2.7l-1 4.2l-2.1 .2l-1 2zM291.7 100.8l2 3.5l-2 2.7l-.2 2.9l-.7 2.3l-1.4 1.6l-1.9 .7l-3.7 .2l-.8 .6l-2.1 1.6l-1.4 -2.2l-3.3 .4l-3.1 1l-2.3 -.2l.2 -.8l3.3 -2.1l4.1 -.4l2.9 -.2l1.9 -2.9l.8 .6l3.1 -2.1l2.3 -2.4l.2 -3.1l.6 -1.3zM270.8 116.1l2 1.9l-1 3.3l-1.6 .8l-.9 -1l-1 -3.1l.2 -1.3zM274.3 118.0l1 .6l3.1 -2.1l0 -1l-2.4 0l-2.5 .8zM251.3 133.9l.9 .8l-1.9 4.8l-.6 1.2l-1.3 -2l1.3 -3.1zM224.7 147.0l3.3 -2.3l1.6 1l-1.2 2.3l-1.9 .6l-1.8 -.6zM249.5 148.0l3.3 0l.2 3.1l-1.9 2.5l.6 3.1l4.8 2.7l0 1l-2.3 -1.9l-3.9 -.4l-.8 -1.6l-1.3 -1.1l-.2 -3.1l.9 .9zM252.4 171.8l1.6 -1l2.5 -.7l0 -1l2.9 -3.1l2.5 5.2l-.2 2l-2.3 1.5l-2.5 -1.2l-2.7 -2.5zM252.6 161.7l1.8 2.9l2.1 1.2l2.3 -2.9l.8 -1.9l-2.5 -.8l-2.2 2.9zM242.4 168.9l4.8 -4.3l.4 -1.7l-1.6 2.7zM197.1 174.7l4.6 .8l6.4 6.4l2.3 1.9l4.3 2.3l-.8 1.6l2.3 2.3l2.7 2.7l.6 2.1l-.6 3.5l-2.3 .2l-4.4 -3.5l-3.5 -5.4l-3.3 -3.7l-3.3 -4.8l-3.3 -3.9zM217.6 200.4l1.9 -1.9l4.9 1l4.2 1.1l4.3 0l4.2 1.8l-.5 1.7l-7 -.8l-5.6 -.9l-3.9 -.8zM238.9 203.1l1.9 .8l4.3 -.2l5.2 0l3.7 -.6l0 1.2l-7.8 .4l-6.2 .2zM256.5 206.8l2.3 -2.5l4.5 -.6l-4.7 2.5zM225.5 183.2l1.2 -1.1l3.3 -1.4l3.8 -1l2.4 -2.7l2.7 -1.9l3.1 -3.3l4 3.9l-1.9 1.7l-.2 5l2.3 2l-3.1 1.7l-2.1 3.3l-.8 5l-2.7 .4l-3.1 -2.1l-3.3 -.2l-3.1 -.2l-.2 -2.7l-2.1 -2.3zM247.0 197.5l.6 -4.4l-1.8 -1l1.4 -6.2l1.9 -1.5l7.4 0l2.5 -1.2l-1.7 2.3l-7 -.2l-1.9 .6l.5 2.5l2.4 -.3l3.8 0l-2.7 2.1l1.8 5.4l-1.8 0l-1.5 -3.3l-.8 -.6l-1 6zM263.7 181.7l2.5 2.3l-1.4 3.5l-.8 -3.1zM260.6 192.9l4.2 .2l5.2 -.2l-2.1 -.8l-4.6 1zM271.0 189.2l2.9 -2.1l3.5 1l1.9 5.2l4.9 -3.9l5.4 1.9l6.2 1.6l4.8 2.5l1 2.3l3.7 1.2l1.1 3.9l3.9 5.4l-4.6 -1l-3.7 -4.1l-2.7 -1.1l-2.9 1.3l.2 1.6l-1.6 .6l-3.3 -.4l-4 -2l-2.2 .6l-.9 0l2.3 -3.3l-.6 -1.3l-1.7 -2.5l-4.9 -1l-3.1 -2.1l-1.9 1.3l-1.9 -2.7l2.5 -.6l-2.2 .6l-2.5 -1.7zM306.6 197.7l4.1 -.2l3.5 -2.5l.6 1.4l-4.1 2.9l-3.9 -.4zM323.7 199.9l2.1 1.5l4.6 1.7l2.6 2.8l-2 -1l-5 -2.1zM339.3 227.9l2 .8l4.4 3.5l-2.7 -1zM234.6 231.8l1.6 .2l.9 -.6l4.3 -2.5l4.4 -.6l4.5 -1.7l2.5 -2.6l.2 -1.9l2.3 -.6l1 -1.5l2.1 -2.5l2.5 -1.8l2 -.9l2.7 2.3l2.5 0l-.4 -1l1.4 -2.9l1.5 -1l1.8 -.5l1.9 -.4l0 -1l.8 -.4l2.9 1.4l1.9 .2l2.1 -.4l1.2 .9l-1.2 1.8l-.9 1.9l-.8 1.4l2.7 2.1l3.1 1.9l2.1 1.2l1.8 .6l1.5 -.6l.8 -2.1l.8 -2.9l-.2 -2.7l-.2 -2.2l1 -2.7l1.1 -1.3l1 2.5l1 1.9l.3 2.5l2 .4l1.7 1.4l.4 4l1.2 4.3l5.4 3.1l1.9 3.9l2 .2l.5 2.3l4.1 3.8l.4 1.6l1 4.1l-1 4.8l-.4 2.5l-2.5 2.9l-1.6 3.3l-1.5 2.3l-.6 2.9l-1 1.4l-2.3 0l-4.2 2.5l-1.6 -.8l-1.3 -1.5l-.8 .4l-1.8 1.5l-2.9 -.8l-3.4 -.9l-2 -1.2l0 -2.7l-1.1 -.8l-2 -.2l.6 -2.5l-.4 -2.9l-1.1 -.2l.3 1.4l-1.5 .9l1.2 2.2l-1.8 .5l-1.7 -.7l-1 -.8l-.6 -1.4l-1.3 -1.5l-1 -.8l-4.3 -1.7l-1.5 -1l-3.7 .2l-5 1.4l-2 -.2l-4.4 2.7l-.6 .9l-1.9 0l-1.2 .2l-3.3 -.2l-1.5 .2l-1.2 1l-3.5 1.2l-2.1 -.2l-2.1 -1.2l-1.2 -.4l1.6 -4.2l-.2 -1.2l-1.6 -4.4l-.6 -2l-1.9 -4.2l-.8 -.8l1 -2.1l-.8 -1.4l.8 -2.7zM299.3 270.5l3.5 .9l4 -.5l-.6 3.1l-2.1 2.5l-2.1 -.2l-2.1 -2.9zM357.2 257.7l3.4 1.7l3.3 4.5l3.1 .8l2.2 -.4l-1.2 3.3l-3.9 4.2l-1.7 .6l-1.2 -1l1.2 -1.5l-2.7 -1.9l1.5 -3.1l-.2 -2.9zM357.5 270.1l3.1 1.7l-.9 2l-2.5 2.3l-3.1 3.1l-1.2 2.1l-2.7 1.4l-5.4 -.8l.5 -2.3l3.1 -2l4.5 -2.5l2.5 -2.9zM366.8 223.3l2.4 -1l.5 1.7l-2.5 .2zM562.7 35.2l8.2 -1.3l8.3 -.2l6.2 1.1l4.2 1.8l8.2 2.7l6.2 2.1l3.1 2.1l5.2 2l5.8 2.9l-4.8 .9l-3.1 2.4l-4.1 .5l2.1 1.6l3.1 1.7l-3.1 .8l-4.2 -1.4l-2 1.8l-3.1 .6l-5.2 -.4l-4.1 -1l-2.1 -2.5l-6.2 -.4l5.2 -2.3l3.1 -2.1l2 -2l-1 -2.1l-7.3 -1l-8.2 -1.7l-6.2 -.8l-6.2 -1.3l-2.1 -2zM546.0 19.8l9.9 -3.3l18.6 -2.7l19.8 -.6l21.9 1.7l-1.1 1.6l-9.8 1.7l-8.8 3.8l-7.7 2.8l-7.7 2.1l-6.6 -1l-6.5 -.6l-6.6 -1.1l-6.6 -1.1l-6.6 -1.1zM559.1 28.6l8.9 -1.1l12 1.1l-1 3.3l-11 1.1l-7.8 -1.1zM498.5 38.3l4.2 -2.3l4.1 -1.2l10.4 -.4l6.2 .8l4.1 1l6.2 2.1l2.1 2.5l-4.2 2l-8.2 .7l-10.4 .4l-8.3 -.4l-6.2 -2.7zM485.1 37.3l3.1 -3.4l6.2 -1.6l6.2 .4l5.2 2.1l-1.1 2.5l-8.2 1.6l-8.3 .2zM506.8 30.0l6.2 -2.1l8.3 .7l6.2 1.2l-4.1 1.7l-10.4 .2zM566.8 53.4l4.1 -2.9l4.2 -.4l4.1 2.7l-2.1 3.1l-6.2 .8zM622.0 87.8l6.4 0l6.7 2l.8 -1.8l-2.1 -2.1l-3.5 -1.9l-.4 -4.5l-3.7 1.8l-4.4 4.6zM489.2 86.3l-4.5 -1.4l-4.8 -2.7l1.1 -1.1l5.3 2.1zM569.1 141.0l3.3 -2.1l2.7 -.6l3.7 .4l5.6 2.5l3.9 1.6l2.9 1.5l-1.4 .8l-5.8 0l1.2 -1l-2.9 -2.5l-3.9 -.6l-3.7 -1.1l-2.7 .4zM590.8 148.2l3.7 -3.1l5.4 .4l3.3 2.3l-2.9 .4l-3.9 1.2l-2.3 -.6zM582.7 148.4l4.4 .4l-2.1 .8zM605.7 148.0l3.3 .4l-.8 .6l-2.5 0zM57.9 100.2l1.1 -3.5l.2 -2.1l2 -1.5l1.3 -2.4l3.1 -.9l1.6 1.1l2.3 .4l-2.3 1l2.1 1.9l3.1 -.2l3.1 -1.3l1.7 -3.5l2.4 0l-1.8 1.7l.8 1.8l-.6 1.1l3.7 1.8l4.4 3.3l-.3 1.5l-4.1 1l-4.5 -.2l-4.4 -1.8l-3.5 0l-4.8 1.8l-4.1 -.2zM97.2 95.2l.9 -3.7l3.3 -1.7l4.5 -.8l3.7 1l-.2 2.7l-3.3 1.5l-.8 1l3.3 4.2l1 2l1.9 1.1l-1.4 2.2l1.4 4.6l-5 .8l-2.9 -1.2l-2.2 -2.1l.8 -3.7l1.2 -.9l-2 -1.8l-2.5 -2.5zM554.2 89.6l4.3 -1.4l1.1 -1.3l2.2 -1.6l5 .6l2.9 3.3l-3.9 .8l-7.3 -.2zM563.1 99.4l-.2 -4.2l1.8 -3.5l4.2 -.4l-1.3 2.3l-1.4 2l-.6 4.2zM569.9 91.5l5.6 -.2l3.7 1.8l-3.5 3.6l-1.7 .6l-1.8 -1.9l-1.1 -.2zM572.2 100.0l4.9 -1.9l4.2 -.4l-2.1 1.2l-3.5 1.5zM579.6 96.7l7.5 -1.9l.2 1.7l-6 .2z"/></defs><clipPath id="c0"><rect x="255.60" y="153.78" width="744.70" height="372.57"/></clipPath><g clip-path="url(#c0)"><rect x="255.60" y="153.78" width="744.70" height="372.57" fill="#0032fa"/><path fill="#005fc3" d="M258 154l143 0l-1 4l-2 6l1 2l10 2l11 9l7 -3l8 1l3 -1l2 -2l4 -6l3 -2l19 0l4 2l4 6l3 2l4 1l7 -1l3 2l3 4l0 7l9 2l9 0l4 1l3 -2l5 2l8 -7l6 -7l3 -1l3 -1l16 1l3 1l5 6l6 2l42 0l15 1l11 -2l7 -1l7 1l10 3l13 -2l44 0l13 1l9 0l7 1l1 2l0 7l-1 1l-3 0l-8 0l-7 -1l-17 1l-11 -1l-30 -2l-9 2l-8 4l6 3l3 5l1 3l2 2l30 1l7 1l11 4l5 -4l7 -3l4 -4l3 -2l15 3l17 -3l26 0l10 1l5 0l3 -3l0 -4l-1 -3l-4 -1l-1 -2l8 -1l3 -2l6 -3l4 1l16 1l4 -5l9 -2l1 -1l-2 -3l1 -1l4 -2l4 -1l4 0l4 2l1 2l1 5l1 1l7 4l3 4l5 1l5 7l2 1l8 1l6 0l5 -2l9 -5l3 -1l8 2l5 0l5 -2l0 -1l1 -5l1 -2l7 -2l4 -3l2 -3l9 -5l1 -1l-3 -2l1 -2l2 -2l3 -2l4 0l9 4l4 0l3 -2l4 -8l2 -4l2 0l0 372l-752 0l0 -362l4 -7l1 -3zM458 182l-10 1l-4 1l-1 1l-3 8l-3 2l-4 0l-12 -1l-13 1l-8 -3l-4 1l-2 4l-11 0l-3 2l-11 2l-3 2l0 2l3 2l5 1l5 0l11 -3l16 1l27 1l4 1l10 5l17 0l11 2l5 2l4 7l4 2l5 0l15 0l13 1l4 -1l4 -2l6 -9l3 -2l10 0l14 4l10 -1l7 -4l6 -3l3 -4l3 -2l20 0l5 -2l3 -3l-1 -2l-5 -2l-4 0l-3 1l-16 0l-6 -2l-17 -1l-2 1l-7 3l-5 0l-3 -1l-4 -3l-1 -1l-10 2l-8 3l-12 -1l-14 0l-5 -1l-3 -6l-8 -2l0 -1l4 -2l-1 -1l-4 0l-8 3l-3 1l-4 -1l-7 -3zM833 198l2 3l7 2l4 -1l1 -1l-1 -2l-3 -2l-9 0zM286 203l-3 2l0 2l2 2l3 1l2 -3l1 -2l-2 -2zM848 215l-3 2l-1 6l2 3l3 1l2 0l2 -2l1 -4l-2 -5l-2 -1zM433 229l-2 2l-1 2l0 2l2 2l2 1l3 0l4 -3l1 -3l-2 -2l-4 -2zM455 230l-4 3l-1 5l3 6l2 2l3 1l3 -2l1 -2l3 -5l0 -4l-1 -2l-3 -2l-3 -1zM300 286l-1 1l0 1l2 1l4 1l2 -1l-1 -2l-1 -1zM350 298l-2 1l0 1l1 1l2 -1l1 -1zM317 303l1 0l-1 -1zM385 504l-4 2l-1 4l1 4l3 2l21 1l3 -2l2 -3l0 -4l-2 -2l-2 -1l-15 -1zM798 164l20 -1l4 2l1 2l-3 2l-9 2l-14 3l-3 -2l0 -3l1 -3zM824 185l2 0l-3 0zM396 198l1 0l0 1z"/><path fill="#1a7888" d="M260 162l4 -1l10 0l48 0l7 1l7 5l9 -2l11 2l26 -1l13 5l9 0l5 1l3 4l2 5l-1 6l-3 3l-10 -1l-5 3l-2 3l-4 1l-6 0l-4 2l-17 1l-15 -1l-3 1l-3 2l-12 -1l0 1l8 3l0 1l-3 1l-5 4l2 3l6 4l1 4l-1 3l-8 5l-1 3l1 2l2 2l5 1l25 1l10 -2l4 0l4 3l2 7l1 2l3 0l11 -3l5 0l4 1l3 2l1 4l-1 3l-4 4l-2 3l1 3l2 3l3 -1l5 -8l7 -2l2 -7l1 -3l3 -1l3 0l2 1l1 3l0 6l-2 1l-7 1l-2 3l2 6l2 2l2 1l3 -2l3 -8l2 -1l23 -1l19 0l4 -2l4 -6l2 -3l4 0l9 0l11 -3l12 -9l8 -8l6 -9l4 -2l5 -1l12 1l4 1l4 0l6 0l9 -5l7 -1l5 -4l11 1l18 -5l13 2l7 1l4 -3l-7 -3l-1 -8l3 -4l6 -1l4 0l4 1l8 5l-1 2l-1 1l-3 1l-1 1l1 2l3 2l-6 1l-1 2l2 2l8 0l2 1l0 1l-7 1l-1 2l2 2l6 3l10 -2l11 0l5 -1l7 0l13 3l11 4l3 -3l3 -1l4 0l6 2l3 0l9 -5l5 -1l4 0l3 2l2 2l0 13l1 4l2 2l3 2l5 -2l2 1l6 6l4 1l4 -1l2 -2l1 -2l-1 -7l0 -2l9 -7l1 -2l0 -6l1 -2l7 -2l11 -8l2 -1l1 1l-2 4l0 1l2 2l2 0l4 -1l4 -3l4 2l2 1l-2 3l-1 4l-3 5l1 5l-2 4l-2 2l-5 -4l-3 0l-1 3l2 4l4 3l9 -1l10 2l2 -1l2 -2l4 -8l1 -4l0 -3l-4 -9l1 -3l0 -7l3 -5l-3 -5l0 -3l2 -1l6 -1l6 0l11 5l9 3l5 4l-2 3l0 1l3 2l19 -1l29 -7l8 -3l2 -2l-2 -4l1 0l13 -2l5 -7l9 -7l11 1l4 -1l3 -2l4 -5l3 -3l0 324l-3 2l-2 5l-3 2l-6 1l-12 -1l-4 1l-3 2l-4 6l-3 2l-5 0l-12 -1l-34 3l-5 2l-2 4l-2 1l-6 1l-37 0l-3 -2l-4 -5l-2 -2l-8 -2l-12 1l-5 -2l-3 -4l0 -6l-1 -2l-2 -1l-6 1l-6 3l-4 1l-16 0l-10 -3l-9 0l-4 -1l-23 0l-5 -1l-21 3l-6 0l-8 2l-3 2l1 4l5 3l5 0l12 -1l6 2l2 3l0 3l-2 3l-3 2l-39 0l-13 -2l-3 -2l-3 -6l-3 -1l-4 1l-3 5l-3 2l-4 -1l-5 1l-22 0l-6 0l-3 -1l-7 -1l-6 4l-7 1l-5 -2l-5 -7l-8 -6l-1 -5l0 -13l-3 -2l-3 0l-6 0l-3 2l-4 1l-9 0l-118 0l-4 0l-4 -3l-5 0l-12 3l-5 6l-2 4l-3 2l-5 0l-7 -1l-5 -8l-3 -3l-5 -1l-14 1l-3 -1l-5 -3l-4 0l-7 2l-15 0l-9 2l-53 1l-4 2l-1 4l-3 3l0 -325l5 -6zM305 195l-5 1l-9 3l-8 2l-2 2l-3 6l0 3l8 6l3 -1l2 -2l1 -4l5 -7l4 -2l6 -1l2 -2l1 -3zM965 204l-9 1l0 1l6 1l2 0l4 -2l-1 -1zM292 236l-1 2l2 2l3 0l2 -2l0 -1l-2 -1zM268 266l-1 1l0 2l2 1l2 -1l0 -3zM337 270l-2 2l0 3l1 2l3 1l2 -2l0 -3l-1 -2zM283 277l-4 3l-5 6l-8 7l-1 6l0 3l2 2l4 3l14 4l29 0l4 -1l2 -2l2 -4l-1 -6l-3 -5l-2 -5l-2 -2l-6 -3l-13 -2l-9 -4zM349 284l0 2l1 5l-1 2l-4 3l-1 3l2 4l3 1l3 -1l4 -2l5 -4l1 -2l-7 -5l-4 -6zM335 287l1 2l1 1l1 -1l-1 -2l-1 0zM979 441l-1 1l0 3l3 7l4 2l4 -1l2 -3l-1 -2l-2 -4l-4 -3zM909 447l-6 4l-13 0l-15 9l-5 3l-3 3l-1 3l1 3l1 1l4 2l7 0l4 -2l8 -9l3 0l6 0l4 0l5 -6l7 -4l2 -3l-1 -2l-2 -2l-3 -1zM932 447l-4 2l-2 3l0 4l3 5l4 2l5 2l5 0l3 -1l2 -2l0 -2l-1 -5l-9 -7l-3 -1zM681 458l-3 3l0 2l1 2l6 1l3 -1l3 -1l0 -3l-2 -2l-4 -2zM621 496l-4 4l0 2l0 2l2 2l3 0l5 -1l2 -3l-1 -3l-4 -4l-2 0zM433 214l4 0l11 4l13 -1l7 1l5 3l1 2l0 2l-2 2l-2 1l-12 -3l-10 2l-3 0l-10 -4l-3 -1l-1 -5l0 -2z"/><path fill="#3e8c60" d="M318 164l7 1l8 6l4 2l26 -3l12 0l9 1l11 3l10 0l3 1l2 2l1 5l-2 3l-2 2l-11 1l-3 2l-3 5l-8 0l-3 2l-6 1l-9 -2l-17 0l-3 0l-4 3l-3 0l-19 -2l-5 -2l-6 -1l-6 1l-11 3l-6 0l-4 3l-3 7l-8 4l-2 2l1 3l3 2l7 -1l2 1l2 4l3 1l3 -2l2 -3l3 -3l1 -3l4 -1l1 -5l2 -2l2 -1l3 0l3 2l1 6l0 3l0 2l0 4l-2 5l-2 1l-4 1l-7 1l-4 -1l-12 2l0 2l2 3l9 7l11 3l7 5l8 1l2 0l2 -6l1 0l2 0l1 2l3 1l4 -2l2 -2l1 0l0 3l2 2l3 1l5 -4l8 -1l8 -2l3 0l2 1l3 4l4 8l2 2l3 1l3 -1l3 -1l7 -5l4 -2l3 -1l3 1l1 1l1 2l-4 9l1 11l-5 7l-2 4l1 1l4 4l3 2l8 -7l1 -3l1 -8l3 -4l2 -1l2 1l6 5l5 1l4 -2l5 -7l3 -1l10 2l20 1l15 0l10 -2l5 2l1 0l5 -4l-6 -2l-1 -1l0 -2l4 -2l3 -7l12 -5l11 1l3 -2l1 -3l-1 -7l1 -3l5 -9l4 -3l12 -2l8 1l4 -1l6 1l9 -5l3 -1l4 1l5 -3l2 0l2 2l-2 2l-6 3l1 5l1 0l3 -5l3 -2l9 -3l6 -3l6 -2l9 1l7 1l11 -1l7 5l15 7l4 -1l5 -2l11 -1l5 -1l15 1l5 1l12 6l5 2l3 -2l2 0l13 2l6 -6l2 -1l3 0l2 3l0 10l5 11l-1 4l-2 8l1 3l4 1l14 -1l1 -1l1 -4l2 -2l19 -4l4 0l3 2l5 9l2 1l3 0l2 -1l3 -8l3 -3l3 0l7 1l13 -4l4 -5l5 -3l9 0l3 -1l1 -4l-1 -3l-8 -3l-2 -3l-4 -4l-1 -2l0 -4l5 -3l0 -3l7 -3l0 -1l-4 -4l-1 -2l1 -1l3 0l10 3l10 2l1 1l0 2l1 2l7 4l6 -2l10 0l6 -2l7 -2l8 0l6 -4l10 -3l3 -2l0 -5l4 0l5 4l3 -1l8 -8l9 -6l12 -2l9 -9l0 103l-6 1l-4 1l-5 6l-7 6l-3 6l-3 2l-6 1l-2 2l-1 3l2 8l14 2l13 4l8 -1l0 133l-6 1l-11 -7l-4 -1l-5 -1l-4 1l-3 1l-4 6l-3 1l-13 -1l-7 1l-10 0l-11 2l-8 -3l-4 0l-11 4l-10 1l-4 1l-22 11l-6 4l-10 4l-8 5l-4 1l-10 0l-86 -1l-12 2l-4 -2l-5 -7l-11 -9l-4 -1l-8 0l-8 -2l-5 0l-4 0l-4 1l-7 7l-4 1l-6 1l-11 -2l-5 1l-2 2l-3 6l-3 3l-18 -1l-5 -1l-8 -5l-9 -4l-4 -1l-6 2l-3 -1l-2 -1l-7 -6l-3 -1l-5 0l-5 2l-3 3l-1 4l2 7l0 5l0 2l-3 1l-6 -1l-2 -1l-1 -9l-1 -2l-2 -2l-4 0l-2 2l-1 3l-1 6l-1 1l-3 1l-5 0l-1 -2l-1 -8l-3 -3l-5 -1l-18 1l-13 1l-6 0l-3 -2l-4 -8l-3 -2l-11 4l-12 7l-14 1l-5 -1l-3 -1l-2 -2l1 -10l-2 -3l-4 -2l-12 -4l-2 0l-2 1l0 6l-1 3l-2 2l-3 0l-13 -1l-21 1l-5 0l-3 -2l-6 -7l-4 -2l-3 2l-3 7l-2 2l-3 0l-9 -1l-9 0l-3 -1l-5 -5l-4 -2l-20 1l-14 -5l-11 3l-4 0l0 -133l8 -1l6 1l6 1l8 4l4 1l13 -1l14 1l11 -5l1 -3l1 -12l1 -2l3 -1l0 -1l-5 -8l-12 -3l-10 -2l-9 -2l-7 -3l-8 -1l-2 -2l-1 -6l-2 -1l-3 -1l-6 2l-4 3l-7 1l0 -97l6 -7l5 -2l11 1zM386 182l0 1l0 1l3 -2zM966 203l-3 1l-8 0l-1 1l0 1l5 2l4 0l6 -2l1 -1l-1 -2zM783 259l0 7l2 3l4 0l4 -3l1 -3l-1 -3l-5 -2l-3 0zM337 266l-2 2l-2 3l-2 12l3 6l7 7l4 8l4 1l5 -1l12 -7l1 -2l0 -1l-5 -2l-5 -4l-5 -9l-5 -4l-4 -8l-3 -2zM325 202l7 1l1 1l0 1l-2 2l-2 1l-4 -4l0 -1zM610 485l5 0l2 4l-1 4l-4 3l-3 0l-3 -3l-6 0l-2 -2l-1 -2l1 -1l8 -1zM632 485l4 0l3 4l0 4l-2 3l-2 1l-2 -1l-4 -4l-1 -2l1 -2z"/><path fill="#40a224" d="M316 167l4 0l3 0l3 3l3 5l7 2l8 0l8 -2l4 -3l8 -1l10 0l20 6l10 -1l3 2l0 3l-1 2l-3 1l-6 -1l0 -2l0 -1l-2 0l-14 3l-1 1l0 1l13 -1l-4 4l-3 5l-5 1l-3 2l-4 0l-3 -1l-5 -1l-19 0l-5 1l-4 3l-2 0l-10 -1l-9 -1l-5 -2l-6 -1l-15 4l-9 0l-4 3l-2 7l-3 3l-5 1l-2 3l1 3l2 3l2 1l3 0l-2 2l-1 2l0 2l3 4l-1 3l-2 1l-6 -2l-5 0l-2 -2l-4 -3l-2 -2l0 -49l6 -7l3 -2l3 -1l11 1l35 -1zM1004 169l0 64l-1 -2l-6 -4l-2 -3l-1 -2l-2 -2l-2 1l1 3l3 4l-2 4l1 2l7 2l-3 3l-4 1l6 4l5 -1l0 23l-14 3l-3 4l-4 4l-6 7l-8 6l-3 6l2 6l0 7l12 1l13 6l11 2l0 115l-7 0l-11 -1l-12 -1l-3 -2l-4 -6l-4 -1l-4 2l-2 8l-2 2l-11 0l-7 5l-5 2l-8 0l-7 -1l-5 0l-15 5l-11 0l-7 -2l-2 4l-2 2l-9 6l-7 3l-8 4l-14 4l-11 -1l-88 0l-4 -1l-4 -8l-3 -2l-10 1l-10 -3l-11 0l-14 -2l-8 1l-10 4l-9 -1l-6 2l-4 1l-4 -1l-7 -3l-2 0l-3 2l-2 7l-1 2l-4 1l-6 1l-14 -5l-10 -4l-8 -2l-8 -4l-16 0l-15 3l-15 -1l-29 1l-4 -1l-4 -5l-4 -2l-12 0l-9 -2l-2 0l-5 5l-3 2l-7 3l-5 1l-2 -2l-3 -6l-3 -3l-3 -1l-9 0l-6 -1l-5 -1l-8 -4l-6 -2l-5 0l-3 2l-6 5l-3 2l-7 0l-3 -1l-2 -1l-11 -14l-6 -2l-4 0l-3 2l-6 5l-10 2l-3 2l-4 6l-6 1l-3 0l-7 -2l-5 -1l-21 0l-3 -1l-10 -5l-11 -2l-7 0l0 -116l8 1l10 -1l9 4l5 1l27 0l10 -3l6 3l5 0l2 0l1 -2l-2 -4l-6 -3l-2 -2l-1 -6l1 -5l1 -3l3 -2l0 -1l-5 -11l-13 -3l-18 -2l-7 -4l-7 -1l-2 -2l-2 -6l-2 -1l-3 0l-7 1l-11 3l0 -25l3 1l5 -1l10 0l8 -3l3 0l16 7l9 6l11 1l8 0l6 2l3 4l1 2l-3 7l-3 11l0 3l11 14l4 7l2 2l4 0l9 -1l10 -5l2 -2l1 -2l0 -2l-2 -2l-6 -1l-2 -1l-6 -7l-2 -7l-4 -5l0 -2l2 -2l3 0l7 3l3 1l3 -1l6 -2l2 0l5 7l5 5l2 5l6 2l8 7l9 -8l4 -8l2 -1l10 3l9 1l4 1l4 3l7 7l2 0l6 -5l7 -9l4 -1l5 0l3 1l6 6l2 1l13 0l2 -1l4 -6l0 -5l-2 -3l0 -2l6 -5l-2 -1l-5 -1l0 -1l3 -3l1 0l1 2l5 0l1 -6l3 -2l4 -1l11 -1l5 -3l2 -3l-1 -10l1 -5l4 -6l6 -3l7 -1l7 0l4 0l6 0l4 -1l5 -4l3 0l3 1l-1 5l1 6l1 1l5 -2l2 -6l3 -2l11 -2l8 -3l4 -1l13 3l10 1l10 4l10 7l8 2l3 -1l2 -1l-1 -1l-2 -1l2 -4l7 -2l4 0l5 -2l7 0l13 3l16 8l10 0l4 2l2 3l1 6l1 3l-1 2l0 2l1 3l1 0l4 -1l2 -6l2 -3l2 -1l2 2l1 2l0 3l-1 3l-5 4l-1 2l-1 14l11 13l1 -1l0 -2l2 0l5 5l2 1l4 -4l12 -1l9 -8l3 -2l8 0l9 -1l9 3l5 0l2 -2l1 -6l1 -2l4 -3l6 -8l10 -4l-2 -2l3 -3l2 0l2 -2l3 -1l5 1l3 1l2 3l2 0l0 -4l2 -5l1 -3l-6 -5l-5 -8l-4 -1l0 -1l0 -2l3 -2l1 -3l7 -4l5 0l8 1l8 4l3 3l6 -2l8 0l6 -4l7 -2l2 0l6 1l3 0l2 -1l4 -4l9 -4l4 -3l3 3l3 0l6 -1l7 -7l9 -3l12 -7zM954 203l-2 2l1 2l6 2l5 0l5 -2l3 -2l-1 -1l-3 -2l-5 1zM580 229l0 3l1 1l1 -2l0 -2l-2 -1zM859 240l-3 4l10 0l-1 -3l-1 -1l-5 -1zM871 245l1 0zM867 246l1 1l3 -1l-4 0zM327 266l-3 2l1 3l2 -1l3 -3l-1 -1zM764 280l2 3l1 0l-1 -2l-2 -2zM420 295l-3 3l0 2l4 1l4 0l0 -3l-1 -3l-2 -1zM341 327l0 2l2 3l4 1l2 -2l1 -2l-3 -2l-3 0zM283 369l-1 3l0 5l2 4l2 9l7 17l1 1l1 -1l3 -7l0 -6l-4 -8l-8 -7l-1 -3l-1 -7zM856 389l-4 12l3 9l-1 13l1 3l3 5l1 1l2 1l4 -2l2 -2l0 -4l3 -3l-3 -4l-1 -3l3 -14l-1 -3l-7 -8l-3 -1zM329 204l2 0l0 1l0 1l-2 0l-1 -1zM304 209l2 1l1 2l-1 2l-1 1l-3 -1l-1 -2l1 -2zM594 211l1 1l-1 1l-2 1l-1 0l1 -2zM295 218l7 1l4 -1l1 3l-2 2l-4 1l-5 2l-4 0l-5 1l-6 0l-2 0l-1 -1l1 -4l0 2l4 2l2 0l4 -3l2 -3zM253 236l2 0l-3 3l0 -4z"/><path fill="#70ae14" d="M262 171l4 -1l11 3l2 4l4 2l6 2l8 0l8 3l14 -2l7 0l10 2l16 -6l4 -1l12 1l13 -1l4 0l3 2l-10 4l-1 1l-1 3l-3 2l-2 3l-1 0l-19 -1l-10 1l-3 1l-3 4l-1 0l-7 0l-10 -2l-4 -2l-6 0l-15 2l-7 0l-5 1l-3 2l-2 2l-1 7l-7 4l-1 2l0 3l1 5l-1 1l-4 3l-2 1l-4 -2l-2 -3l0 -9l-2 -5l0 -26l7 -8zM364 173l4 0l-1 1l-3 0l-1 -1zM1004 173l0 53l-3 -2l-2 -2l0 -10l-1 -3l-2 -3l-2 -1l-2 2l-5 5l-5 4l0 5l3 4l-3 5l0 1l4 0l3 -3l1 2l0 6l3 1l-2 2l0 2l5 3l3 4l5 -2l0 19l-8 2l-7 -1l-3 4l-4 4l-2 3l-2 3l-6 5l-3 3l-4 8l2 6l-1 7l1 2l11 2l9 6l9 3l6 4l2 0l0 97l-8 1l-3 -1l-2 -3l-3 -6l-2 -2l-2 0l-7 -1l-13 2l-15 -2l-5 1l-3 1l-4 6l-2 3l-15 1l-2 3l-1 6l-1 2l-9 4l-9 4l-5 1l-4 -1l-3 -1l-3 -4l-3 -2l-6 -2l-5 1l-2 2l0 2l1 7l-1 3l-3 3l0 2l-3 2l-3 0l-4 -2l-7 -5l-3 -4l-5 -1l-2 -1l-4 -6l-2 -2l-3 -1l-7 1l-3 -1l-2 -2l-4 -7l-5 -1l-86 0l-13 0l-4 1l-5 7l-3 2l-4 -2l-5 -6l-3 -2l-5 -1l-10 0l-5 1l-4 2l-1 4l-1 9l-1 3l-9 9l-3 2l-3 -1l-4 -2l-7 -7l-5 -6l-3 -3l-3 0l-9 1l-6 2l-3 0l-2 -2l-2 0l-1 3l1 3l7 6l2 4l0 4l-2 2l-2 0l-12 -5l-8 -6l-3 -1l-13 2l-24 -2l-30 0l-11 1l-11 -3l-13 -1l-3 -1l-8 -6l-8 -1l-3 -1l-3 -2l-3 -6l-6 -2l-13 0l-15 0l-3 1l-3 6l-2 2l-3 0l-13 0l-10 4l-3 1l-3 -1l-3 -2l-7 -9l-3 -1l-16 1l-10 5l-11 2l-8 4l-6 0l-26 0l-7 -3l-10 -2l-9 -7l-3 -1l-5 1l0 -101l5 4l5 0l3 1l4 3l5 0l3 1l3 -2l3 -1l12 1l15 0l10 1l9 -2l3 -1l2 2l3 4l2 2l5 2l3 0l5 -5l2 -5l-1 -1l-13 -4l-5 -7l-6 -3l-3 -3l0 -8l1 -2l3 -2l0 -2l-4 -9l0 -2l0 -2l1 0l8 9l9 14l2 2l2 0l9 0l6 -1l9 -5l2 -2l2 -3l0 -2l-5 -4l-5 1l-3 -1l-7 -7l-1 -2l1 -3l5 -4l6 0l5 1l3 2l3 7l1 1l3 1l9 0l3 1l7 8l6 1l1 2l0 4l2 3l12 0l4 -2l4 -4l-3 -8l1 -4l5 -2l5 0l3 2l2 2l9 12l2 3l4 0l3 7l3 0l2 1l8 8l6 -3l1 -2l1 -11l-2 -3l0 -3l1 -5l1 -2l5 -2l11 -1l2 -1l6 -9l0 -5l-2 -3l0 -2l3 -2l9 -1l1 -2l-1 -5l3 -3l9 -3l4 -1l5 -4l5 -6l2 -10l2 0l2 1l3 -1l2 1l3 -1l1 -2l1 -3l-3 -7l3 0l4 0l4 -1l6 1l5 -2l4 -3l4 0l0 1l-1 3l-4 4l-3 4l1 7l1 1l2 1l2 -2l4 -4l7 -4l1 -5l3 -3l17 -4l5 0l11 5l12 0l6 3l2 3l1 3l-5 17l0 2l3 2l9 -1l5 1l7 5l4 2l18 1l5 -1l2 -2l0 -3l-9 -7l-1 -2l0 -2l2 -2l3 -1l8 1l3 0l4 -4l2 -3l-1 -3l-6 -3l-6 0l-10 2l-4 -1l-3 -3l0 -3l1 -1l4 0l6 -2l14 1l5 1l15 9l5 1l3 2l4 0l2 3l0 4l2 3l1 7l-1 5l1 6l8 15l7 4l9 11l3 2l1 1l1 -1l-2 -3l0 -2l8 5l3 3l1 4l1 2l3 2l3 1l1 -1l3 -3l5 -4l-2 -10l1 -2l3 -3l4 -2l9 1l4 -2l12 -1l6 -6l5 -3l1 -5l3 -5l4 -5l5 -3l9 -2l4 3l10 -4l13 -3l1 -2l-1 -3l-6 -2l-3 1l-1 -1l3 -3l0 -2l-8 -7l-1 -4l0 -5l2 -3l2 -2l4 -1l11 0l3 1l2 4l2 1l3 0l3 -2l5 2l2 -1l5 -6l2 -1l6 -1l4 1l6 1l10 -4l4 1l2 3l2 1l8 1l7 -1l4 -2l0 -2l-1 -1l-4 -2l-6 1l-3 -1l3 -2l8 -2l7 -5l2 1l6 2l4 0l3 -3l3 -9zM986 250l-3 0l-1 2l0 7l1 3l6 3l6 -2l2 -2l-1 -4l1 -6l-4 -2zM406 312l-1 2l0 2l2 2l3 0l0 -2l-1 -3l-1 -2zM825 319l2 3l5 3l1 1l0 2l1 2l8 0l2 -2l0 -3l0 -1l-5 -1l-2 2l-1 0l-1 -2l-5 -2l-4 -3zM856 319l-1 2l1 7l2 2l3 0l5 -4l1 -3l0 -2zM768 339l-14 4l-2 2l2 2l5 1l11 -1l27 0l14 2l11 -1l2 -1l0 -1l0 -4l-3 -3l-13 3l-12 -4l-10 1l-14 -1zM829 350l-2 1l0 2l1 7l3 4l11 8l0 -3l-5 -11l-6 -7zM285 363l-3 3l-2 5l1 6l1 5l-3 5l-1 3l2 3l5 1l3 4l1 3l0 4l0 2l5 3l3 0l3 -2l4 -9l0 -5l-7 -10l-8 -8l-3 -12l-1 -1zM843 374l1 4l0 7l3 10l0 10l4 7l-2 7l-1 12l1 1l4 3l5 6l2 1l4 -3l-2 -3l5 -3l1 -3l1 -4l2 -2l2 -2l7 -4l1 -1l0 -2l-2 -3l-4 -2l0 -10l-3 -5l-9 -9l-7 -2l-4 -6l-5 -3l-3 -2zM523 380l-5 3l-3 1l-5 1l-7 -1l-5 0l-4 2l-1 1l-1 5l2 6l1 1l2 1l17 -1l6 1l9 6l5 1l1 0l3 -3l3 -1l2 1l4 5l3 1l3 0l3 -2l2 -3l0 -4l-2 -5l-2 -2l-4 -2l-12 -1l-2 -2l-3 -5l-2 -2l-5 -2zM608 412l-2 3l1 4l4 3l3 0l2 -4l0 -5l-3 -2zM863 237l4 1l3 5l-2 0l-1 -3l-1 -1l-4 -1zM279 243l4 0l12 4l9 7l19 1l6 3l2 3l1 3l-11 3l1 6l2 2l4 -1l-1 3l-2 2l-4 1l-9 -2l-9 0l-4 -1l-6 0l-8 -4l-6 -1l-2 -2l-1 -6l-4 -1l-9 1l-11 3l0 -22l2 3l1 0l5 -3l12 0zM673 434l3 0l4 3l2 6l-1 2l-6 1l-5 -2l-1 -2l0 -3l2 -3z"/><path fill="#9eb91c" d="M263 175l6 0l10 6l15 2l9 5l13 -3l8 0l5 3l4 7l-2 1l-4 0l-9 -1l-5 -2l-7 -1l-9 2l-12 0l-6 0l-3 2l-3 3l-1 8l-6 4l-3 5l-1 1l-2 -2l-6 -14l-2 -6l1 -7l2 -4l4 -6zM1004 178l0 35l-6 -13l-1 -5l2 -10zM355 182l8 0l2 1l1 2l-2 2l-3 1l-11 -2l1 -2zM935 209l11 -1l13 2l9 0l8 8l4 8l0 3l0 3l1 1l7 1l-2 4l-5 2l-5 5l-5 3l-2 4l-1 3l2 2l3 1l5 0l3 5l1 1l4 1l1 1l-1 2l-5 4l-2 5l-2 3l-6 4l-5 5l-2 7l2 6l-1 8l2 4l5 5l4 7l8 4l4 0l1 1l-1 5l-7 4l-2 3l0 2l1 2l3 1l3 0l3 -1l5 -6l5 -1l2 1l1 8l2 2l0 60l-3 -2l-5 -7l-3 -2l-12 3l-11 -1l-26 0l-20 -1l-4 2l-6 8l-11 10l-13 4l-4 6l-4 0l-4 -1l-3 -4l0 -3l6 -4l2 -2l0 -4l3 -1l2 -1l3 -4l1 -2l-3 -1l-7 -2l-4 -7l-7 -6l-5 -6l-9 -2l-3 -4l-9 -6l-6 -14l-5 -6l0 -4l-1 -4l3 -4l17 1l7 -1l3 -2l9 -7l3 -1l9 0l3 -2l-1 -2l-2 -2l-5 1l-4 -1l-6 -4l-10 -1l-3 -1l-4 1l-4 0l-6 4l-6 -2l-4 1l-4 -3l-2 -4l-8 6l-4 6l2 7l-2 3l-5 1l-4 0l-2 -3l0 -2l1 -6l-3 -3l-3 -1l-11 1l-12 -2l-10 0l-12 -1l-7 1l-4 3l0 2l1 2l4 2l12 -1l3 2l1 2l-1 2l-4 2l-14 3l-2 2l0 2l2 2l3 2l11 3l39 -1l11 3l10 0l3 1l1 2l2 7l2 3l8 8l2 3l0 9l1 2l4 5l2 3l0 12l6 6l-2 8l-1 2l-4 -1l-4 -1l-5 -7l-3 -2l-3 -1l-7 0l-3 -1l-2 -2l-3 -6l-3 -2l-3 -1l-13 1l-85 0l-14 2l-14 -1l-44 0l-13 -1l-10 1l-10 -1l-5 2l-4 8l-11 10l-3 1l-3 1l-5 -1l-6 -4l-5 1l-3 1l-3 0l-5 3l-3 0l-10 -1l-47 0l-4 -2l-6 -8l-5 -2l-9 2l-10 0l-12 1l-27 0l-12 -2l-9 0l-30 1l-3 1l-3 4l-4 2l-12 1l-9 6l-12 -1l-8 4l-3 1l-18 0l-5 -1l-9 -4l-7 0l-2 -1l-2 -2l-4 -7l-8 -5l-5 -7l0 -63l3 0l1 1l1 8l2 2l14 -3l6 2l3 3l1 2l-1 4l-6 7l3 6l0 7l0 1l-3 3l-2 3l0 4l0 5l2 4l5 3l3 5l3 2l7 3l3 0l4 -1l2 -2l2 -5l4 -8l1 -3l-2 -4l-5 -7l-10 -7l-2 -3l-2 -12l-3 -8l1 -6l1 -4l3 -2l5 -1l25 0l11 2l9 0l7 -3l5 -5l3 -6l0 -3l-10 -1l-4 -2l-2 -2l-4 -5l-6 -3l-3 -2l-1 -4l1 -4l4 -5l-4 -9l-1 -2l1 -2l8 9l10 16l3 0l8 0l7 -1l10 -5l3 -4l1 -3l0 -2l-6 -4l-5 1l-3 -1l1 -1l2 -1l1 -1l-6 -6l0 -2l2 -1l4 -1l3 1l2 3l2 4l2 2l6 1l5 0l6 0l8 8l4 1l2 2l2 11l-5 2l-1 4l1 3l5 2l2 0l1 -2l-3 -9l12 -2l6 -3l5 -6l-1 -5l0 -3l3 -2l3 0l3 1l2 3l4 2l5 7l2 4l3 0l2 0l3 8l2 -1l3 1l8 8l7 -2l1 -2l2 -8l4 -9l0 -3l-2 -2l1 -2l3 -2l8 -1l3 -3l5 -6l1 -7l-1 -4l11 -4l2 -5l4 0l4 -6l8 -3l11 -12l5 -4l4 1l5 -2l3 1l3 3l0 7l4 1l9 0l5 -2l5 -7l3 -2l19 0l9 1l3 -1l4 -2l5 -8l4 -2l4 0l3 0l2 2l1 2l0 3l-2 6l-7 7l-1 4l2 4l5 3l6 2l13 -1l13 3l22 1l12 -2l6 1l4 2l6 6l3 2l9 -1l3 1l2 2l3 6l2 3l2 0l11 1l12 13l3 2l6 1l6 5l5 1l10 -8l0 -3l-2 -3l-1 -5l1 -2l2 -3l4 -1l8 1l3 -2l3 -1l7 1l3 1l3 -6l3 -3l6 -3l0 -3l4 -6l6 -4l2 -3l2 -2l7 -1l3 2l1 1l10 -3l11 -1l4 -3l3 -6l0 -5l-1 -4l-1 0l-2 0l-5 3l-8 -7l2 -6l2 -4l5 -1l5 1l2 2l3 7l2 1l14 0l8 0l4 -1l3 -1l0 -11l1 -1zM549 248l-3 3l0 2l1 1l2 -2l4 0l5 -4l-8 0zM547 256l-1 1l-1 3l-4 5l1 1l2 -1l1 -1l2 -6zM462 324l0 2l2 5l2 1l2 0l1 -2l-1 -2zM962 332l-3 2l-1 2l1 3l5 3l4 -1l2 -4l0 -4l-3 -1zM525 369l-2 2l-5 0l-1 7l-3 3l-16 2l-6 3l-1 7l3 8l2 3l7 1l11 -1l4 0l14 5l5 3l2 0l2 -2l1 0l1 3l3 3l14 -3l4 0l2 -1l5 -7l-1 -3l-4 -2l-1 -2l1 -4l1 -3l0 -3l-8 -9l-4 -6l-1 -1l-3 -1l-3 5l-3 1l-11 -5l-3 0l-4 -4zM725 228l6 1l5 5l2 3l3 3l1 4l-1 3l-24 0l-3 0l-2 -2l-1 -3l2 -3l8 -8zM281 245l3 1l10 3l9 7l19 1l5 2l2 2l1 2l-6 3l-4 0l-1 1l0 6l5 3l0 1l-1 1l-3 1l-8 -2l-8 0l-5 -2l-4 2l-2 -1l-7 -3l-7 -2l-1 -1l-1 -6l-4 -2l-10 1l-11 3l0 -3l2 -2l1 -8l3 -4l4 -2l9 0zM1004 248l0 16l-7 2l-4 0l-1 -1l4 -1l3 -3l2 -9zM356 279l1 0l2 1l0 3l-2 -1zM260 328l3 0l4 3l7 1l1 2l-1 4l-3 1l-14 0l-1 -2l1 -7zM1003 329l1 -1l0 11l-2 0l-1 -2l0 -6zM556 425l5 0l0 3l-1 1l-2 1l-1 -1l-1 -3zM888 432l5 1l5 1l1 2l0 2l-4 2l-5 0l-2 -2l-1 -2l0 -2z"/><path fill="#c8c422" d="M263 182l4 0l11 3l12 0l4 1l2 3l-1 2l-2 0l-15 1l-5 2l-2 2l-1 3l-1 8l-5 3l-2 -2l-3 -5l-2 -7l0 -4l2 -5l2 -3zM1004 186l0 17l-2 -4l0 -4l0 -4zM318 187l3 1l3 1l3 5l-2 0l-7 0l-10 -3l5 -3zM935 214l2 0l1 0l0 1l-2 1l-2 -1zM903 228l21 1l3 2l6 6l3 0l6 -1l3 1l6 7l8 6l1 3l-2 2l-3 2l-6 2l-2 2l0 2l1 3l3 2l3 0l12 -1l2 1l1 2l0 3l-1 3l-8 5l-1 4l1 5l5 12l-1 7l0 3l6 9l0 2l-3 3l-10 2l-11 -1l-5 1l-9 4l-9 7l-3 2l-2 4l-3 1l-6 -1l-4 -3l-5 0l-2 -1l-2 -3l-2 -5l-3 -5l-2 -5l-3 -2l-4 -1l-6 2l-7 -4l-9 0l-4 -2l-3 1l-5 0l-6 4l-5 -2l-5 0l-3 -2l-3 -7l-2 1l-3 3l-4 1l-4 5l-4 2l-3 0l-8 -4l-12 2l-12 -4l-8 1l-14 -1l-17 3l-9 -2l-17 0l-5 3l-4 4l-1 3l0 3l2 7l2 3l3 1l9 0l8 5l2 2l13 0l21 6l37 -1l6 2l2 2l1 2l-2 2l-9 5l-2 3l0 4l2 4l3 3l3 1l8 0l5 2l1 3l0 3l-2 2l-3 2l-5 1l-16 -1l-37 0l-17 -1l-26 0l-4 -1l-4 -5l-3 -2l-15 -4l-18 1l-28 0l-3 0l-3 2l-4 7l-3 2l-19 1l-10 -2l-4 1l-2 2l-1 2l1 9l-1 3l-6 6l-5 1l-3 -1l-3 -2l0 -2l3 -5l0 -6l-1 -7l-7 -9l-4 -11l-8 -3l-2 -3l-1 0l-3 8l-1 1l-2 1l-7 -4l-1 -6l-6 -1l-5 1l-3 3l-3 0l-2 0l-2 3l-2 4l-1 2l-15 4l-6 4l-1 8l5 13l-1 4l1 2l-1 1l-3 0l-2 -1l-5 -5l-3 -2l-16 -4l-31 1l-36 0l-13 0l-16 -2l-17 4l-2 2l-4 5l-5 3l-4 4l-3 2l-12 -1l-9 6l-3 0l-15 1l-5 -1l-8 -5l-4 -3l-1 -2l0 -3l1 -1l2 -1l15 2l9 -1l2 -2l2 -5l3 -4l3 -2l5 0l2 -1l2 -3l0 -3l-1 -1l-4 -3l-1 -2l1 -3l3 -2l5 -1l10 -5l3 -4l-1 -8l-5 -2l-3 -2l-2 -3l1 -3l2 -3l15 -8l11 0l2 1l0 2l0 7l-1 4l-9 6l-2 3l1 3l4 2l0 2l-4 4l0 2l3 1l3 0l2 -2l3 -4l1 -8l3 -3l3 -1l14 -1l13 2l9 -3l5 -1l17 1l12 -1l10 1l4 -1l6 -6l3 -1l13 1l8 -1l26 1l6 -2l2 -4l1 -7l-1 -9l2 -4l0 -2l-1 -3l-3 1l-4 -1l-4 2l-3 4l-3 0l-4 3l-6 -2l-10 4l-3 -1l-4 -4l-6 -2l-4 -3l-1 1l0 3l0 2l-6 1l0 4l-1 2l-6 3l-5 2l-12 0l-21 -2l-12 1l-11 0l-11 3l-14 0l-2 0l-1 -6l-3 -3l0 -2l5 -11l0 -2l-6 3l-4 1l-5 -1l-4 -2l-4 -6l-6 -3l-2 -1l-2 -4l1 -3l3 -4l1 -2l-4 -7l-1 -4l4 2l4 5l10 17l3 0l7 1l8 -2l10 -5l3 -4l2 -4l0 -2l-7 -6l-2 0l0 -2l-4 -3l-1 -1l1 -2l3 1l2 3l6 4l6 1l7 -1l4 1l8 8l4 1l1 1l1 8l-5 5l-1 5l2 4l6 2l3 -1l1 -1l-2 -8l1 -1l9 -2l6 -4l6 -7l1 -6l2 -1l1 0l3 2l3 0l2 1l6 7l2 5l4 -1l4 10l2 -2l1 0l3 1l4 5l2 4l7 -1l2 -1l1 -2l3 -9l5 -10l1 -6l1 -1l4 -2l4 -3l6 -8l2 -8l10 -5l9 -9l3 -1l9 1l3 -2l1 1l0 2l-5 5l-1 3l4 0l2 -1l2 -2l3 -6l0 -3l1 -1l11 -1l11 -2l13 -1l12 -2l7 2l15 9l3 0l8 -4l5 0l10 6l9 7l3 1l8 -1l2 1l3 4l3 2l3 1l9 0l9 3l2 0l1 -2l5 -6l2 -3l6 -2l4 0l4 2l4 7l2 2l11 0l9 8l13 2l14 14l3 1l8 -2l5 3l6 1l8 -6l2 -2l1 -2l-1 -3l-3 -4l-1 -2l1 -2l2 -3l4 -1l8 1l4 -3l2 0l6 1l2 0l4 7l-1 -8l2 -4l3 -3l7 -4l0 -4l3 -5l8 -4l1 -4l8 -1l2 2l2 0l8 -2l15 -1l4 -2l3 -4l2 -3l1 -7zM832 293l1 1l1 -1zM841 297l1 1l1 -1l-1 -1zM677 299l1 2l2 -1l-1 -1l-1 -1zM849 300l0 1l1 1l2 0l3 -1l0 -1l-3 -1zM506 303l-1 7l1 1l4 1l2 -3l-1 -4l-2 -2zM511 316l-1 2l2 1l2 -3l-1 -1zM615 331l-5 2l-12 9l-1 4l3 4l5 1l7 -1l7 -6l7 -4l1 -3l0 -3l-3 -2l-4 -1zM548 340l-3 3l-5 1l-4 4l5 4l1 4l8 2l2 -1l3 -3l1 -10l0 -2l-2 -2l-3 -1zM282 247l12 4l7 7l6 -1l4 1l10 0l5 2l2 2l-1 1l-3 2l-4 0l-2 1l-1 1l-1 8l-2 1l-10 -1l-5 -1l-4 2l-2 0l-4 -2l-3 -2l-6 -1l-1 -2l-2 -6l-2 -2l-1 -3l-2 -1l-3 1l-4 3l-5 2l-5 1l-2 0l3 -3l1 -4l3 -6l3 -2l15 0zM1004 252l0 11l-5 1l-1 0l2 -3l1 -3zM319 275l2 1l-3 0zM501 330l1 0l2 3l0 2l-2 2l-1 0l-1 -3l0 -3zM945 339l4 0l3 0l8 8l4 2l22 4l3 1l1 3l-2 3l-16 12l-2 2l0 3l2 3l3 2l4 0l10 -2l5 0l3 2l4 7l3 2l0 11l-5 -7l-4 -2l-42 0l-13 -2l-15 2l-3 -1l-3 -2l-1 -4l0 -4l3 -9l4 -6l4 -13l7 -5l5 -7zM270 353l4 0l2 1l1 2l-1 2l-2 3l-3 1l-2 0l-4 -1l-1 -3l2 -3zM303 360l7 0l4 1l3 3l0 5l-3 2l-5 2l-6 -1l-6 -1l-2 -4l0 -4l2 -2zM864 360l5 0l4 1l2 2l0 4l-1 3l-10 7l-3 1l-3 0l-5 -4l1 -4l4 -7zM894 360l5 0l5 2l2 2l1 3l1 6l-1 4l-2 2l-7 3l-1 3l0 2l3 5l1 9l6 3l1 3l-3 4l-7 7l-5 2l-5 0l-2 -1l0 -4l7 -8l2 -4l-2 -2l-8 -4l-5 -6l-5 -4l-1 -3l5 -11l6 -4l5 -7zM252 382l5 8l7 2l3 1l0 6l-1 2l-2 2l-2 1l-3 -2l-5 -7l-2 -1z"/><path fill="#f0ca28" d="M905 234l3 -1l12 3l12 9l7 12l2 5l-2 5l-15 8l-6 2l-1 3l1 5l1 3l4 1l11 0l8 0l7 -1l3 1l2 1l5 8l2 6l-1 6l-3 7l-2 2l-15 4l-13 7l-5 2l-24 0l-3 -3l-3 -8l-5 -2l-7 -1l-5 2l-5 -3l-10 -1l-4 -1l-3 1l-6 0l-4 3l-12 -3l-2 -1l-2 -7l-8 -2l-1 -8l-2 0l-4 4l-5 1l-1 1l1 2l7 7l-1 4l-4 2l-3 0l-8 -3l-8 2l-3 0l-5 -2l-3 -3l-1 -3l1 -3l3 -4l2 0l11 2l6 -4l3 -3l2 -3l-1 -4l-1 -3l-3 -2l-1 -2l2 -3l3 -1l9 1l6 -3l7 0l2 3l1 6l-4 5l-1 2l1 2l3 1l8 -1l3 3l5 -1l0 -1l-5 -3l-1 -2l3 -1l10 -1l3 -1l-11 -7l-4 0l-5 1l-2 -2l-1 -4l1 -3l2 -2l8 -5l1 -5l3 -5l7 -4l2 -3l3 -1l4 -1l3 3l8 -1l13 0l4 -1l3 -2l6 -5zM849 299l-1 2l2 2l3 0l4 -2l0 -1l-3 -1l-3 -1zM282 251l8 2l7 6l4 2l2 0l3 -2l5 1l8 -1l4 1l2 2l1 1l-2 1l-4 0l-4 2l-2 7l-2 1l-7 0l-6 -2l-5 3l-3 -1l-11 -5l-1 -8l4 -4l-3 -3l0 -2zM568 254l7 -1l28 1l5 3l10 8l4 1l3 -1l6 -5l4 0l4 2l4 3l7 10l2 2l11 0l10 3l11 1l11 6l3 -1l7 -8l2 -1l2 0l2 3l2 7l2 2l7 1l12 -3l14 4l4 2l9 8l3 4l0 4l-1 2l-6 0l-8 0l-10 -1l-11 2l-9 0l-14 -2l-2 2l-9 9l-6 7l-5 2l-25 0l-14 -1l-8 0l-10 -2l-7 0l-12 1l-7 3l-5 1l-35 0l-13 -3l-13 0l-3 0l-8 3l-2 -1l-2 -2l-2 -13l-2 -4l-2 -8l-2 -2l-4 -1l-2 1l-1 1l-1 6l2 6l-1 2l-6 4l-3 2l-5 0l-3 -1l-1 -4l0 -5l6 -11l2 -7l8 -8l5 -7l1 -4l2 -2l11 -7l6 -6l3 -2l4 1l5 2l-2 4l-1 1l0 1l6 0l4 -2l5 -10zM530 269l1 0l-1 -1zM505 291l0 1l0 1l1 -2zM676 296l-5 3l-1 2l0 3l1 3l3 3l5 1l4 -1l4 -1l2 -3l0 -3l-1 -4l-3 -1l-7 -2zM329 286l2 1l3 5l11 18l8 1l11 -3l10 -5l3 -3l2 -6l-1 -2l-5 -3l-1 -2l1 -1l9 2l7 0l4 0l7 8l5 1l1 2l0 6l-6 5l-1 6l0 3l2 3l6 1l6 0l1 -2l-1 -7l3 -1l5 -1l0 8l2 0l1 -3l1 -8l5 -5l6 -9l8 -1l7 8l1 4l1 1l3 -1l1 0l2 7l1 4l1 0l1 -3l2 -1l3 2l3 4l1 3l-1 1l-4 1l-6 -3l-2 5l-4 1l-3 4l-5 1l-5 0l-8 -4l-13 4l-14 1l-6 -1l-7 -3l-3 -1l-5 2l-10 7l-5 1l-4 0l-3 -2l-6 -6l1 -5l3 -6l0 -2l-2 0l-7 3l-6 0l-3 -2l-4 -6l-7 -2l-3 -3l-1 -2l1 -2l3 -4l0 -3l-4 -7zM345 349l6 0l1 1l0 2l-3 4l-7 6l-1 0l-3 -4l-1 -6l2 -2zM710 349l4 0l11 4l15 0l6 1l16 5l1 1l1 2l-2 5l-3 3l-3 1l-9 -1l-3 1l-4 9l-3 2l-4 1l-12 -1l-12 1l-15 -5l-10 -6l-8 0l-3 -1l-5 -7l-7 -5l-2 -4l2 -4l4 -2l14 2l20 -1zM460 359l10 1l14 -1l24 0l3 1l2 2l1 4l-2 4l-2 1l-5 1l-10 -1l-13 0l-6 2l-3 3l-1 4l0 5l1 3l1 2l3 0l4 -1l7 -6l3 -1l2 0l-4 4l0 7l2 6l0 4l-15 -3l-2 -1l-3 -5l-2 -1l-16 0l-6 -1l-7 -7l-4 -2l-12 1l-13 -4l-10 2l-4 0l-4 -2l-3 -3l0 -3l2 -2l11 -8l3 -1l5 0l13 1l12 -3l14 3zM542 360l12 0l2 1l0 3l-2 2l-3 -3l-1 0l-2 1l-2 8l-2 2l-1 0l-5 -3l1 -5l-1 -4zM934 360l3 -1l7 2l8 -1l3 1l3 2l0 4l-2 3l-6 4l-4 6l-2 2l-5 0l-10 -1l-1 -1l-1 -3l4 -13zM572 370l4 2l1 3l0 5l-3 2l-2 0l-2 -1l-2 -4l0 -5zM342 372l4 2l0 4l2 4l1 1l4 1l3 -3l6 -9l2 -1l2 0l2 1l3 6l8 7l1 3l-1 2l-1 2l-3 1l-8 -1l-3 1l-7 6l-13 3l-10 0l-4 1l-2 2l-2 6l-1 2l-17 10l-8 2l-7 0l-4 -2l-4 -3l-1 -3l2 -2l4 -1l13 0l4 -1l2 -2l2 -4l1 -2l10 -5l3 -7l4 -5l0 -7l9 -6z"/><path fill="#fcb41c" d="M908 240l4 0l4 0l11 7l8 12l1 3l-1 3l-12 5l-11 1l-10 4l-29 -1l-10 6l-7 2l-4 0l-10 -2l-7 1l-2 -2l0 -3l1 -3l3 -3l6 -3l1 -4l3 -5l2 -2l6 -2l1 -4l4 0l6 2l9 -1l15 0l4 -1l9 -7zM285 253l3 1l3 2l-1 3l-1 1l-1 -1l-3 -4l-1 -1zM568 256l9 -1l13 2l11 0l5 1l4 4l7 10l1 3l-1 9l1 2l3 2l6 1l1 -6l2 -3l4 -3l4 1l1 4l-1 4l-3 2l-8 1l1 5l3 4l6 4l10 10l2 4l-1 3l-2 1l-3 1l-11 -1l-13 2l-15 -2l-3 1l-6 5l-4 1l-29 1l-4 -2l-5 -4l-3 -2l-16 -1l-5 -1l-10 -6l-2 -2l-4 -8l-2 -2l-4 0l-3 0l-1 2l-2 11l-2 3l-5 4l-3 0l-2 -1l-1 -3l0 -4l5 -8l5 -10l9 -13l3 -6l12 -7l8 -7l5 1l2 2l-2 2l-5 1l-2 1l0 1l1 1l2 1l2 -2l4 0l8 -2l2 -2l2 -5l3 -2zM525 271l0 2l1 1l1 -1l0 -2l-1 0zM562 287l0 2l1 1l2 -1l1 -1l0 -1l-2 -1zM505 290l-1 2l0 1l1 1l2 -3l-1 -1zM315 261l6 0l3 2l-11 2l-3 6l-2 0l-1 -1l-2 -3l1 -3l1 -1l4 0zM820 278l7 1l1 3l0 3l-5 3l-2 6l-7 3l-3 3l-4 0l1 -6l-1 -5l-1 -3l-4 -2l0 -1l3 -2l10 1zM330 287l4 5l10 18l2 2l8 0l10 -4l12 -6l3 -4l1 -4l-1 -2l-5 -3l0 -1l9 1l6 -1l4 1l7 7l5 2l1 2l-1 3l0 1l-4 2l-2 3l-4 11l-3 1l-6 -2l-2 1l-11 12l-3 1l-2 0l-2 -1l-6 -6l2 -7l0 -3l-5 0l-6 2l-5 0l-3 -2l-1 -3l-2 -2l-7 -2l-2 -2l-2 -4l3 -4l1 -2l-1 -2l-3 -6zM441 295l2 0l2 1l5 6l2 5l1 0l3 -1l1 1l2 7l0 5l-1 3l-11 5l-4 -1l-6 -6l-6 -1l-2 -2l0 -4l4 -7l1 -5l2 -4zM848 296l60 0l17 3l8 -1l8 1l9 -3l2 0l2 2l2 3l0 3l-2 5l-5 6l-4 2l-9 2l-10 7l-5 1l-17 1l-5 -2l-3 -7l-2 -2l-16 -2l-9 -4l-7 1l-9 3l-6 0l-3 1l-10 -1l-3 -2l-2 -4l-4 -5l1 -2l11 -2l8 0l1 -1zM851 297l-4 2l0 2l2 2l5 0l4 -2l0 -1l-3 -2l-2 -1zM863 302l1 0l-1 0zM715 297l7 -1l6 1l3 3l0 3l-2 3l-3 2l-5 0l-6 -1l-2 -2l-2 -3l1 -3zM786 304l18 3l4 3l3 3l0 1l-2 2l-2 0l-8 -3l-9 2l-3 0l-3 -2l-2 -3l1 -4zM463 314l2 0l2 2l3 3l0 2l-5 1l-3 -1l-1 -2zM435 364l3 0l3 1l9 7l2 5l-1 4l-4 1l-10 -3l-11 0l-4 -2l-2 -3l1 -2zM293 416l11 0l3 1l0 1l-1 2l-3 1l-9 1l-3 -1l-2 -2l1 -2z"/><path fill="#fa9a12" d="M907 244l4 -1l4 1l9 4l3 3l2 3l1 4l-1 3l-2 2l-8 4l-17 4l-29 0l-5 2l-9 5l-5 1l-12 -1l-7 1l-1 -2l0 -3l2 -2l8 -5l1 -5l2 -4l3 -2l5 -1l1 -1l1 -3l5 3l13 -1l15 0l4 -1l8 -6zM566 258l10 -1l15 3l10 0l4 2l1 2l0 2l-1 2l-7 3l-6 6l-3 2l-11 1l-17 2l-4 1l-3 2l-1 3l3 6l2 2l6 2l2 3l0 4l-3 4l-3 0l-2 -1l-4 -7l-3 -2l-5 2l-4 6l-2 3l-9 1l-7 0l-5 -2l-5 -7l-2 -3l-4 -1l-4 0l-2 1l-1 1l-1 9l-2 4l-4 3l-2 0l-1 0l-1 -2l1 -2l8 -14l1 -6l10 -15l20 -14l4 1l1 1l-6 1l-4 4l-1 1l0 2l2 2l3 -4l3 0l2 -2l3 1l8 -2l6 -8zM506 289l-3 3l1 2l1 1l2 -3l0 -2zM824 280l2 0l0 2l-2 0l-1 -1zM331 289l3 3l6 11l2 4l0 3l-9 -3l-2 -2l0 -2l2 -3l0 -2l0 -3l-3 -5l0 -1zM376 289l7 1l9 -1l6 5l2 3l4 1l1 3l-1 2l-7 2l-4 8l-3 0l-9 -6l0 -13l-1 -2zM814 289l2 1l0 3l0 1l-3 1l-1 0l-1 -3l1 -2zM442 296l2 0l4 3l2 3l1 5l2 1l3 -1l1 1l2 7l-1 4l-1 2l-6 0l-4 -1l-6 -8l-1 -5l0 -7l0 -3zM866 300l18 1l23 -1l6 1l4 2l9 8l1 3l0 3l-2 3l-2 1l-6 1l-7 -2l-4 -7l-4 -3l-5 0l-8 2l-5 1l-4 -1l-6 -4l-5 -1l-5 0l-15 2l-3 0l-1 -2l1 -3l8 0l6 -2l2 2l2 0l1 -1zM371 306l7 4l1 3l-1 4l-3 3l-2 1l-3 0l-5 -1l-2 -4l-3 -2l-1 -1l2 -2l6 -4zM788 306l4 0l5 3l-5 3l-3 0l-1 0l-2 -2l1 -3zM463 314l1 0l3 2l2 3l-1 1l-4 1l-2 -1l0 -3z"/><path fill="#ff7d00" d="M905 247l7 0l9 2l4 4l0 3l0 2l-3 3l-6 4l-12 4l-8 0l-23 0l-5 1l-9 5l-5 2l-12 -1l-7 1l-1 -1l1 -2l2 -3l7 -4l2 -6l2 -3l2 -1l6 -2l6 1l13 -2l15 1l4 -1zM562 260l11 -1l7 1l8 4l2 2l0 2l-3 5l-7 3l-30 5l-12 1l-4 2l-2 2l-1 2l4 9l0 3l-2 4l-6 4l-4 1l-3 -1l-6 -9l-8 -3l2 -6l-2 -2l-3 2l1 -4l6 -7l9 -7l3 -1l1 0l1 3l2 2l3 -4l3 0l2 -2l3 0l8 -2l6 -7l4 -1zM392 291l5 3l4 5l-8 1l-3 -1l-1 -3zM336 299l3 3l2 5l-2 0l-6 -3zM445 299l5 4l1 5l2 1l3 -1l0 1l2 5l0 3l-1 1l-5 -2l-5 -6l-2 -7l-1 -3zM464 314l3 3l0 2l-4 1l-1 -3l1 -2z"/><path fill="#ff5a00" d="M904 250l5 0l8 1l3 2l0 3l-2 4l-4 3l-9 3l-10 1l-22 0l-6 1l-14 6l-17 0l1 -2l8 -5l1 -4l2 -4l2 -1l11 0l15 -2l14 1l5 -2zM556 262l14 -1l5 1l5 2l1 2l0 2l-1 2l-3 2l-9 3l-33 5l-11 3l-1 2l0 2l5 8l1 4l-1 4l-3 3l-4 0l-6 -8l-7 -3l0 -6l-3 -2l1 -3l4 -4l6 -2l5 -5l1 0l1 0l2 3l2 0l2 -3l3 -1l2 -1l10 -1l3 -2l4 -5zM455 309l1 1l1 2l0 3l-3 -4l-1 0zM464 315l2 2l0 1l-3 0l0 -1z"/><path fill="#ff2a00" d="M903 254l4 -1l4 1l2 2l0 3l-3 3l-8 2l-11 1l-18 -1l-15 5l-3 0l-2 -1l0 -2l1 -2l4 -3l17 -2l16 0l4 -1zM557 264l13 0l3 2l0 2l-5 4l-7 2l-27 3l-5 -1l1 -2l4 -2l11 -1l8 -6zM512 282l3 0l2 1l3 8l4 5l1 4l-1 2l-1 1l-3 -1l-4 -5l-8 -4l0 -4l-2 -3l2 -3z"/><use href="#L" transform="translate(255.600 153.780)" fill="none" stroke="#111" stroke-width="0.7"/></g><rect x="256" y="154" width="744" height="372" fill="none" stroke="#141414" stroke-width="2"/><path d="M256 526v7M380 526v7M504 526v7M628 526v7M752 526v7M876 526v7M1000 526v7M249 526h7M249 464h7M249 402h7M249 340h7M249 278h7M249 216h7M249 154h7" stroke="#000" stroke-width="2" fill="none"/><path d="M1061.57 211.63L1061.57 208.63L1082.35 195.19L1103.13 208.63L1103.13 211.63Z" fill="#ff2a00"/><path d="M1061.57 474.44L1061.57 477.44L1082.35 490.88L1103.13 477.44L1103.13 474.44Z" fill="#0032fa"/><rect x="1061.57" y="458.24" width="41.56" height="19.50" fill="#0032fa"/><rect x="1061.57" y="439.04" width="41.56" height="19.50" fill="#005fc3"/><rect x="1061.57" y="419.84" width="41.56" height="19.50" fill="#1a7888"/><rect x="1061.57" y="400.63" width="41.56" height="19.50" fill="#3e8c60"/><rect x="1061.57" y="381.44" width="41.56" height="19.50" fill="#40a224"/><rect x="1061.57" y="362.24" width="41.56" height="19.50" fill="#70ae14"/><rect x="1061.57" y="343.03" width="41.56" height="19.50" fill="#9eb91c"/><rect x="1061.57" y="323.84" width="41.56" height="19.50" fill="#c8c422"/><rect x="1061.57" y="304.63" width="41.56" height="19.50" fill="#f0ca28"/><rect x="1061.57" y="285.44" width="41.56" height="19.50" fill="#fcb41c"/><rect x="1061.57" y="266.24" width="41.56" height="19.50" fill="#fa9a12"/><rect x="1061.57" y="247.04" width="41.56" height="19.50" fill="#ff7d00"/><rect x="1061.57" y="227.84" width="41.56" height="19.50" fill="#ff5a00"/><rect x="1061.57" y="208.63" width="41.56" height="19.50" fill="#ff2a00"/><path d="M1061.57 208.63L1082.35 195.19L1103.13 208.63L1103.13 477.44L1082.35 490.88L1061.57 477.44Z" fill="none" stroke="#000" stroke-width="1.67" stroke-linejoin="miter"/><clipPath id="c1"><rect x="255.60" y="623.87" width="744.70" height="372.57"/></clipPath><g clip-path="url(#c1)"><rect x="255.60" y="623.87" width="744.70" height="372.57" fill="#fff"/><path fill="#0032fa" d="M253 645l122 0l4 4l0 12l5 5l239 0l10 10l32 0l9 -10l135 0l5 4l0 1l-11 9l0 22l5 5l32 0l9 -9l2 -1l5 -5l0 -12l4 -4l12 0l9 -10l84 0l8 -10l2 -1l5 -5l0 -1l4 -4l20 0l0 351l-752 0l0 -10l4 -5l0 -11l-4 -4l0 -321zM540 675l-6 5l0 12l6 5l32 0l5 -5l0 -12l-5 -5zM881 955l-9 10l-260 0l-5 5l0 11l5 6l384 0l5 -6l0 -11l-5 -5l-94 0l-10 -10z"/><path fill="#005fc3" d="M253 645l122 0l4 4l0 12l5 5l239 0l10 10l32 0l9 -10l135 0l5 4l0 1l-11 9l0 22l5 5l32 0l9 -9l2 -1l5 -5l0 -12l4 -4l12 0l9 -10l84 0l8 -10l2 -1l5 -5l0 -1l4 -4l20 0l0 351l-752 0l0 -10l4 -5l0 -11l-4 -4l0 -321zM540 675l-6 5l0 12l6 5l32 0l5 -5l0 -12l-5 -5zM881 955l-9 10l-260 0l-5 5l0 11l5 6l384 0l5 -6l0 -11l-5 -5l-94 0l-10 -10z"/><path fill="#1a7888" d="M253 645l122 0l4 4l0 12l5 5l239 0l10 10l32 0l9 -10l135 0l5 4l0 1l-11 9l0 22l5 5l32 0l9 -9l2 -1l5 -5l0 -12l4 -4l12 0l9 -10l84 0l8 -10l2 -1l5 -5l0 -1l4 -4l20 0l0 351l-128 0l0 -9l120 0l5 -6l0 -11l-5 -5l-94 0l-5 -4l0 -2l0 -17l-1 -4l-2 -3l-3 -1l-10 3l-4 2l-1 3l1 9l-1 3l-2 1l-4 0l-3 -2l-4 -7l-4 -3l-4 -1l-4 1l-3 2l-4 6l-7 6l-1 3l-1 5l-10 0l-1 -5l-1 -3l-2 -2l-2 0l-3 0l-2 3l-1 7l-201 0l-5 5l0 11l5 6l201 0l0 9l-561 0l0 -10l4 -5l0 -11l-4 -4l0 -321zM540 675l-6 5l0 12l6 5l32 0l5 -5l0 -12l-5 -5zM930 917l-4 3l0 2l2 3l7 1l3 -1l2 -2l0 -3l-1 -2l-4 -1zM825 987l11 0l0 9l-12 0z"/><path fill="#3e8c60" d="M253 645l122 0l4 4l0 12l5 5l239 0l10 10l32 0l9 -10l135 0l5 4l0 1l-11 9l0 22l5 5l32 0l9 -9l2 -1l5 -5l0 -12l4 -4l12 0l9 -10l84 0l8 -10l2 -1l5 -5l0 -1l4 -4l20 0l0 272l-2 1l-5 6l-4 0l-3 -3l-3 -7l-9 -7l-4 -1l-4 1l-2 2l-1 3l2 8l-1 3l-4 1l-6 1l-4 -2l-10 -7l-7 -2l-7 0l-10 3l-15 -1l-6 2l-4 2l-5 4l-4 6l-4 2l-6 1l-12 0l-14 4l-4 2l-6 5l-3 1l-10 -1l-9 1l-12 -1l-66 -1l-12 2l-5 -2l-5 -8l-12 -8l-4 -1l-11 1l-16 -1l-3 2l-6 5l-3 1l-15 -1l-6 1l-2 2l-3 6l-3 2l-11 -1l-3 1l-1 1l-1 2l0 2l5 7l4 1l11 -2l6 0l3 2l1 2l1 6l-37 0l-5 5l0 11l5 6l37 0l0 9l-65 0l0 -11l1 -6l2 -3l6 -4l4 -5l7 -6l4 -17l0 -3l-1 -2l-3 -2l-12 -3l-11 -1l-9 -6l-11 -5l-3 0l-1 0l-2 3l2 22l-1 4l-2 3l-4 1l-4 -3l-1 -4l0 -9l-2 -4l-2 -1l-4 0l-2 1l-1 2l0 8l1 18l0 33l-21 0l0 -57l-2 -4l-2 -1l-4 -1l-5 1l-4 1l-2 3l-2 3l1 55l-31 0l1 -54l-2 -5l-2 -2l-3 0l-2 0l-2 2l-2 5l0 54l-102 0l0 -24l-2 -4l-6 -4l-3 -4l0 -19l0 -6l-23 -1l-10 2l-4 -1l-4 -3l0 -3l2 -2l6 -5l2 -3l0 -2l-1 -1l-3 -1l-20 1l-12 -3l-13 4l-6 7l0 -279zM540 675l-6 5l0 12l6 5l32 0l5 -5l0 -12l-5 -5zM397 911l-8 9l-5 2l-4 1l-15 0l-4 -2l-4 -5l-3 -1l-5 -1l-6 1l-3 1l-1 3l-1 6l1 8l2 1l12 0l12 1l28 0l4 -2l5 -7l3 -1l4 1l5 7l3 2l8 0l3 -1l2 -2l1 -3l-1 -3l-9 -7l-18 -9l-3 0zM261 934l10 0l10 -1l4 2l1 3l0 4l-8 6l-2 4l-1 15l4 13l0 16l-27 0l0 -10l4 -5l0 -11l-4 -4l0 -21l2 -2l4 -7zM1004 934l0 62l-66 0l0 -9l58 0l5 -6l0 -11l-5 -5l-58 0l0 -3l2 -4l6 -5l4 -6l3 -2l5 -1l30 2l7 -1l3 -2l4 -6z"/><path fill="#40a224" d="M253 645l122 0l4 4l0 12l5 5l239 0l10 10l14 0l1 4l2 3l4 3l4 1l7 -1l3 -3l1 -3l0 -8l1 -2l4 -4l135 0l5 4l0 1l-11 9l0 22l5 5l32 0l9 -9l2 -1l5 -5l0 -12l4 -4l12 0l9 -10l84 0l8 -10l2 -1l5 -5l0 -1l4 -4l20 0l0 266l-3 -1l-3 -5l-2 -1l-3 -1l-8 1l-8 -3l-7 0l-4 1l-3 3l-5 8l-2 1l-4 0l-11 -3l-6 -1l-22 1l-22 5l-11 -1l-3 2l-2 5l-1 2l-13 1l-2 0l-7 7l-17 4l-13 -1l-84 0l-4 -1l-4 -7l-3 -3l-10 1l-12 -3l-27 -1l-7 1l-9 3l-18 0l-12 -3l-8 -9l-4 -1l-2 1l-1 1l0 5l3 3l6 4l2 3l0 3l0 2l-2 1l-6 1l-4 0l-14 -4l-11 -7l-9 0l-9 -3l-11 -5l-12 -4l-2 0l-1 1l-3 9l-2 2l-4 0l-13 -2l-12 2l-5 0l-3 -3l-3 -7l-2 -2l-3 0l-22 1l-36 0l-11 1l-13 -4l-8 -4l-5 -1l-8 1l-2 1l-6 6l-4 1l-2 -2l-1 -9l-2 -2l-3 -1l-10 1l-2 -1l-5 -5l-4 -1l-9 1l-10 0l-5 2l-2 3l2 7l0 3l-3 2l-2 1l-3 -1l-2 -1l-3 -8l-1 -2l-2 0l-3 2l-4 5l-4 2l-20 1l-3 -2l-4 -5l-3 -1l-3 1l-6 5l-3 1l-3 0l-5 -7l0 -259zM339 669l-2 2l-1 3l2 17l2 4l2 1l3 0l2 -1l2 -3l0 -10l1 -9l-2 -3l-2 -1l-3 -1zM540 675l-6 5l0 12l6 5l32 0l5 -5l0 -12l-5 -5zM278 690l-5 3l-1 4l5 6l3 9l2 2l3 0l3 -2l2 -3l-2 -8l1 -7l-2 -2l-3 -2zM422 695l0 3l1 1l1 0l0 -3l0 -1zM888 706l-1 3l1 1l2 0l1 -2l0 -2l-2 -1zM834 715l-1 3l-1 4l1 2l1 1l4 -2l2 -4l-2 -4l-2 0zM867 715l-3 2l-1 2l1 2l1 0l12 -1l2 -2l-1 -2l-3 -1zM325 718l0 2l1 0l3 0l1 -1l-1 -1l-2 -1zM802 718l-1 1l0 1l2 1l2 -1l0 -1l-1 -1zM855 817l0 1l0 2l2 1l1 0l1 -1l0 -2l-2 -1zM877 892l-2 5l1 4l2 2l3 0l3 -2l0 -4l-3 -5l-2 0zM253 954l10 2l3 3l1 11l6 8l1 3l0 15l-22 0l0 -10l4 -5l0 -11l-4 -4l0 -12zM984 954l6 0l14 1l0 41l-24 0l0 -9l16 0l5 -6l0 -11l-5 -5l-17 0l1 -7l2 -2zM612 955l2 0l3 3l2 3l0 4l-7 0l-5 5l0 11l5 6l6 0l0 9l-29 0l-1 -11l1 -4l7 -6l5 -6l6 -5z"/><path fill="#70ae14" d="M256 645l33 0l0 4l1 2l2 2l4 0l16 0l4 -3l2 -2l0 -3l10 0l1 5l3 3l3 2l11 -2l27 2l4 2l2 2l0 2l5 5l1 0l7 6l6 5l2 2l0 3l-1 2l-3 2l-4 1l-6 -1l-4 -2l-4 -6l-12 -11l-3 -1l-9 0l-8 -2l-6 -1l-6 3l-6 5l0 2l2 9l-1 3l-3 1l-3 0l-3 -1l-4 -5l-3 -2l-4 -1l-4 0l-4 2l-4 6l-3 3l-3 0l-9 -2l-4 0l-7 3l-9 6l-10 0l0 -41l3 -3l1 -6zM1001 645l3 0l0 50l-5 0l-3 0l-3 3l-1 4l1 3l5 5l3 6l3 1l0 175l-3 -3l-3 -6l-2 -1l-41 -1l-4 2l-4 7l-4 3l-27 -1l-4 1l-3 2l-2 3l2 7l-2 3l-7 3l-8 1l-4 -2l-1 -2l2 -9l-1 -3l-4 -9l0 -7l0 -3l-4 -3l-6 -1l-5 1l-2 3l-1 3l0 7l0 3l-2 2l-3 1l-19 0l-16 -1l-21 1l-136 0l-14 0l-4 2l-5 6l-5 4l-2 3l-1 5l-3 2l-3 -2l-9 -9l-6 -2l-33 1l-11 -1l-4 2l-4 7l-5 1l-3 -2l-7 -6l-8 -1l-4 -1l-7 -8l-3 -2l-4 0l-5 1l-6 7l-3 2l-19 2l-3 0l-3 -1l-3 -9l-2 -1l-4 -1l-26 0l-19 1l-14 0l-4 1l-5 6l-8 2l-7 -2l-5 -6l-2 -1l-11 3l-5 0l-4 -2l-5 -4l-4 0l-13 3l-12 0l-10 2l-10 1l-6 3l-4 5l-3 1l-22 -12l-4 -1l-10 1l-4 -1l-2 -2l-3 -6l-2 -2l0 -173l4 7l2 1l3 -1l4 -10l4 -2l3 0l2 2l4 8l4 3l4 0l8 -3l8 1l9 -1l4 0l3 2l5 8l2 1l8 -1l3 1l2 2l5 7l2 2l3 0l2 -1l0 -2l-1 -12l2 -2l2 -2l26 0l14 -1l3 1l6 4l3 -1l4 -4l7 -3l6 -6l5 -4l1 -2l1 -3l-1 -8l1 -4l3 -2l7 -2l3 -2l9 -8l1 -2l0 -4l171 0l10 10l6 0l1 6l8 9l1 3l0 8l2 3l5 3l2 2l1 3l0 9l2 3l3 3l5 1l9 -1l34 1l14 -2l3 2l5 8l10 7l13 6l4 0l9 -2l3 -3l7 -11l0 -15l2 -3l3 -2l4 0l4 1l5 8l3 2l12 -1l10 1l2 2l2 7l2 1l11 -11l3 -10l1 -2l10 -3l5 -3l4 0l3 2l0 2l-4 4l-1 2l0 5l3 2l16 -1l13 -10l2 -3l2 -5l-1 -3l-2 -3l-4 -1l-7 -1l-21 -1l-3 -1l-3 -2l0 -12l4 -4l28 0l4 0l3 -2l2 -2l0 -6l17 0l2 2l4 7l7 3l5 -1l6 -3l5 -1l32 0l3 -1l4 -5l6 -4l5 -6l6 -5l1 -3l0 -4zM540 675l-6 5l0 12l6 5l32 0l5 -5l0 -12l-5 -5zM599 697l-2 1l-1 3l1 10l-2 7l2 1l8 1l5 0l3 -1l4 -4l0 -3l0 -2l-7 -6l-5 -7l-2 -1zM560 715l-3 1l-1 2l3 2l3 0l10 0l3 -1l1 -1l-6 -2zM286 782l-3 7l-5 4l-5 5l-7 5l0 1l1 4l4 4l4 0l8 -2l9 0l3 -1l9 -9l0 -3l-1 -3l-6 -5l-5 -6l-3 -2l-2 0zM776 809l-2 1l-1 2l0 3l1 2l4 2l12 3l28 0l5 -2l2 -3l-1 -3l-1 -2l-4 -2l-19 0l-17 -2zM848 809l-1 1l-2 7l-8 4l-2 2l0 3l2 3l3 3l4 0l9 -1l10 -1l3 -1l1 -3l-5 -11l-4 -3l-7 -3zM296 840l-7 1l-11 0l-2 1l-1 2l1 5l2 2l3 1l9 -1l2 1l2 2l1 2l-1 3l-6 8l-1 2l1 4l2 2l2 0l4 -1l5 -2l2 -3l1 -5l1 -16l0 -3l-3 -4zM865 850l-17 1l-2 3l0 4l2 3l3 2l9 0l6 0l3 0l3 -2l1 -3l0 -5l-3 -3z"/><path fill="#9eb91c" d="M276 645l9 0l0 5l1 3l2 2l2 2l21 1l11 -4l4 2l2 3l0 2l-2 2l-10 9l-4 1l-9 0l-4 1l-2 2l-3 5l-3 3l-14 -1l-14 3l-4 0l-2 -2l-2 -3l0 -6l1 -5l2 -3l5 -3l5 -7l6 -5l1 -3zM1004 666l0 20l-3 -3l-1 -6l1 -7l1 -2zM518 676l3 0l2 2l4 5l6 7l1 2l6 5l1 0l3 3l2 5l-1 11l1 3l3 1l13 3l50 1l5 -1l7 -6l4 -1l7 3l8 9l3 1l5 -1l3 1l4 2l6 6l3 2l11 -2l14 1l17 -2l7 1l3 2l3 6l3 4l4 0l6 -1l3 0l9 3l10 5l10 2l11 11l6 10l2 1l3 -2l3 -3l3 -3l1 -3l-1 -2l-2 -3l-10 -7l-3 -6l0 -7l3 -10l-1 -11l1 -3l3 -2l3 -1l2 1l6 8l3 2l4 0l11 -1l5 0l2 3l3 7l3 2l3 -2l4 -6l5 -6l5 -9l3 -3l5 0l4 0l3 9l3 2l3 1l13 -2l5 -1l10 -8l8 -9l3 -2l9 0l2 -1l1 -2l-1 -3l-7 -4l-2 -2l1 -3l2 -3l5 0l10 0l9 -1l3 -1l4 -4l4 -2l12 1l15 0l5 1l13 12l-1 5l-3 9l-5 4l-4 6l-2 2l-6 1l-11 -2l-4 0l-4 3l-1 2l0 2l2 3l5 4l8 7l5 1l10 -1l5 1l3 1l4 6l3 3l3 0l2 -1l5 -8l0 51l-17 0l-8 -2l-3 1l-10 8l-3 1l-9 0l-3 2l-2 2l0 6l1 2l2 1l11 0l3 0l2 2l5 7l6 1l4 0l3 -1l7 -8l3 -2l4 -1l4 0l0 63l-12 1l-34 0l-13 -1l-8 1l-4 -1l-3 -2l-4 -6l-7 -5l-1 -3l1 -7l-1 -3l-5 -2l-14 -1l-3 -2l-2 -8l-2 -2l-3 -1l-7 1l-3 -1l-4 -5l-7 -5l-5 -8l-16 -12l-7 -8l-2 -1l-8 2l-4 -1l-3 -1l-5 -4l-3 -1l-8 4l-11 3l-6 7l-4 1l-7 0l-11 -2l-12 1l-17 0l-15 -1l-16 0l-10 -1l-12 4l-9 0l-4 0l-4 3l0 4l2 2l6 1l27 -1l21 -1l4 2l5 8l3 1l29 0l14 3l9 6l3 1l10 -2l13 1l9 -1l4 1l6 6l2 5l-2 7l-2 2l-6 4l-2 5l0 5l1 4l7 5l2 4l1 3l-1 2l-5 2l-6 0l-4 -1l-3 -2l-4 -7l-6 -2l-42 0l-128 0l-4 1l-3 2l-1 3l0 8l-1 3l-2 3l-3 2l-29 0l-14 -1l-16 0l-4 -1l-3 -2l0 -3l2 -6l0 -2l-3 -2l-7 -2l-3 -2l-2 -2l-2 -8l-3 -2l-2 0l-7 1l-8 0l-3 1l-4 14l0 8l0 3l-4 5l-5 2l-5 -1l-4 -2l-2 -2l-1 -6l-3 -2l-6 -1l-12 3l-24 0l-4 -2l-4 -6l-6 -2l-50 0l-3 1l-1 2l1 9l-2 3l-3 2l-4 -1l-8 -7l-5 -1l-4 1l-7 5l-4 2l-30 0l-5 2l-8 4l-5 1l-5 -1l-4 -1l-10 -8l-9 -5l-2 -3l0 -4l0 -2l1 -1l12 0l7 5l4 2l7 -1l6 -3l2 -3l2 -4l1 -12l2 -11l-3 -13l1 -11l-2 -12l1 -8l0 -5l-2 -4l-6 -5l-7 -7l-9 -8l-4 -1l-3 1l-3 6l-6 4l-4 7l-4 1l-7 0l0 -42l2 -2l4 -6l6 -5l2 -2l1 -4l-1 -13l1 -4l2 -2l1 -1l2 0l5 9l4 2l11 -1l8 1l9 -3l4 0l3 2l5 7l3 1l8 0l3 1l6 9l7 4l7 5l4 1l6 -1l8 0l3 -2l4 -6l2 -2l11 -1l3 -1l5 -7l5 -4l5 -5l9 -4l4 -5l6 -6l1 -3l0 -8l1 -3l3 -3l4 0l2 0l2 2l4 9l5 6l9 6l2 3l0 9l0 3l11 10l6 2l14 0l3 2l4 4l4 1l2 -1l3 -2l3 -10l10 -5l2 -3l0 -16l0 -4l-2 -3l-8 -6l-2 -5l1 -8l2 -3zM939 689l-4 6l-6 7l-4 5l0 5l2 3l2 2l4 0l3 -2l5 -7l7 -6l2 -3l0 -5l-2 -4l-4 -2zM937 735l-4 2l-3 2l-1 3l1 2l4 2l6 1l5 -1l3 -3l0 -3l-2 -2l-4 -2zM491 778l-5 2l-4 7l-7 4l-2 3l-1 4l0 5l2 4l2 2l5 1l16 1l4 -1l2 -2l1 -5l0 -24l-2 -2zM993 831l-3 2l-1 3l-1 7l2 6l3 2l2 0l3 -1l2 -2l1 -7l-1 -5l-1 -3l-2 -2zM556 852l-1 1l1 1l1 -1l0 -1zM256 809l4 1l6 6l8 4l1 2l1 3l-1 4l-6 4l-2 4l1 12l-2 9l-1 13l-13 2l0 -22l3 -3l1 -6l-1 -8l-1 -2l-2 -1l0 -22zM882 852l2 0l2 2l4 6l9 10l6 5l2 4l1 4l-1 4l-4 5l-6 3l-2 0l-2 -1l-3 -5l-1 -4l0 -7l-2 -4l-3 -3l-7 -3l-1 -2l3 -11z"/><path fill="#c8c422" d="M436 690l3 0l2 2l3 10l0 3l-3 8l1 13l0 33l0 12l-2 6l-6 4l-4 6l-3 2l-4 1l-4 -1l-4 -1l-9 -6l-8 -1l-4 1l-3 2l-1 3l0 9l-2 2l-3 2l-39 0l-11 -1l-14 3l-6 1l-4 -2l-4 -10l-7 -5l-13 -17l-3 -2l-6 -2l-2 -3l-1 -6l2 -4l7 -5l5 -7l6 -4l6 -9l5 -5l4 -2l2 0l2 1l3 7l2 2l3 0l9 0l3 1l4 8l9 4l9 9l3 0l7 -2l9 0l3 0l2 -2l4 -7l3 -2l10 -2l6 -8l9 -9l9 -4l5 -6l7 -5l1 -3l0 -9l1 -2zM906 706l9 0l4 2l4 10l6 7l1 3l-1 4l-6 5l-3 0l-6 -1l-3 1l-4 5l0 3l1 2l2 2l3 0l23 2l7 0l10 -3l4 2l1 2l1 4l-1 13l1 4l2 4l7 4l1 2l-1 4l-3 4l-6 1l-10 -2l-15 -1l-4 2l-4 6l-3 3l-4 0l-12 -2l-12 3l-4 2l-5 6l-6 4l-4 5l-3 1l-4 -3l-4 -7l-7 -4l-9 -9l-4 -8l-3 -1l-10 2l-4 0l-3 -2l-5 -5l-6 -3l-2 -5l0 -10l-3 -4l-2 -2l-3 -1l-6 2l-4 -1l-6 -2l-3 -4l-1 -5l3 -11l-2 -11l1 -3l1 -1l4 1l4 6l4 3l5 0l10 -2l4 1l3 3l1 7l2 2l3 0l3 -1l2 -2l4 -7l6 -7l3 -7l3 -3l4 -1l3 1l4 8l3 2l4 1l13 -1l4 -1l3 -2l10 -8l6 -6zM874 744l-4 1l-2 2l0 1l4 2l4 0l12 -1l4 -1l-1 -1l-4 -2zM547 723l4 0l33 3l18 0l15 1l13 -2l4 2l8 9l3 1l6 -1l3 1l7 8l4 2l30 0l3 3l5 7l4 2l5 0l13 -1l10 0l9 -2l17 6l12 10l2 3l0 5l-2 6l-2 3l-2 1l-3 0l-2 -1l-4 -8l-4 -3l-13 1l-36 -1l-5 3l-5 8l-11 8l-4 1l-10 0l-11 3l-27 -2l-4 2l-1 2l0 4l2 2l6 5l4 5l4 2l20 -1l11 -1l18 0l4 2l3 6l3 2l3 2l4 0l15 0l13 -1l25 1l9 -3l3 0l3 1l2 2l2 3l0 4l-2 2l-6 4l-5 6l-6 2l-10 -1l-37 0l-4 -2l-6 -6l-6 -2l-77 0l-4 2l-2 3l0 10l-2 4l-4 2l-7 -1l-4 1l-6 8l-7 4l-3 7l-3 2l-4 1l-6 -1l-4 -2l-6 -5l-13 -4l-2 -2l-2 -2l0 -4l1 -3l3 -2l9 0l4 -1l2 -4l1 -8l2 -3l4 -1l3 1l8 9l2 1l3 0l6 -3l5 -5l7 -5l2 -2l0 -4l-1 -2l-3 -2l-6 0l-11 2l-4 -1l-3 -2l-2 -3l-2 -5l1 -4l2 -4l3 -2l3 0l24 0l5 0l2 -2l2 -2l0 -4l-1 -2l-3 -2l-4 0l-39 1l-27 0l-10 0l-4 0l-3 -3l-4 -7l-6 -3l-2 -2l-2 -13l-2 -2l-4 -1l-10 3l-7 -2l-3 -3l-4 -7l-8 -5l-2 -6l0 -5l1 -2l2 -1l5 -1l10 0l9 6l7 -1l5 -3l4 -7l3 -3l7 -2l9 2l3 0l4 -2l3 -5zM797 778l3 0l3 1l2 3l-1 3l-4 2l-3 0l-3 0l-1 -2l0 -2zM952 819l4 0l2 1l1 3l-1 4l-17 16l-4 6l-3 2l-4 0l-2 -1l-3 -6l-4 -3l-6 -2l-11 1l-3 -1l-1 -2l-1 -5l4 -3l5 0l9 1l5 0l4 -2l3 -5l4 -2l10 0zM342 820l3 0l2 1l2 3l0 3l-1 2l-3 2l-3 0l-2 0l-2 -4l0 -3l1 -2zM498 820l3 1l2 2l2 3l0 4l0 6l-2 3l-2 2l-3 0l-3 -1l-2 -1l-1 -7l1 -9l2 -2zM405 831l4 -1l55 0l5 1l2 2l2 3l0 9l1 3l7 6l5 6l3 1l3 1l10 -2l6 1l3 1l0 2l0 6l-1 2l-4 2l-9 -1l-9 1l-6 0l-6 -2l-7 -9l-5 -2l-17 1l-3 1l-4 5l-4 2l-49 0l-5 -1l-8 -6l-6 -1l-5 1l-6 8l-3 1l-4 1l-11 -2l-7 1l-3 3l-1 6l-2 2l-3 1l-10 0l-3 1l-8 6l-5 2l-4 1l-4 -1l-3 -3l-2 -3l-1 -3l2 -2l16 -2l3 -1l3 -2l2 -3l1 -4l1 -15l2 -4l2 -1l3 -1l6 3l3 0l12 -1l14 1l15 -1l21 1l6 0l3 -1l2 -2l0 -3l1 -10l1 -3z"/><path fill="#f0ca28" d="M907 708l6 0l4 3l2 4l1 9l-2 3l-8 5l-8 8l-6 1l-24 1l-12 3l-9 0l-12 6l-5 7l-7 5l-2 3l2 3l4 2l3 0l6 -3l4 -1l24 1l12 1l3 0l2 -2l3 -7l3 -2l14 0l13 -1l6 1l2 1l2 2l0 12l-2 4l-7 4l-4 9l-2 0l-8 0l-3 1l-13 8l-6 8l-5 1l-2 -1l-1 -4l0 -5l2 -7l0 -4l-1 -3l-3 -3l-5 -1l-10 0l-12 0l-4 1l-8 4l-4 1l-3 -1l-9 -10l-2 -3l0 -8l-4 -10l1 -4l2 -2l3 -2l10 -1l4 -2l2 -3l3 -7l5 -7l3 -6l3 -3l3 -1l3 1l5 7l3 2l4 1l14 -1l7 -3l10 -8l6 -5zM416 721l6 0l1 3l-1 4l-2 7l1 12l-1 32l-1 1l-2 0l-11 -3l-10 0l-3 -1l-3 -2l-1 -3l0 -4l2 -10l-4 -8l0 -5l3 -2l7 -1l3 -2l5 -8l8 -8zM548 726l5 -1l19 2l12 2l16 -1l7 1l7 2l3 2l2 3l0 4l-2 4l-3 3l-3 0l-6 -1l-3 1l-2 2l-5 6l-3 2l-5 1l-11 -1l-5 0l-4 3l-2 6l-3 3l-6 1l-12 -1l-4 0l-4 2l-6 7l-6 3l-4 0l-2 -2l-1 -5l0 -6l-2 -2l-5 -1l-13 1l-4 -2l0 -4l4 -8l3 -3l11 -4l7 -10l3 -2l3 0l10 1l4 0l3 -1l4 -5zM814 734l2 0l0 2l-1 1l-2 -1l0 -1zM338 744l4 0l3 1l3 3l4 5l1 6l-3 13l-3 3l-7 5l-3 7l-2 3l-14 8l-4 1l-3 -1l-2 -2l-4 -7l-6 -4l-3 -2l-5 -10l-1 -3l2 -2l8 -2l5 -7l6 -5l4 -5l2 -2l3 -1l9 1zM571 852l2 -1l2 1l3 5l-1 5l-3 10l-2 1l-10 -2l-8 0l-5 -2l0 -3l2 -3l9 0l4 -1l2 -3zM290 885l6 0l2 1l1 1l-3 3l-4 1l-3 -3l0 -2z"/><path fill="#fcb41c" d="M908 710l4 0l3 2l1 4l-1 5l-4 6l-13 10l-11 3l-15 0l-12 2l-9 -1l-9 4l-5 -1l0 -4l1 -6l5 -6l3 -7l3 -3l3 -1l2 1l4 7l4 2l18 0l7 -2l17 -13zM550 727l4 -1l18 2l13 4l11 -1l7 0l5 2l2 2l1 2l-2 2l-6 1l-5 2l-7 6l-2 1l-8 -1l-11 2l-17 1l-12 4l-11 0l-8 5l-6 2l-12 0l-3 -1l-1 -1l0 -4l2 -4l10 -7l7 -8l5 -2l11 1l5 -1l3 -2l4 -5zM340 747l3 0l3 2l2 3l1 3l1 4l-2 5l-1 4l-2 2l-3 2l-4 0l-16 -4l-13 2l0 -3l1 -4l7 -6l4 -5l3 -1l9 0zM824 749l8 0l1 1l-1 3l-2 3l-3 2l-4 2l-3 0l-3 -3l0 -4l3 -3zM302 771l5 0l1 0l1 10l-1 2l-1 1l-4 -1l-4 -6l0 -4zM316 790l3 1l0 1l-1 2l-1 0l-2 -1l0 -2z"/><path fill="#fa9a12" d="M907 713l3 0l2 1l0 4l-1 3l-7 8l-6 5l-5 2l-9 2l-22 2l-11 -1l-8 2l-3 -2l0 -2l0 -3l7 -13l3 -2l3 1l5 6l3 2l4 1l15 -1l8 -2zM553 728l21 2l5 3l2 2l0 2l-1 2l-3 3l-9 4l-16 2l-11 4l-12 0l-9 6l-5 2l-7 0l-4 -2l-1 -2l1 -3l9 -6l7 -9l5 -1l10 1l5 -1l3 -2l6 -6zM340 751l3 0l2 2l2 3l-1 4l-1 4l-2 3l-3 1l-3 0l-6 -3l-3 -3l-1 -3l0 -2l7 -2z"/><path fill="#ff7d00" d="M905 718l1 1l0 2l-3 5l-9 7l-7 3l-26 2l-9 -1l-6 -1l-2 -1l0 -3l3 -8l1 -2l2 -2l3 1l4 6l2 2l3 1l4 0l15 -1l6 -1l4 -2l9 -5zM551 730l5 -1l15 2l4 3l0 3l-3 4l-8 2l-22 6l-14 1l-13 7l-4 0l-4 -1l1 -3l7 -5l6 -8l4 -1l10 0l6 0l3 -2l4 -5zM340 758l2 0l0 2l-1 2l-2 0l-1 0l0 -2z"/><path fill="#ff5a00" d="M849 723l1 -1l2 0l5 7l4 3l21 -1l5 1l-2 2l-4 1l-18 1l-13 -2l-2 -1l-1 -2l0 -4zM553 731l14 2l3 1l0 2l-3 3l-11 4l-16 4l-11 0l-10 3l1 -5l3 -3l3 -1l10 1l6 -1l3 -2l5 -7z"/><path fill="#ff2a00" d="M850 725l1 -1l1 2l1 3l0 1l-2 1l-2 -2l0 -2zM553 733l5 0l3 2l0 1l-1 2l-5 2l-4 1l-2 -1l-1 -2l1 -2l2 -2z"/><use href="#LG" transform="translate(255.600 623.865)" fill="#fff" fill-rule="evenodd"/><use href="#L" transform="translate(255.600 623.865)" fill="none" stroke="#111" stroke-width="0.7"/></g><rect x="256" y="624" width="744" height="372" fill="none" stroke="#141414" stroke-width="2"/><path d="M256 996v7M380 996v7M504 996v7M628 996v7M752 996v7M876 996v7M1000 996v7M249 996h7M249 934h7M249 872h7M249 810h7M249 748h7M249 686h7M249 624h7" stroke="#000" stroke-width="2" fill="none"/><path d="M1061.57 681.72L1061.57 678.72L1082.35 665.28L1103.13 678.72L1103.13 681.72Z" fill="#ff2a00"/><path d="M1061.57 944.52L1061.57 947.52L1082.35 960.96L1103.13 947.52L1103.13 944.52Z" fill="#0032fa"/><rect x="1061.57" y="928.32" width="41.56" height="19.50" fill="#0032fa"/><rect x="1061.57" y="909.12" width="41.56" height="19.50" fill="#005fc3"/><rect x="1061.57" y="889.92" width="41.56" height="19.50" fill="#1a7888"/><rect x="1061.57" y="870.72" width="41.56" height="19.50" fill="#3e8c60"/><rect x="1061.57" y="851.52" width="41.56" height="19.50" fill="#40a224"/><rect x="1061.57" y="832.32" width="41.56" height="19.50" fill="#70ae14"/><rect x="1061.57" y="813.12" width="41.56" height="19.50" fill="#9eb91c"/><rect x="1061.57" y="793.92" width="41.56" height="19.50" fill="#c8c422"/><rect x="1061.57" y="774.72" width="41.56" height="19.50" fill="#f0ca28"/><rect x="1061.57" y="755.52" width="41.56" height="19.50" fill="#fcb41c"/><rect x="1061.57" y="736.32" width="41.56" height="19.50" fill="#fa9a12"/><rect x="1061.57" y="717.12" width="41.56" height="19.50" fill="#ff7d00"/><rect x="1061.57" y="697.92" width="41.56" height="19.50" fill="#ff5a00"/><rect x="1061.57" y="678.72" width="41.56" height="19.50" fill="#ff2a00"/><path d="M1061.57 678.72L1082.35 665.28L1103.13 678.72L1103.13 947.52L1082.35 960.96L1061.57 947.52Z" fill="none" stroke="#000" stroke-width="1.67" stroke-linejoin="miter"/><clipPath id="c2"><rect x="255.60" y="1093.95" width="744.70" height="372.57"/></clipPath><g clip-path="url(#c2)"><rect x="255.60" y="1093.95" width="744.70" height="372.57" fill="#fff"/><path fill="#ffe6e0" d="M329 1112l12 0l15 1l16 -1l4 1l3 1l2 3l1 4l-1 16l3 9l-1 3l-4 3l-5 2l-5 1l-5 -1l-3 -2l-1 -3l0 -9l-1 -3l-3 -2l-4 -1l-16 2l-11 -1l-3 1l-2 2l-5 9l-2 1l-3 1l-2 -2l-2 -8l-2 -3l-3 -1l-6 -1l-6 3l-4 4l-1 3l0 6l-2 3l-6 3l-15 3l-6 4l-3 1l0 -39l7 0l11 3l3 0l6 -2l4 -2l2 -3l4 -7l3 -2zM975 1125l3 0l11 1l15 -1l0 35l-5 3l-4 1l-5 -2l-5 -5l-3 -1l-10 3l-2 1l-1 2l7 9l3 12l1 3l2 0l6 -2l5 -1l11 3l0 196l-1 -4l-1 -8l-4 -9l0 -11l-2 -4l-6 -2l-8 1l-15 1l-12 -4l-4 -1l-19 1l-9 3l-4 4l1 11l-3 9l-2 3l-4 2l-11 -1l-14 2l-12 0l-5 1l-1 1l-1 2l1 9l-1 3l-2 2l-4 3l-12 2l-10 5l-3 -1l-2 -3l-1 -16l-1 -4l-1 -2l-4 -2l-3 2l-1 3l1 7l0 3l-3 3l-3 1l-2 -1l-2 -3l0 -10l0 -3l-2 -2l-3 -1l-2 1l-1 1l-2 9l-3 5l-4 4l-5 2l-14 0l-11 1l-19 -1l-4 0l-6 -4l-2 0l-9 4l-20 0l-11 -3l-3 2l-5 7l-5 2l-46 -2l-4 2l-6 6l-3 2l-15 0l-13 2l-4 -1l-7 -4l-5 -2l-12 1l-11 -2l-43 1l-10 -1l-4 -1l-3 -2l-5 -8l-3 -3l-5 -1l-10 3l-5 0l-3 -1l-4 -7l-3 -1l-4 1l-7 6l-4 1l-12 -1l-11 2l-5 0l-3 -3l-5 -5l-3 -1l-12 2l-18 -1l-4 2l-7 5l-9 1l-8 -1l-5 -1l-3 -2l-6 -7l-4 -2l-4 0l-6 5l-6 0l-4 0l-7 -2l-8 2l-6 0l-11 -4l-3 0l-8 3l-3 0l-3 -2l-2 -3l-1 -10l-3 -9l0 -10l-2 -4l0 -134l1 -7l-1 -4l0 -18l5 2l4 0l2 -2l3 -6l4 -2l3 0l2 1l4 6l4 3l5 -1l7 -3l5 0l3 2l5 10l3 3l6 2l12 -2l4 1l3 2l5 6l6 5l6 8l3 1l8 0l8 1l2 -1l2 -1l4 -8l2 -3l3 -1l9 0l3 -1l5 -6l6 -5l4 -5l3 -3l15 -4l10 1l16 -1l5 0l10 -10l4 -5l5 -2l17 0l8 3l9 -5l7 0l3 1l4 6l6 5l4 9l2 1l2 0l3 -1l1 -3l0 -11l15 -7l4 -1l3 2l3 2l5 6l3 2l3 0l2 -2l1 -4l-2 -12l1 -8l2 -4l3 -2l3 1l2 1l5 9l2 2l3 1l3 -1l1 -2l4 -7l2 -2l3 -1l4 1l5 8l4 2l4 1l9 1l4 2l6 7l4 5l1 3l0 6l1 3l15 5l4 1l2 -1l0 -3l-2 -5l-6 -6l-1 -3l2 -4l7 -7l1 -10l1 -3l4 -2l7 -1l32 -1l5 2l4 6l3 2l4 0l12 0l6 0l4 3l3 6l2 1l3 1l11 -1l4 1l3 2l1 2l-5 5l-3 4l0 3l1 4l1 2l7 4l6 7l5 1l12 -1l5 1l3 2l4 5l7 5l2 5l0 4l-6 1l-3 2l-1 2l-1 4l2 4l2 3l3 2l5 1l4 -1l3 -3l0 -3l-5 -6l-1 -5l6 -3l2 -4l0 -3l-2 -9l3 -10l9 -15l7 -4l5 -7l17 -10l5 -5l3 -1l3 1l4 7l4 2l7 1l13 -3l2 1l5 6l4 1l3 -1l2 -1l0 -3l-2 -3l-8 -5l-1 -3l0 -7l2 -5l6 -2l6 1l2 1l6 10l3 2l2 -1l3 -2l5 -7l7 -5zM984 1198l-2 1l-3 5l-11 3l-2 1l0 1l3 3l10 5l6 8l4 2l5 0l2 -2l0 -2l1 -8l1 -8l0 -3l-1 -2l-3 -2zM528 1208l-2 1l-1 2l0 5l3 2l4 0l3 -3l-1 -5l-3 -2zM782 1234l-4 2l-2 3l-3 11l-2 2l-5 0l-10 -2l-5 0l-7 1l-4 3l-2 3l0 3l5 10l3 2l5 1l17 -4l4 0l6 2l7 7l4 0l4 -1l1 -3l-1 -4l-2 -2l-10 -6l-4 -3l-1 -4l0 -4l8 -16zM673 1236l-3 2l0 4l2 3l4 0l3 -2l0 -4l-2 -2zM724 1260l-9 2l-11 0l-3 1l-1 1l3 2l4 1l12 1l6 0l3 -2l2 -3l-1 -2zM834 1265l-3 2l0 3l3 2l4 -1l1 -3l-1 -2l-2 -1zM299 1267l-1 1l0 2l1 2l1 0l1 -3l0 -1zM383 1271l-15 4l-2 1l-1 3l0 4l3 5l5 5l6 3l8 2l9 0l6 -3l7 -5l11 -1l1 -2l0 -3l-3 -4l-4 -3l-7 -3l-6 -2l-7 -1l-7 0zM858 1281l-3 1l-3 6l-2 2l-10 7l-5 2l-2 5l1 5l4 8l-3 7l0 4l3 4l8 4l1 3l2 11l3 4l4 2l2 -1l2 -2l4 -10l7 -4l2 -2l0 -3l0 -8l2 -9l3 -4l6 -4l2 -3l-2 -4l-16 -13l-5 -6l-2 -2zM445 1283l-4 2l0 2l0 1l6 0l4 -1l1 -1l0 -2l-2 -1zM577 1284l-4 3l-1 3l1 2l2 1l9 1l8 6l17 -2l12 3l5 1l7 -1l2 -3l0 -2l-1 -2l-3 -2l-5 -2l-5 0l-11 2l-8 -4l-11 1l-8 -6zM805 1302l-3 4l1 2l5 0l3 0l1 -1l0 -2l-2 -3l-3 0zM295 1307l-1 1l0 1l2 1l2 -1l0 -2l-1 -1zM282 1319l-2 3l0 7l2 5l3 3l2 0l2 0l5 -5l8 -3l2 -3l0 -4l-3 -3l-4 0l-6 3l-6 -3zM585 1328l-10 1l-5 4l-10 2l-1 1l-1 2l6 5l4 7l3 2l4 1l7 -2l2 1l2 4l0 8l1 1l3 0l6 -4l6 -1l17 1l5 2l8 6l5 2l6 -1l9 -4l16 -3l6 2l9 5l3 1l19 0l9 -1l11 1l3 -1l9 -5l16 -2l5 1l5 5l4 1l14 0l10 1l6 0l5 -1l4 -6l7 -5l2 -2l0 -4l0 -5l-2 -2l-9 -2l-7 -3l-9 0l-7 -5l-4 -2l-20 0l-4 -1l-10 -4l-4 0l-8 4l-5 1l-38 -1l-18 1l-21 0l-3 -1l-6 -4l-4 0l-4 0l-12 5l-14 1l-5 -1l-10 -5zM388 1341l-6 2l-3 5l1 9l-2 9l2 2l2 2l5 1l14 0l8 3l3 1l4 -2l6 -7l2 -2l3 0l6 5l3 2l4 -1l3 -3l0 -6l-2 -6l-7 -4l-6 -6l-3 -1l-12 0l-10 -4zM458 1361l-4 3l-1 4l3 4l3 2l2 0l2 -2l1 -2l0 -6l-2 -3zM855 1365l-1 1l1 1l2 0l0 -3l-1 0zM293 1158l4 0l2 4l-1 5l-4 2l-4 -2l-1 -3l0 -4l1 -1zM410 1167l4 -1l2 1l0 1l-2 1l-4 1l-1 -1l0 -1zM621 1343l3 1l2 3l-1 3l-3 2l-2 -1l-1 -3l0 -3zM685 1343l7 -1l5 2l3 3l0 4l-2 2l-5 2l-6 0l-4 -2l-2 -2l-1 -3l2 -3zM880 1405l11 -1l9 2l6 3l1 2l-1 2l-1 2l-4 2l-17 9l-5 2l-33 0l-7 -2l-3 -3l0 -4l1 -2l4 -3l18 -6l11 -1z"/><path fill="#ffcdc3" d="M333 1115l10 0l13 3l14 -2l5 1l2 3l1 3l-2 14l3 9l-1 3l-2 2l-5 2l-4 0l-4 -2l-1 -4l1 -11l-2 -3l-4 -1l-5 0l-15 2l-13 -2l-4 0l-3 3l-3 7l-2 1l-2 -1l-3 -7l-3 -3l-5 0l-7 0l-11 5l-3 -1l-2 -2l-1 -1l2 -2l8 -5l5 -7l3 -2l28 0zM253 1128l7 0l5 3l2 3l-1 5l0 3l4 2l8 2l1 2l-1 2l-3 2l-8 2l-7 0l-3 -2l-5 -7l0 -17zM982 1129l22 -1l0 26l-3 -2l-4 -7l-3 -1l-4 0l-5 1l-8 7l-15 5l-1 3l-1 6l10 4l2 2l0 2l0 4l-3 8l-1 9l-2 2l-12 9l-5 11l-10 4l-1 2l3 2l5 1l4 -2l9 -8l4 -1l3 0l7 2l4 2l5 6l3 2l9 3l3 1l1 -1l1 -3l0 -11l2 -10l0 -3l-3 -3l-8 -5l-2 -2l0 -2l1 -3l4 -2l3 0l8 2l0 92l-10 -1l-3 2l-1 2l1 2l3 3l7 4l3 0l0 68l-4 -13l-2 -3l-3 -2l-6 -1l-22 1l-12 -3l-4 -1l-21 1l-10 4l-3 2l-2 3l-1 4l1 7l1 5l-1 4l-2 2l-4 1l-9 -1l-15 3l-19 1l-1 1l0 2l1 11l-3 5l-7 2l-11 1l-4 0l-2 -3l-4 -15l-3 -4l-6 -5l0 -2l0 -2l2 -2l3 -1l11 -1l4 2l3 7l2 2l4 1l6 -1l1 -2l1 -13l2 -10l2 -3l6 -4l2 -2l1 -4l-1 -10l1 -6l3 -4l7 -4l1 -4l-1 -5l-17 -12l-5 -7l-3 -2l-7 -2l-3 -4l-6 -4l-5 -7l-5 -1l-6 1l-5 3l-1 2l-1 2l3 5l3 3l4 2l3 0l7 -1l6 1l3 1l1 2l-1 3l-2 2l-9 5l-3 1l-4 -3l-2 -1l-3 2l-1 2l0 3l3 7l4 12l-3 7l1 4l2 4l8 7l2 3l0 4l-1 3l-4 3l-8 0l-6 -2l-1 -2l-2 -10l-1 -3l-2 -1l-3 1l-4 5l-5 1l-2 -1l-5 -5l-2 -1l-9 0l-7 -3l-6 -1l-17 1l-4 -1l-7 -4l-6 -1l-6 1l-7 3l-4 1l-37 0l-31 0l-6 -1l-7 -5l-2 -1l-20 7l-16 2l-4 -1l-9 -5l-11 0l-9 -1l-2 1l-6 4l-9 4l-2 4l0 2l1 2l6 2l2 2l5 9l8 4l1 2l-2 8l2 2l3 1l6 0l5 0l10 -5l5 -1l15 1l11 6l6 2l8 -1l8 -1l9 1l6 -2l4 -1l3 1l8 4l3 1l9 -1l8 1l11 -3l11 3l2 -1l7 -4l4 -1l4 1l8 3l6 -1l9 1l10 -1l12 3l8 -1l4 1l1 2l0 2l-2 5l-5 4l-5 2l-10 0l-9 3l-4 0l-9 -2l-10 0l-7 -4l-4 -1l-3 1l-7 4l-11 -1l-8 1l-4 -2l-5 -3l-3 -1l-4 1l-6 7l-3 1l-10 -1l-7 1l-10 0l-11 2l-14 -4l-2 2l-1 5l-3 5l-3 2l-3 1l-24 0l-11 -3l-13 -1l-13 -3l-45 2l-5 -1l-3 -2l-6 -7l-5 -4l-5 -2l-10 -2l-3 -2l-1 -2l-3 -11l2 -13l-1 -3l-1 -1l-3 -1l-11 1l-2 -2l-3 -4l-2 -2l-12 -2l-7 -4l-15 1l-10 -5l-11 -1l-8 -2l-3 1l-10 9l-6 7l-8 7l-6 6l-3 2l-9 1l-3 3l-1 2l0 2l8 4l3 3l0 4l-2 2l-2 1l-3 -1l-2 -2l-4 -8l-14 -3l-4 -4l-4 -2l-3 0l-3 2l-8 6l-5 6l-3 1l-3 0l-2 -1l-3 -6l-2 -2l-15 1l-3 -6l-5 -8l-3 -12l-4 -4l0 -54l5 3l3 0l2 -2l4 -6l5 -1l10 -1l16 1l3 -2l3 -3l2 -7l0 -4l-1 -3l-7 -4l-5 -7l-4 -1l-2 1l-4 7l-14 12l-5 7l-3 1l-8 -1l0 -48l1 -1l1 -3l0 -12l2 -10l-1 -3l-3 -3l0 -13l6 2l4 0l2 -2l3 -6l3 -2l2 0l2 1l4 6l4 2l6 0l8 -3l5 1l3 3l4 8l4 3l6 1l12 -1l4 1l6 7l6 5l5 8l3 2l18 1l3 -1l2 -2l4 -9l2 -2l2 -1l9 0l3 0l6 -8l6 -4l5 -7l6 -2l10 -1l29 0l4 2l4 6l4 1l10 -1l24 1l5 -1l3 -2l1 -4l0 -4l-3 -7l0 -5l3 -4l3 -1l3 0l2 1l5 5l5 5l5 9l4 2l3 0l3 -2l1 -2l3 -11l5 -3l5 -2l3 0l2 1l4 6l2 2l7 2l6 -1l3 -2l1 -3l1 -9l-3 -12l1 -4l2 -1l3 1l4 8l4 2l4 1l5 -1l2 -2l3 -5l3 -1l7 6l14 4l10 10l1 3l0 8l1 4l2 2l2 1l11 1l10 8l4 0l4 0l3 -2l5 -6l7 -4l1 -4l0 -3l-3 -2l-3 -1l-9 2l-3 -2l-3 -3l0 -2l1 -2l6 -4l3 -3l0 -9l0 -2l4 -2l4 -1l15 0l12 -1l3 1l4 5l3 2l6 1l13 0l4 0l3 2l4 6l2 2l4 1l8 -1l4 2l1 2l-2 8l0 5l3 4l6 4l5 6l2 1l4 1l14 -1l4 1l2 1l5 6l6 5l2 4l-1 2l-8 4l-2 3l0 4l2 5l2 4l4 2l5 0l7 -1l3 -4l-1 -3l-5 -5l-1 -3l1 -2l5 -3l1 -3l1 -5l-2 -10l2 -9l9 -13l8 -5l6 -6l11 -7l10 -6l2 1l3 6l2 2l6 0l14 1l3 1l5 3l3 1l16 -1l2 2l4 7l3 1l2 0l2 -2l1 -2l0 -5l0 -2l-8 -1l-2 -1l-4 -7l-9 -9l-1 -3l1 -2l2 -2l3 0l2 2l7 8l3 1l4 0l2 -1l6 -10l8 -5l5 -7zM713 1166l-1 1l-2 2l0 3l1 2l4 3l3 1l3 -1l1 -1l1 -3l-1 -6l-4 -2zM526 1207l-2 2l-1 2l1 6l4 2l5 0l2 -2l1 -2l-1 -6l-2 -2l-2 0zM781 1230l-4 2l-2 2l-2 4l-2 8l-3 3l-3 1l-11 -2l-7 0l-6 2l-9 5l-13 3l-5 1l-10 -1l-6 2l-6 2l-1 2l2 2l4 2l18 3l8 0l12 -1l2 1l4 5l6 4l5 6l6 2l18 0l13 -5l8 -1l8 1l3 -2l3 -2l3 -4l0 -4l-1 -2l-4 -1l-10 0l-13 -6l-3 -2l-3 -3l-1 -4l3 -8l2 -5l5 -5l1 -2l-1 -2l-2 -1zM671 1232l-4 2l-1 3l0 4l1 4l2 2l3 2l4 0l3 -1l3 -2l1 -4l1 -3l-1 -3l-2 -2l-3 -2l-4 0zM387 1268l-12 3l-9 2l-3 2l-1 3l0 6l4 6l8 7l6 3l10 1l6 0l8 -3l8 -4l3 0l5 0l8 4l6 0l3 -1l5 -4l3 -1l13 -2l10 0l3 -1l2 -2l-1 -2l-2 -1l-10 -2l-10 -2l-11 -1l-6 3l-3 0l-11 -7l-8 -4l-9 -2zM944 1271l-8 6l-9 3l-1 4l2 4l2 1l5 -1l7 -5l6 -2l5 1l10 6l5 1l7 -1l2 -1l2 -2l0 -2l-2 -2l-11 -8l-18 -2zM575 1281l-3 1l-2 2l-2 5l0 6l2 3l2 1l9 -1l10 6l16 -3l18 4l13 -1l2 -2l1 -2l0 -3l-2 -3l-5 -3l-7 -3l-5 -1l-8 1l-3 -1l-3 -1l-4 -5l-3 -1l-17 0zM301 1292l-4 7l-6 7l-4 6l-7 4l-2 2l-1 4l2 13l2 4l3 3l3 0l3 -1l6 -6l8 -5l2 -3l0 -5l-3 -10l2 -16l-1 -3zM806 1298l-5 3l-6 6l-1 3l1 2l2 1l9 -1l6 0l3 2l4 7l2 0l2 -1l2 -2l-1 -3l-6 -6l-4 -8l-5 -3zM487 1361l-2 3l-1 3l1 2l3 2l5 1l5 -1l4 -1l2 -3l-1 -3l-3 -3l-7 -1zM367 1372l6 0l10 3l13 0l4 2l0 2l-2 2l-4 2l-18 -1l-10 3l-3 0l-2 -1l-1 -2l0 -5l3 -3zM426 1372l2 0l8 3l11 -2l4 3l1 3l-3 4l-5 3l-20 -1l-3 -2l-1 -3l3 -5zM310 1375l5 -1l3 1l1 2l-1 2l-3 3l-3 0l-2 -1l-2 -2l0 -2zM881 1408l6 -1l6 1l4 2l1 2l-3 3l-5 3l-6 4l-5 1l-16 0l-12 1l-4 -1l-2 -3l1 -2l1 -1l12 -5l3 0l10 0z"/><path fill="#ffb0a0" d="M333 1118l7 0l7 1l7 4l1 3l-1 1l-4 3l-12 2l-8 -1l-6 -3l-1 -2l1 -3l4 -3zM294 1122l2 0l3 0l3 2l0 2l-1 1l-2 0l-6 0l0 -3zM369 1140l3 1l2 5l-1 3l-4 2l-4 -2l-1 -3l2 -4zM751 1159l4 -1l3 2l4 7l3 2l10 0l4 1l1 2l-1 9l1 5l9 5l6 8l3 1l5 1l11 -2l4 1l3 2l4 5l5 4l2 2l0 3l-9 5l-1 2l0 4l1 5l2 5l3 3l4 1l5 0l6 -2l3 -1l2 -3l1 -3l0 -3l-5 -3l-2 -2l1 -2l4 -3l1 -3l0 -6l-2 -10l1 -7l3 -5l7 -8l9 -5l7 -6l9 -5l3 0l1 2l0 8l1 2l2 1l4 -1l7 -7l7 -1l4 0l4 2l7 7l2 2l4 -1l9 -4l3 0l3 1l7 8l8 5l2 2l-1 3l-3 4l-7 5l-2 9l-2 3l-3 1l-9 1l-12 5l-3 2l-1 2l0 2l1 2l2 1l2 0l7 -3l4 -1l9 3l6 0l5 -3l9 -7l3 -1l4 0l7 2l6 8l9 5l2 2l0 2l-1 2l-8 3l-2 2l-4 11l-11 11l-7 1l-14 -1l-4 2l-9 5l-10 -1l-4 1l-1 2l-1 2l2 6l-1 3l-2 2l-7 3l-1 2l0 2l1 2l3 2l8 1l4 -2l6 -4l10 -2l8 -4l3 1l7 3l6 1l11 0l11 -2l10 2l6 6l2 1l0 48l-4 -6l-3 -2l-3 -1l-27 0l-15 -3l-18 -1l-14 5l-5 3l-4 3l-2 4l-1 5l0 3l3 6l-1 2l-8 -1l-11 5l-9 1l-8 1l-6 -1l-2 -2l-1 -3l1 -17l2 -4l7 -4l2 -2l1 -5l-1 -11l0 -4l3 -4l6 -3l2 -2l1 -5l-1 -5l-7 -4l-5 -5l-6 -3l-6 -8l-7 -4l-5 -4l-5 -4l-5 -6l-4 -2l-7 -1l-13 3l-18 1l-8 -1l-6 -3l-4 -4l0 -6l3 -7l7 -7l1 -3l-1 -2l-3 -2l-8 -1l-6 0l-3 3l-1 3l-2 10l-1 3l-2 1l-4 0l-8 -2l-5 0l-33 11l-18 0l-20 5l-12 -2l-3 1l-3 4l0 2l0 1l4 1l19 0l33 6l14 0l4 2l11 13l8 3l25 1l5 -2l6 -3l4 -1l6 2l5 2l0 2l-2 3l-4 3l-4 1l-15 2l-19 0l-5 1l-2 2l-1 3l0 9l-1 2l-3 0l-15 1l-8 4l-4 1l-37 0l-14 -3l-11 2l-4 0l-2 -1l-2 -3l-3 -7l0 -5l2 -4l3 -1l4 -1l15 0l8 2l4 -1l3 -2l3 -3l0 -2l-1 -2l-4 -1l-5 -1l-22 0l-10 2l-3 0l-15 -9l-10 -3l-1 -1l-1 -5l-4 -4l-4 0l-16 0l-3 0l-8 4l-12 2l-5 2l-2 4l-1 7l1 6l2 4l4 2l11 0l10 6l3 -1l8 -3l5 -1l6 1l9 3l12 1l2 1l2 2l0 2l-1 3l-4 3l-12 4l-9 -2l-7 1l-10 -3l-13 2l-9 -2l-3 -1l-3 2l-2 4l-3 3l-9 2l-5 4l-8 1l-5 2l-1 2l-1 3l3 8l0 5l-3 5l-4 2l-8 0l-5 -2l-2 -4l1 -8l-1 -2l-1 -1l-5 0l-3 1l-2 2l-4 5l-2 1l-6 0l-4 -2l-5 -6l-6 -4l-4 -1l-8 2l-4 0l-16 -4l-8 -7l-9 3l-7 0l-9 -5l-12 0l-4 -1l-10 -7l-3 -1l-2 1l-5 10l-9 8l-5 7l-7 5l-5 6l-4 2l-9 1l-6 5l-3 0l-3 0l-11 -3l-4 0l-9 3l-10 -1l-11 1l-4 -1l-12 -8l-6 -13l-5 -4l0 -46l5 5l3 1l2 -2l6 -8l4 -2l19 -1l4 2l2 3l-1 4l-2 3l-6 5l-4 6l-8 4l-2 3l2 20l2 4l2 3l5 2l6 -1l2 -2l5 -7l9 -6l2 -4l0 -4l-2 -10l1 -17l-3 -10l3 -13l0 -5l-1 -3l-2 -3l-5 -3l-6 -7l-7 -4l-5 -5l-5 -4l-4 -6l-3 -1l-10 -1l-2 -1l-1 -3l-1 -10l3 -13l-2 -4l-5 -3l0 -7l8 2l4 -1l2 -1l3 -6l2 -2l2 0l4 6l4 2l7 0l9 -3l4 1l2 3l4 7l4 3l8 1l11 -1l4 1l4 6l6 4l3 4l5 11l-1 5l1 3l3 3l7 0l3 0l1 -2l1 -2l-1 -5l1 -1l8 -3l3 -2l3 -9l2 -3l3 -1l9 0l3 -1l5 -6l6 -5l5 -6l2 -2l6 -1l8 1l26 -1l4 2l5 6l4 2l41 0l5 -3l3 -4l0 -8l-3 -9l1 -3l2 -1l3 1l9 7l2 3l3 7l2 2l4 1l4 0l4 -1l2 -1l2 -5l2 -1l4 2l4 0l18 -1l4 1l6 4l2 0l3 -1l1 -2l-2 -15l1 -6l4 -1l8 0l5 2l3 3l2 3l-1 8l2 3l4 2l15 0l4 1l8 9l7 3l4 8l3 2l5 1l11 -2l23 2l23 0l4 -3l1 -4l-2 -3l-6 -4l-2 -4l2 -3l6 -3l2 -4l1 -4l-2 -9l1 -6l1 -1l3 -2zM528 1205l-3 1l-2 2l-1 3l0 5l2 3l2 1l4 1l3 0l2 -2l2 -2l1 -5l-1 -3l-3 -3zM878 1222l-3 3l-1 2l1 2l3 1l4 1l3 -1l2 -2l1 -3l-3 -3l-3 -1zM669 1227l-4 1l-3 3l-3 7l1 4l5 7l4 2l7 1l6 -2l5 -4l3 -5l0 -4l-1 -5l-3 -3l-4 -1l-7 -1zM384 1266l-9 3l-11 1l-4 4l-1 4l0 7l3 6l10 10l3 2l3 1l17 0l20 -6l13 3l7 0l4 -1l6 -5l6 -1l18 0l14 -3l14 2l14 -5l3 -2l0 -2l0 -1l-2 -1l-15 0l-13 -4l-10 2l-6 0l-12 -3l-11 -1l-4 -1l-5 -5l-3 -1l-8 1l-18 -3l-17 -1zM994 1190l3 -1l7 2l0 39l-2 -4l-1 -7l0 -6l3 -8l-1 -3l-2 -4l-7 -4l-1 -2zM819 1280l3 1l3 3l0 2l-2 6l0 5l0 3l3 6l0 1l-3 -1l-12 -14l-1 -2l2 -3zM846 1285l1 0l-1 1zM805 1315l4 0l3 1l0 4l-1 3l-6 0l-3 -2l-1 -2l1 -2zM827 1331l2 0l9 7l2 4l-2 3l-2 1l-2 0l-5 -3l-2 -5zM555 1346l4 -1l3 3l3 7l4 5l-1 8l0 3l4 3l7 1l11 1l5 -1l9 -3l7 0l9 -2l11 6l13 1l4 1l2 2l1 2l-1 5l-3 4l-4 1l-3 -1l-9 -6l-5 -1l-4 0l-3 2l-1 2l1 11l-3 3l-5 1l-18 0l-9 -2l-13 0l-10 -5l-3 -1l-28 1l-3 -2l-4 -7l-4 -3l-6 0l-10 2l-4 0l-12 -4l-4 -3l0 -2l2 -1l15 -1l12 -3l16 2l10 -1l10 1l3 -1l3 -3l2 -5l0 -5l-3 -5l0 -4l0 -3zM836 1366l3 0l3 1l5 7l2 2l3 1l6 -1l3 1l2 3l1 4l0 3l-1 3l-4 3l-5 0l-7 0l-3 -2l-11 -21l0 -2zM736 1375l3 0l2 1l2 3l-1 3l-5 1l-5 -2l0 -3zM671 1376l4 -1l3 2l4 4l-1 3l-5 2l-6 -2l-2 -2l0 -2l1 -2zM713 1377l4 0l4 2l3 3l0 3l-3 1l-6 1l-5 -1l-2 -1l-1 -2l1 -2l2 -3zM767 1377l7 -1l5 1l5 3l1 3l-1 2l-14 5l-3 1l-3 -1l-4 -3l-1 -4l3 -4z"/><path fill="#ff9682" d="M338 1121l6 2l2 1l0 3l-3 1l-4 1l-4 -1l-3 -1l0 -1l0 -3l3 -1zM753 1165l1 -1l0 1zM772 1173l3 0l2 2l-2 10l-1 0l-3 -3l-2 -5l1 -3zM905 1174l4 0l3 1l5 7l3 1l10 3l5 2l2 5l1 9l1 5l0 1l-6 1l-10 6l-12 2l-19 -1l-13 2l-12 3l-13 -1l-3 -1l-4 -18l1 -6l2 -5l9 -9l4 -1l4 0l1 2l-1 6l1 1l22 0l4 -2l6 -10zM522 1178l4 0l3 2l2 3l2 7l1 2l6 2l4 1l8 -1l8 -4l19 -2l3 1l8 5l8 2l7 2l3 1l5 -2l6 -6l3 -1l9 -1l6 2l2 2l1 3l-2 9l1 13l-1 11l0 4l3 4l5 4l5 6l6 4l2 3l-1 2l-2 3l-3 2l-3 0l-6 -1l-2 0l-7 8l-7 2l-4 0l-10 -2l-21 -1l-6 1l-6 4l-3 1l-15 -4l-21 1l-19 -3l-3 1l-4 6l-3 2l-6 1l-6 1l-5 -1l-6 -6l-4 -1l-6 0l-7 5l-4 2l-6 -2l-6 -6l-2 0l-5 3l-3 0l-2 -2l-4 -6l-5 -5l-2 0l-6 1l-3 0l-2 -2l-3 -8l-3 -1l-3 0l-3 3l-2 7l-3 3l-7 1l-13 -1l-11 4l-11 1l-3 2l-3 2l-2 7l1 10l2 6l8 8l2 5l2 19l-2 3l-7 6l-7 7l-3 1l-8 -1l-3 1l-2 2l-2 6l-6 4l-6 5l-3 1l-12 -1l-10 1l-17 0l-3 0l-2 -2l-5 -5l-8 -4l-10 -15l-1 -1l-2 0l0 -22l2 2l1 2l-1 11l1 6l3 -1l3 -1l5 -8l1 -1l3 -1l2 3l1 2l0 12l2 6l2 4l4 2l8 1l6 -2l2 -2l1 -6l2 -3l9 -6l2 -4l-1 -17l1 -15l-1 -11l1 -16l-1 -7l-2 -2l-6 -4l-5 -7l-7 -4l-5 -6l-5 -4l-5 -8l-3 -1l-10 1l-2 -2l-1 -2l0 -8l5 -15l8 -2l5 -6l3 -1l9 0l10 -2l3 1l3 9l3 2l9 1l12 -1l4 1l4 6l7 4l2 4l1 5l-1 8l2 7l3 3l16 3l3 -2l3 -10l7 -6l2 -9l2 -4l3 -1l9 1l3 -1l5 -8l6 -4l4 -6l3 -2l6 -1l7 3l8 -1l18 -1l3 2l4 7l5 2l45 0l5 -2l4 -6l0 -3l-1 -10zM524 1204l-3 2l-1 3l0 6l2 4l2 2l4 1l5 1l3 -1l2 -2l1 -5l0 -7l-1 -3l-5 -2zM776 1188l12 3l2 3l3 6l3 1l9 1l9 -1l4 0l2 2l4 5l5 3l1 2l-1 2l-7 3l-1 2l-1 2l0 9l2 6l2 3l3 2l5 1l11 -2l4 -2l5 -4l2 0l2 0l5 4l3 1l16 -3l22 3l17 -1l4 -1l6 -5l4 -2l13 1l7 -1l4 -3l6 -6l5 -2l6 2l6 7l7 4l1 2l-2 2l-7 4l-5 10l-9 9l-2 2l-5 0l-11 -1l-15 7l-12 -1l-11 2l-11 0l-5 0l-3 2l-4 5l-5 4l-3 8l-3 0l-5 -2l-4 -7l-7 -4l-5 -5l-5 -3l-6 -7l-4 -2l-11 -2l-9 1l-10 0l-14 3l-5 -1l-4 -3l-2 -4l1 -6l3 -5l7 -6l1 -4l0 -2l-2 -2l-10 -4l-3 -2l1 -4l4 -8l0 -2l-3 -1l-6 2l-3 2l-5 7l-4 2l-5 1l-4 -1l-2 -2l-1 -2l0 -4l1 -2l7 -5l5 -6l7 -3zM805 1228l-1 3l1 4l3 4l4 1l1 -3l-1 -5l-4 -4zM1004 1213l0 10l-1 -4zM705 1217l6 0l5 0l3 3l3 6l3 2l3 1l7 0l3 1l7 7l1 2l-1 2l-3 2l-4 2l-13 3l-10 4l-7 0l-8 -1l-1 -2l1 -8l0 -9l0 -7l2 -5zM761 1237l3 -1l2 2l0 3l-1 2l-3 0l-3 -2l-1 -2zM663 1273l5 0l34 1l6 0l8 3l10 0l4 3l1 3l1 3l-2 3l-5 2l-16 -2l-12 0l-15 -1l-21 0l-14 1l-5 -1l-6 -4l0 -2l3 -2l4 -1l10 0zM287 1291l3 0l2 1l1 1l0 2l-1 2l-6 5l-4 6l-3 1l-5 1l-4 0l-3 -2l-1 -3l1 -5l1 -4l3 -3l3 -1l7 1zM517 1291l3 0l2 1l4 7l4 2l5 0l13 -1l5 1l2 1l0 5l-2 3l-6 4l-2 2l0 9l-2 3l-13 4l-10 0l-3 2l-5 5l-11 3l-6 2l-5 0l-6 -5l-1 -3l1 -11l-1 -2l-3 -2l-4 1l-2 1l-4 7l-2 2l-3 1l-7 0l-8 1l-4 -2l-5 -8l-3 -2l-3 0l-6 7l-4 1l-3 -1l-4 -6l-4 -2l-5 0l-8 3l-5 -1l-4 -3l-4 -7l1 -2l1 -1l7 -2l7 -3l6 -2l5 0l13 1l9 0l4 -1l6 -5l4 -1l9 2l8 0l10 1l18 0l3 -1l8 -5zM882 1290l3 1l2 1l0 2l-2 1l-2 -1l-2 -2zM895 1299l4 1l8 3l12 1l6 -1l8 -4l3 0l11 2l13 -2l7 1l2 1l1 9l3 2l7 1l13 -1l4 0l2 2l1 3l-2 8l1 4l1 4l4 -1l0 9l-5 -7l-14 1l-19 1l-26 -6l-3 0l-19 7l-8 5l-3 3l-4 7l-5 5l-4 7l-2 2l-4 2l-7 1l-9 1l-3 -2l-1 -2l1 -17l2 -3l6 -3l2 -3l2 -9l-2 -9l0 -4l3 -3l7 -3l3 -11l1 -1zM697 1301l17 1l4 1l3 3l1 4l0 4l-1 3l-3 2l-5 1l-13 0l-13 1l-5 -2l-2 -3l-1 -2l1 -2l8 -5zM576 1309l4 -1l5 3l2 3l0 3l-2 1l-3 1l-4 -1l-3 -2l-2 -4l1 -2zM607 1309l3 1l0 1l-2 0l-3 0l0 -1zM852 1380l5 -1l3 1l2 5l-1 4l-2 2l-4 0l-4 0l-3 -2l-2 -3l0 -3l2 -2zM770 1381l2 0l1 1l-1 1l-2 2l-2 0l-1 -1l0 -1z"/><path fill="#ff7864" d="M855 1189l2 0l3 6l3 1l11 -2l18 0l5 1l10 3l6 -1l6 -7l5 -1l3 2l2 1l1 3l1 3l-2 3l-3 5l-2 2l-3 2l-16 -1l-12 2l-13 4l-17 0l-8 1l-2 -1l-1 -2l-3 -15l1 -6l2 -2zM419 1191l4 1l2 2l1 2l-1 3l-6 4l-2 2l1 3l4 8l0 4l-1 4l-8 6l-5 7l-3 2l-9 0l-3 2l-6 7l-2 1l-3 -1l-3 -3l-2 -8l1 -4l5 -6l0 -9l1 -5l3 -2l10 1l3 0l1 -2l4 -7l6 -5l4 -6zM296 1192l4 0l1 2l0 3l-1 2l-4 0l-3 -2l1 -3zM783 1192l3 0l2 2l1 4l-1 2l-5 0l-3 -2l0 -4l1 -1zM454 1194l2 1l0 2l-3 1l-3 -1l-1 -1l1 -1zM283 1196l1 0l0 1l-2 0zM528 1197l4 0l1 2l-3 1l-3 0l-1 -1l1 -1zM551 1199l4 1l1 2l0 2l-2 3l-5 3l-3 6l-2 1l-1 0l-1 -5l1 -7l3 -4zM590 1199l4 1l3 2l1 3l-3 3l-5 1l-3 -3l-1 -3l0 -2l2 -2zM325 1203l5 -1l2 1l2 3l0 3l-3 1l-17 0l-3 -1l-2 -2l0 -2l2 0l9 0zM812 1203l4 -1l2 1l2 3l0 3l-20 1l-3 -1l-1 -2l0 -2l1 0l9 0zM507 1205l7 0l3 2l1 10l2 3l4 3l9 3l2 2l0 6l2 3l6 1l27 1l3 1l5 7l4 2l4 0l10 -1l6 1l2 1l2 2l2 4l0 3l-3 2l-7 1l-23 -2l-14 0l-4 -2l-5 -7l-4 -2l-4 -1l-2 1l-3 2l-3 8l-2 2l-4 1l-9 0l-3 0l-3 2l-4 7l-3 1l-3 1l-2 -1l-1 -2l1 -8l-1 -3l-4 -1l-9 2l-3 0l-2 -2l-3 -7l-3 -2l-5 0l-4 1l-2 3l-5 8l-4 2l-5 0l-5 0l-3 -2l-7 -9l-6 -4l-1 -2l1 -4l2 -3l5 -1l9 2l6 -1l4 -3l6 -8l8 -4l1 -2l1 -3l-1 -6l-2 -5l1 -2l8 -1zM338 1212l4 1l2 3l0 3l-2 2l-3 0l-2 -2l-1 -4zM824 1212l2 0l1 1l-2 1l-1 -1l-1 -1zM264 1214l2 1l2 4l-1 2l-2 1l-2 0l-1 -2l0 -3zM815 1222l2 0l0 2l0 3l0 2l-2 -1l-2 -3l0 -2zM969 1224l2 0l2 1l1 2l-1 1l-3 1l-3 -1l-1 -2zM797 1237l3 0l4 3l3 7l0 4l-3 3l-5 2l-5 1l-4 -1l-3 -1l-1 -2l0 -3l1 -4l3 -4zM849 1241l4 0l2 4l0 8l2 8l1 5l-1 1l-4 0l-3 -1l-6 -9l-13 -4l-3 -3l0 -2l3 -2zM351 1242l4 0l4 1l1 2l2 2l-1 3l-2 5l1 7l-4 5l-5 4l-6 -1l-3 0l-7 9l-3 2l-12 0l-3 -1l-2 -4l1 -6l2 -1l5 0l3 -2l22 -23zM904 1248l28 1l5 2l1 3l0 2l-3 4l-5 2l-28 -1l-3 -1l-1 -2l-1 -5l1 -2l1 -2zM860 1269l4 1l0 3l-1 0l-2 -1l-1 -2zM700 1278l4 0l3 2l-1 1l-3 1l-4 -1l-2 -1l0 -1zM667 1280l2 -1l2 1l-2 1zM872 1279l2 0l1 1l1 2l-1 2l-2 0l-1 -1l-1 -2zM275 1299l3 0l2 1l0 1l0 3l-2 1l-3 -1l-2 -3zM895 1305l3 2l0 2l-2 1l-1 0l-1 -1l0 -2zM920 1310l4 0l2 2l2 4l2 6l0 3l-3 3l-3 2l-3 1l-3 -1l-1 -4l0 -14l1 -2zM884 1317l3 0l2 2l-1 4l-1 2l-2 1l-3 -2l-1 -3l1 -3zM972 1320l17 0l2 2l0 4l-2 3l-4 2l-19 0l-13 -2l-4 -2l-1 -2l1 -3l3 -1l14 0zM875 1349l1 1l0 1l-1 1l-1 0l-1 -2zM875 1360l4 1l2 3l0 1l-3 2l-5 0l-1 -1l0 -2l1 -2zM855 1383l2 -1l2 1l1 3l-2 2l-3 1l-3 -2l0 -2z"/><path fill="#ff5f46" d="M417 1193l4 0l1 1l0 2l-2 3l-5 1l0 -1l0 -3zM853 1192l2 1l3 5l3 2l3 0l9 -1l8 0l10 0l4 1l1 3l-3 3l-12 5l-4 0l-12 -1l-9 1l-2 -2l-3 -11l0 -3zM409 1202l3 -1l1 1l0 5l-2 3l-4 1l-2 -2l0 -3l1 -2zM386 1213l5 0l4 2l2 2l-1 2l-2 2l-2 1l-3 1l-3 -1l-1 -4l0 -3zM506 1227l8 -1l6 3l13 14l1 4l0 3l-2 5l-2 2l-5 1l-7 -2l-3 -2l-4 -5l-3 -1l-3 0l-7 3l-2 0l-2 -1l-1 -3l1 -5l5 -4l4 -9zM468 1231l4 1l2 2l1 5l-1 3l-8 6l-4 8l-3 3l-6 1l-6 -2l-2 -4l0 -3l0 -2l4 -3l10 -5l6 -8zM795 1241l3 0l2 1l2 4l-1 3l-1 2l-3 2l-3 1l-3 0l-2 -1l-1 -2l0 -4l3 -4zM840 1245l5 0l2 2l0 3l-1 2l-4 1l-6 -2l-1 -1l0 -2z"/><path fill="#ff4628" d="M389 1216l2 0l-1 2l-2 0l0 -1zM508 1231l4 0l2 1l5 5l7 6l2 5l0 2l-1 2l-3 1l-4 -2l-7 -8l-6 -4l-1 -2l0 -3zM457 1247l2 0l1 1l1 3l-1 3l-2 2l-2 1l-4 -1l-3 -2l1 -3l3 -3zM793 1246l2 0l1 2l-1 1l-2 1l-1 -1l0 -1z"/><path fill="#dee4fd" d="M266 1112l9 0l6 0l2 3l0 4l-1 2l-3 2l-6 2l-4 0l-10 -3l-7 0l0 -9zM984 1113l20 0l0 9l-15 1l-7 -2l-2 -2l-1 -2l2 -3zM962 1124l3 0l2 1l1 3l-1 3l-1 2l-6 3l-4 7l-2 1l-2 -1l-2 -3l0 -3l6 -5l3 -6zM885 1135l5 -1l4 1l2 4l0 3l-7 4l-7 7l-3 1l-3 -1l-1 -1l0 -3l1 -8l4 -4zM297 1137l4 0l2 2l1 3l-1 4l-2 3l-5 3l-3 1l-3 0l-1 -2l-1 -2l-1 -4l1 -2l4 -5zM345 1137l7 -1l4 2l2 3l0 10l4 4l4 1l5 1l13 -4l5 0l2 3l3 6l7 5l4 7l2 0l9 -1l6 0l3 3l1 2l-1 2l-3 3l-9 4l-5 7l-6 5l-6 7l-3 0l-9 0l-3 1l-1 2l-4 8l-2 2l-2 0l-8 -1l-8 1l-2 -1l-6 -8l-7 -5l-4 -6l-3 -2l-5 -1l-13 1l-5 -1l-3 -4l-5 -13l0 -3l6 -5l1 -2l-1 -2l-3 -4l1 -4l3 -3l7 -5l4 -10l2 -3l3 0l9 1zM603 1144l3 1l1 2l-1 4l-2 2l-3 -1l-1 -3l0 -4zM633 1144l4 0l2 2l1 3l-2 3l-2 1l-3 0l-4 -3l0 -4zM902 1145l7 -1l6 1l3 2l0 3l-3 3l-4 2l-4 1l-3 0l-3 -3l-1 -3l0 -4zM548 1155l4 0l3 1l2 2l0 3l-5 3l-3 1l-2 -1l-2 -2l-1 -3l2 -2zM663 1155l5 1l2 1l1 2l0 2l-2 3l-4 2l-2 0l-2 -1l-3 -4l0 -3zM772 1157l2 1l-1 1l-2 0l-1 -1zM276 1159l5 -1l2 2l2 10l7 6l0 2l-2 3l-4 3l-4 -1l-2 -2l-3 -6l-2 -1l-4 -1l-4 0l-2 2l-3 6l-2 2l-3 0l-5 -2l0 -12l6 -1l5 -5l2 -2zM982 1166l3 0l12 3l4 0l3 -2l0 17l-3 -1l-7 -3l-8 -1l-2 -1l-2 -3l0 -3l-1 -4zM791 1172l11 2l36 -1l8 1l3 1l1 2l0 3l-5 10l-3 9l0 4l2 8l-1 4l-3 1l-2 0l-4 -7l-7 -4l-4 -6l-3 -2l-6 -1l-12 1l-5 -1l-5 -6l-6 -5l-3 -3l0 -3l2 -3l3 -3zM538 1175l4 1l1 2l1 3l-2 3l-2 -1l-2 -3l-1 -4zM990 1204l3 1l0 1l0 2l-1 1l-2 -2l0 -2zM528 1210l3 0l2 1l0 4l-2 1l-3 0l-2 -1l0 -4zM988 1215l4 0l1 3l0 4l-1 2l-4 0l-3 -3l1 -3zM829 1221l3 0l3 2l6 9l0 2l-1 1l-3 1l-4 0l-5 -3l-2 -4l0 -3l1 -3zM748 1253l8 0l7 2l3 2l0 3l-2 3l-6 4l-6 1l-5 -1l-3 -4l-2 -5l2 -3zM385 1273l6 0l6 1l4 2l2 2l0 2l0 2l-5 8l-3 2l-5 1l-10 -2l-6 -3l-4 -4l-1 -3l1 -2zM858 1283l2 0l3 1l4 6l16 13l1 4l-1 2l-8 5l-3 8l-4 4l-2 1l-7 -4l-5 0l-5 2l-4 4l-5 0l-2 -1l0 -3l3 -5l1 -3l-5 -8l-1 -5l2 -3l14 -10l4 -7zM621 1293l3 0l3 1l2 1l0 2l-4 2l-5 -1l-2 -2l0 -1zM583 1332l6 1l9 5l12 2l3 1l1 4l-1 8l-1 2l-3 1l-14 -1l-3 -2l-5 -7l-4 -2l-3 1l-4 5l-2 0l-2 0l-3 -3l0 -5l2 -2l5 -2l4 -4zM867 1333l1 0l0 2l-1 0zM631 1334l3 0l3 1l2 2l1 3l0 5l-2 11l3 9l-3 2l-2 0l-3 -2l-4 -4l-2 -3l3 -10l-3 -10l2 -2zM854 1342l2 0l1 1l1 2l-1 3l-1 0l-2 -1l-1 -3zM949 1345l6 1l10 5l9 0l4 1l1 2l-1 12l1 5l4 2l11 0l3 2l4 16l-1 15l1 4l3 3l0 13l-7 -1l-3 0l-2 -2l-5 -7l-3 -1l-3 -1l-17 1l-3 2l-5 7l-4 1l-13 0l-10 1l-1 1l0 3l0 37l-41 0l0 -24l-2 -8l1 -4l6 -4l10 -3l13 1l11 -1l2 -1l0 -8l0 -4l-1 -3l-1 -2l-3 -1l-10 0l-9 -3l-9 -1l-18 1l-25 4l-3 0l0 -2l1 -2l4 -2l10 -3l4 -2l2 -5l-1 -10l1 -2l5 -1l10 0l13 -1l13 1l5 -1l3 -3l3 -8l5 -7l-2 -7l1 -3l3 -2l4 -1zM992 1351l0 1l-1 -1zM653 1352l4 0l2 2l1 2l-2 4l-5 2l-3 -1l-1 -3l1 -4zM252 1376l4 17l-1 14l1 3l2 2l3 2l4 1l35 -1l4 1l2 2l2 7l-1 43l-31 0l0 -15l-1 -4l-7 -4l-1 -2l-1 -3l0 -7l-1 -3l-2 -2l-2 -1l-9 -1l0 -50zM343 1415l4 0l10 0l22 0l43 0l11 -1l5 2l3 2l1 5l0 44l-104 0l0 -44l2 -6zM614 1416l5 0l5 1l7 7l4 1l14 -1l5 1l4 3l1 2l-1 3l-2 2l-5 2l-39 -2l-3 -2l-1 -2l-2 -7l1 -4l2 -2z"/><path fill="#bcc7fb" d="M269 1116l4 -1l4 1l2 1l0 2l-2 2l-2 1l-5 0l-4 -3l1 -2zM345 1139l6 -1l4 2l1 3l0 8l1 3l3 2l4 2l6 0l12 -2l3 0l3 2l5 6l6 5l4 8l3 1l7 -3l4 0l4 2l1 3l-2 2l-8 5l-5 7l-6 4l-5 6l-3 1l-10 0l-3 1l-2 2l-3 8l-3 2l-7 -2l-8 1l-3 -1l-5 -7l-8 -5l-4 -6l-3 -2l-7 -1l-10 1l-5 -1l-3 -2l-2 -5l-1 -7l1 -3l7 -5l3 -6l2 -2l4 -1l11 0l3 -1l3 -2l1 -3l0 -4l-1 -3l-5 -5l0 -2l4 -3zM295 1141l4 0l1 2l-3 3l-4 1l-1 -1l0 -2zM326 1142l4 1l1 2l-4 2l-2 -1l-1 -2zM276 1163l2 0l1 2l-2 3l-4 1l-4 -1l-1 -1l2 -2zM790 1174l3 0l9 3l33 -2l7 1l4 1l1 2l0 2l-4 11l-2 9l1 9l0 3l-2 1l-2 -1l-3 -5l-7 -4l-5 -6l-2 -2l-7 -1l-12 1l-4 -1l-6 -6l-6 -4l-1 -3l-1 -2l1 -3l2 -2zM256 1176l2 -1l2 1l0 2l-1 2l-1 0l-2 -1l-1 -2zM1001 1176l3 0l0 4l-1 0l-2 -1l-1 -2zM283 1177l2 0l1 1l-1 2l-1 0l-2 -1zM529 1212l2 0l-1 2l-2 -1zM830 1223l3 1l4 6l1 3l-1 1l-5 0l-4 -4l-1 -4l1 -2zM749 1256l4 0l3 0l2 2l0 2l-4 3l-5 0l-2 -2l0 -2l1 -2zM389 1279l3 -1l1 1l-1 1l-2 0zM859 1285l3 1l4 6l6 3l4 5l5 4l1 2l-1 2l-7 4l-4 8l-3 2l-2 0l-6 -3l-10 0l-4 -5l-5 -4l-1 -3l1 -3l14 -12l3 -6zM597 1344l6 -1l4 1l2 2l0 3l-1 2l-3 1l-7 -1l-2 -2l-1 -2l0 -2zM940 1351l7 0l3 2l-2 16l-1 3l-3 1l-2 0l-2 -1l-2 -5l-1 -14l1 -1zM964 1362l4 0l2 1l1 2l0 3l-1 3l-1 2l-2 1l-3 0l-2 -1l-2 -3l0 -4zM873 1380l4 -1l2 1l2 2l-1 3l-4 4l-2 -1l-2 -3l-1 -3z"/><path fill="#9eacfa" d="M348 1141l3 0l2 3l-2 5l-2 2l-4 -3l-1 -3l1 -3zM351 1157l9 2l6 1l7 0l8 -1l3 0l2 2l5 6l6 4l2 7l2 2l5 0l9 -2l3 0l1 2l-8 6l-4 7l-7 5l-5 5l-3 1l-10 -1l-4 1l-1 2l-2 7l-3 3l-7 -2l-8 1l-2 0l-6 -7l-6 -4l-5 -7l-3 -2l-8 -1l-11 1l-3 0l-2 -2l-2 -3l-1 -5l0 -4l2 -2l7 -4l4 -5l2 -2l3 0l11 0l6 -2l3 -2zM789 1176l4 0l9 3l32 -1l5 0l4 1l2 2l0 2l-5 16l-2 9l-9 -4l-2 -2l-3 -5l-2 -2l-8 -1l-12 1l-4 -1l-5 -6l-7 -6l0 -3zM830 1225l1 0l2 2l1 2l-1 2l-2 0l-1 -2l-1 -2zM860 1289l1 1l-1 1zM867 1297l2 0l1 1l0 3l-3 -2zM877 1305l0 1l-1 0zM865 1314l3 0l0 2l-1 1l-2 -1z"/><path fill="#7d91fa" d="M380 1163l2 1l1 1l-1 1l-2 1l-13 0l-4 -1l1 -1l9 0zM789 1178l3 0l7 3l3 0l33 -1l5 1l2 1l0 4l-5 17l-1 1l-2 1l-4 -2l-2 -2l-2 -6l-2 -2l-11 0l-11 1l-3 -1l-5 -6l-6 -5l-1 -2zM313 1180l4 0l8 5l9 -1l3 1l6 4l3 0l11 -3l19 0l6 1l7 3l3 1l2 -1l3 -4l3 -2l7 -1l1 1l1 2l-3 6l-7 5l-4 5l-2 1l-6 -1l-14 -5l-5 0l-9 1l-2 2l0 2l6 7l-2 2l-4 2l-3 -2l-3 -4l-7 -4l-5 -7l-2 -2l-10 -1l-11 1l-3 -1l-3 -3l0 -4l0 -4zM368 1207l3 -1l2 1l1 3l-1 2l-3 1l-3 -2l-1 -2z"/><path fill="#5f78fa" d="M792 1181l4 2l2 0l22 1l4 2l0 2l-1 2l-3 1l-9 0l-7 1l-3 0l-3 -2l-3 -6l-4 -3zM314 1183l3 1l4 3l2 2l-1 2l-5 2l-4 -2l-1 -4l0 -2zM834 1183l4 0l2 2l0 2l-4 14l-3 2l-3 -2l-1 -3l0 -2l3 -4l1 -7zM402 1186l3 1l1 1l0 2l-3 3l-4 0l-1 -1l1 -2zM344 1195l3 -1l4 2l1 4l-1 3l-4 0l-3 -2l-1 -4zM389 1196l5 0l0 1l0 2l-2 2l-3 -1l-2 -1l-1 -2z"/><path fill="#415ffa" d="M802 1187l2 1l1 1l-3 1l-1 -1zM315 1188l1 0l1 1l-1 0l-1 0z"/><use href="#LG" transform="translate(255.600 1093.950)" fill="#fff" fill-rule="evenodd"/><use href="#L" transform="translate(255.600 1093.950)" fill="none" stroke="#111" stroke-width="0.7"/></g><rect x="256" y="1094" width="744" height="373" fill="none" stroke="#141414" stroke-width="2"/><path d="M256 1467v7M380 1467v7M504 1467v7M628 1467v7M752 1467v7M876 1467v7M1000 1467v7M249 1467h7M249 1404h7M249 1342h7M249 1280h7M249 1218h7M249 1156h7M249 1094h7" stroke="#000" stroke-width="2" fill="none"/><path d="M1061.57 1151.80L1061.57 1148.80L1082.35 1135.36L1103.13 1148.80L1103.13 1151.80Z" fill="#ff2800"/><path d="M1061.57 1414.60L1061.57 1417.60L1082.35 1431.04L1103.13 1417.60L1103.13 1414.60Z" fill="#002df8"/><rect x="1061.57" y="1401.79" width="41.56" height="16.11" fill="#002df8"/><rect x="1061.57" y="1385.98" width="41.56" height="16.11" fill="#2346fa"/><rect x="1061.57" y="1370.17" width="41.56" height="16.11" fill="#415ffa"/><rect x="1061.57" y="1354.36" width="41.56" height="16.11" fill="#5f78fa"/><rect x="1061.57" y="1338.55" width="41.56" height="16.11" fill="#7d91fa"/><rect x="1061.57" y="1322.73" width="41.56" height="16.11" fill="#9eacfa"/><rect x="1061.57" y="1306.92" width="41.56" height="16.11" fill="#bcc7fb"/><rect x="1061.57" y="1291.11" width="41.56" height="16.11" fill="#dee4fd"/><rect x="1061.57" y="1275.30" width="41.56" height="16.11" fill="#ffffff"/><rect x="1061.57" y="1259.49" width="41.56" height="16.11" fill="#ffe6e0"/><rect x="1061.57" y="1243.68" width="41.56" height="16.11" fill="#ffcdc3"/><rect x="1061.57" y="1227.86" width="41.56" height="16.11" fill="#ffb0a0"/><rect x="1061.57" y="1212.05" width="41.56" height="16.11" fill="#ff9682"/><rect x="1061.57" y="1196.24" width="41.56" height="16.11" fill="#ff7864"/><rect x="1061.57" y="1180.43" width="41.56" height="16.11" fill="#ff5f46"/><rect x="1061.57" y="1164.62" width="41.56" height="16.11" fill="#ff4628"/><rect x="1061.57" y="1148.80" width="41.56" height="16.11" fill="#ff2800"/><path d="M1061.57 1148.80L1082.35 1135.36L1103.13 1148.80L1103.13 1417.60L1082.35 1431.04L1061.57 1417.60Z" fill="none" stroke="#000" stroke-width="1.67" stroke-linejoin="miter"/></svg>
<div class="t" id="t0" style="left:255.00px;top:124.83px;font-size:21.39px;line-height:21.39px;transform:scaleX(1.0329)">alpha3.0_v1p_min10nc_tk1 (2-6)</div>
<div class="t" id="t1" style="left:921.50px;top:124.46px;font-size:20.32px;line-height:20.32px;transform:scaleX(1.0828)">kg/m2/s</div>
<div class="t" id="t2" style="left:255.50px;top:594.09px;font-size:19.25px;line-height:19.25px;transform:scaleX(1.1156)">WHOI OAFlux (1980-2005)</div>
<div class="t" id="t3" style="left:895.00px;top:594.46px;font-size:20.32px;line-height:20.32px;transform:scaleX(1.0940)">kg m-2 s-1</div>
<div class="t" id="t4" style="left:242.00px;top:539.64px;font-size:16.75px;line-height:16.75px;transform:scaleX(0.9918)">0°E</div>
<div class="t" id="t5" style="left:359.50px;top:539.64px;font-size:16.75px;line-height:16.75px;transform:scaleX(1.0412)">60°E</div>
<div class="t" id="t6" style="left:479.50px;top:539.64px;font-size:16.75px;line-height:16.75px;transform:scaleX(1.0480)">120°E</div>
<div class="t" id="t7" style="left:610.00px;top:539.64px;font-size:16.75px;line-height:16.75px;transform:scaleX(1.0991)">180°</div>
<div class="t" id="t8" style="left:724.50px;top:539.64px;font-size:16.75px;line-height:16.75px;transform:scaleX(1.0694)">120°W</div>
<div class="t" id="t9" style="left:852.50px;top:539.64px;font-size:16.75px;line-height:16.75px;transform:scaleX(1.0704)">60°W</div>
<div class="t" id="t10" style="left:984.00px;top:539.64px;font-size:16.75px;line-height:16.75px;transform:scaleX(1.0367)">0°W</div>
<div class="t" id="t11" style="left:201.00px;top:519.49px;font-size:16.85px;line-height:16.85px;transform:scaleX(1.0643)">90°S</div>
<div class="t" id="t12" style="left:201.00px;top:457.49px;font-size:16.85px;line-height:16.85px;transform:scaleX(1.0363)">60°S</div>
<div class="t" id="t13" style="left:201.00px;top:395.49px;font-size:16.85px;line-height:16.85px;transform:scaleX(1.0363)">30°S</div>
<div class="t" id="t14" style="left:223.00px;top:333.49px;font-size:16.85px;line-height:16.85px;transform:scaleX(0.9990)">0°</div>
<div class="t" id="t15" style="left:199.50px;top:271.49px;font-size:16.85px;line-height:16.85px;transform:scaleX(1.0919)">30°N</div>
<div class="t" id="t16" style="left:199.50px;top:209.49px;font-size:16.85px;line-height:16.85px;transform:scaleX(1.0654)">60°N</div>
<div class="t" id="t17" style="left:199.50px;top:147.49px;font-size:16.85px;line-height:16.85px;transform:scaleX(1.0919)">90°N</div>
<div class="t" id="t18" style="left:1137.00px;top:450.04px;font-size:19.72px;line-height:19.72px;transform:scaleX(1.0216)">0.0</div>
<div class="t" id="t19" style="left:1135.50px;top:431.04px;font-size:19.72px;line-height:19.72px;transform:scaleX(1.0594)">5.0</div>
<div class="t" id="t20" style="left:1124.50px;top:411.04px;font-size:19.72px;line-height:19.72px;transform:scaleX(1.0437)">15.0</div>
<div class="t" id="t21" style="left:1123.50px;top:392.04px;font-size:19.72px;line-height:19.72px;transform:scaleX(1.0697)">30.0</div>
<div class="t" id="t22" style="left:1123.50px;top:373.04px;font-size:19.72px;line-height:19.72px;transform:scaleX(1.0697)">60.0</div>
<div class="t" id="t23" style="left:1123.50px;top:354.04px;font-size:19.72px;line-height:19.72px;transform:scaleX(1.0697)">90.0</div>
<div class="t" id="t24" style="left:1112.50px;top:335.04px;font-size:19.72px;line-height:19.72px;transform:scaleX(1.0338)">120.0</div>
<div class="t" id="t25" style="left:1112.50px;top:315.04px;font-size:19.72px;line-height:19.72px;transform:scaleX(1.0338)">150.0</div>
<div class="t" id="t26" style="left:1112.50px;top:296.04px;font-size:19.72px;line-height:19.72px;transform:scaleX(1.0338)">180.0</div>
<div class="t" id="t27" style="left:1111.50px;top:277.04px;font-size:19.72px;line-height:19.72px;transform:scaleX(1.0540)">210.0</div>
<div class="t" id="t28" style="left:1111.50px;top:258.04px;font-size:19.72px;line-height:19.72px;transform:scaleX(1.0742)">240.0</div>
<div class="t" id="t29" style="left:1111.50px;top:239.04px;font-size:19.72px;line-height:19.72px;transform:scaleX(1.0540)">270.0</div>
<div class="t" id="t30" style="left:1111.50px;top:219.04px;font-size:19.72px;line-height:19.72px;transform:scaleX(1.0540)">300.0</div>
<div class="t" id="t31" style="left:242.00px;top:1009.64px;font-size:16.75px;line-height:16.75px;transform:scaleX(0.9918)">0°E</div>
<div class="t" id="t32" style="left:359.50px;top:1009.64px;font-size:16.75px;line-height:16.75px;transform:scaleX(1.0412)">60°E</div>
<div class="t" id="t33" style="left:479.50px;top:1009.64px;font-size:16.75px;line-height:16.75px;transform:scaleX(1.0480)">120°E</div>
<div class="t" id="t34" style="left:610.00px;top:1009.64px;font-size:16.75px;line-height:16.75px;transform:scaleX(1.0991)">180°</div>
<div class="t" id="t35" style="left:724.50px;top:1009.64px;font-size:16.75px;line-height:16.75px;transform:scaleX(1.0694)">120°W</div>
<div class="t" id="t36" style="left:852.50px;top:1009.64px;font-size:16.75px;line-height:16.75px;transform:scaleX(1.0704)">60°W</div>
<div class="t" id="t37" style="left:984.00px;top:1009.64px;font-size:16.75px;line-height:16.75px;transform:scaleX(1.0367)">0°W</div>
<div class="t" id="t38" style="left:201.00px;top:989.49px;font-size:16.85px;line-height:16.85px;transform:scaleX(1.0643)">90°S</div>
<div class="t" id="t39" style="left:201.00px;top:927.49px;font-size:16.85px;line-height:16.85px;transform:scaleX(1.0363)">60°S</div>
<div class="t" id="t40" style="left:201.00px;top:865.49px;font-size:16.85px;line-height:16.85px;transform:scaleX(1.0363)">30°S</div>
<div class="t" id="t41" style="left:223.00px;top:803.49px;font-size:16.85px;line-height:16.85px;transform:scaleX(0.9990)">0°</div>
<div class="t" id="t42" style="left:199.50px;top:741.49px;font-size:16.85px;line-height:16.85px;transform:scaleX(1.0919)">30°N</div>
<div class="t" id="t43" style="left:199.50px;top:679.49px;font-size:16.85px;line-height:16.85px;transform:scaleX(1.0654)">60°N</div>
<div class="t" id="t44" style="left:199.50px;top:617.49px;font-size:16.85px;line-height:16.85px;transform:scaleX(1.0919)">90°N</div>
<div class="t" id="t45" style="left:1137.00px;top:920.04px;font-size:19.72px;line-height:19.72px;transform:scaleX(1.0216)">0.0</div>
<div class="t" id="t46" style="left:1135.50px;top:901.04px;font-size:19.72px;line-height:19.72px;transform:scaleX(1.0594)">5.0</div>
<div class="t" id="t47" style="left:1124.50px;top:881.04px;font-size:19.72px;line-height:19.72px;transform:scaleX(1.0437)">15.0</div>
<div class="t" id="t48" style="left:1123.50px;top:862.04px;font-size:19.72px;line-height:19.72px;transform:scaleX(1.0697)">30.0</div>
<div class="t" id="t49" style="left:1123.50px;top:843.04px;font-size:19.72px;line-height:19.72px;transform:scaleX(1.0697)">60.0</div>
<div class="t" id="t50" style="left:1123.50px;top:824.04px;font-size:19.72px;line-height:19.72px;transform:scaleX(1.0697)">90.0</div>
<div class="t" id="t51" style="left:1112.50px;top:805.04px;font-size:19.72px;line-height:19.72px;transform:scaleX(1.0338)">120.0</div>
<div class="t" id="t52" style="left:1112.50px;top:785.04px;font-size:19.72px;line-height:19.72px;transform:scaleX(1.0338)">150.0</div>
<div class="t" id="t53" style="left:1112.50px;top:766.04px;font-size:19.72px;line-height:19.72px;transform:scaleX(1.0338)">180.0</div>
<div class="t" id="t54" style="left:1111.50px;top:747.04px;font-size:19.72px;line-height:19.72px;transform:scaleX(1.0540)">210.0</div>
<div class="t" id="t55" style="left:1111.50px;top:728.04px;font-size:19.72px;line-height:19.72px;transform:scaleX(1.0742)">240.0</div>
<div class="t" id="t56" style="left:1111.50px;top:709.04px;font-size:19.72px;line-height:19.72px;transform:scaleX(1.0540)">270.0</div>
<div class="t" id="t57" style="left:1111.50px;top:689.04px;font-size:19.72px;line-height:19.72px;transform:scaleX(1.0540)">300.0</div>
<div class="t" id="t58" style="left:242.00px;top:1479.64px;font-size:16.75px;line-height:16.75px;transform:scaleX(0.9918)">0°E</div>
<div class="t" id="t59" style="left:359.50px;top:1479.64px;font-size:16.75px;line-height:16.75px;transform:scaleX(1.0412)">60°E</div>
<div class="t" id="t60" style="left:479.50px;top:1479.64px;font-size:16.75px;line-height:16.75px;transform:scaleX(1.0480)">120°E</div>
<div class="t" id="t61" style="left:610.00px;top:1479.64px;font-size:16.75px;line-height:16.75px;transform:scaleX(1.0991)">180°</div>
<div class="t" id="t62" style="left:724.50px;top:1479.64px;font-size:16.75px;line-height:16.75px;transform:scaleX(1.0694)">120°W</div>
<div class="t" id="t63" style="left:852.50px;top:1479.64px;font-size:16.75px;line-height:16.75px;transform:scaleX(1.0704)">60°W</div>
<div class="t" id="t64" style="left:984.00px;top:1479.64px;font-size:16.75px;line-height:16.75px;transform:scaleX(1.0367)">0°W</div>
<div class="t" id="t65" style="left:201.00px;top:1460.49px;font-size:16.85px;line-height:16.85px;transform:scaleX(1.0643)">90°S</div>
<div class="t" id="t66" style="left:201.00px;top:1397.49px;font-size:16.85px;line-height:16.85px;transform:scaleX(1.0363)">60°S</div>
<div class="t" id="t67" style="left:201.00px;top:1335.49px;font-size:16.85px;line-height:16.85px;transform:scaleX(1.0363)">30°S</div>
<div class="t" id="t68" style="left:223.00px;top:1273.49px;font-size:16.85px;line-height:16.85px;transform:scaleX(0.9990)">0°</div>
<div class="t" id="t69" style="left:199.50px;top:1211.49px;font-size:16.85px;line-height:16.85px;transform:scaleX(1.0919)">30°N</div>
<div class="t" id="t70" style="left:199.50px;top:1149.49px;font-size:16.85px;line-height:16.85px;transform:scaleX(1.0654)">60°N</div>
<div class="t" id="t71" style="left:199.50px;top:1087.49px;font-size:16.85px;line-height:16.85px;transform:scaleX(1.0919)">90°N</div>
<div class="t" id="t72" style="left:499.50px;top:1059.77px;font-size:25.85px;line-height:25.85px;transform:scaleX(1.0380)">Model - Observations</div>
<div class="t" id="t73" style="left:1106.50px;top:1393.04px;font-size:19.72px;line-height:19.72px;transform:scaleX(1.0382)">-150.0</div>
<div class="t" id="t74" style="left:1106.50px;top:1377.04px;font-size:19.72px;line-height:19.72px;transform:scaleX(1.0382)">-120.0</div>
<div class="t" id="t75" style="left:1117.50px;top:1362.04px;font-size:19.72px;line-height:19.72px;transform:scaleX(1.0459)">-90.0</div>
<div class="t" id="t76" style="left:1117.50px;top:1346.04px;font-size:19.72px;line-height:19.72px;transform:scaleX(1.0459)">-60.0</div>
<div class="t" id="t77" style="left:1117.50px;top:1330.04px;font-size:19.72px;line-height:19.72px;transform:scaleX(1.0459)">-30.0</div>
<div class="t" id="t78" style="left:1117.50px;top:1314.04px;font-size:19.72px;line-height:19.72px;transform:scaleX(1.0459)">-20.0</div>
<div class="t" id="t79" style="left:1117.50px;top:1298.04px;font-size:19.72px;line-height:19.72px;transform:scaleX(1.0459)">-10.0</div>
<div class="t" id="t80" style="left:1128.50px;top:1283.04px;font-size:19.72px;line-height:19.72px;transform:scaleX(1.0299)">-5.0</div>
<div class="t" id="t81" style="left:1135.50px;top:1267.04px;font-size:19.72px;line-height:19.72px;transform:scaleX(1.0594)">5.0</div>
<div class="t" id="t82" style="left:1124.50px;top:1251.04px;font-size:19.72px;line-height:19.72px;transform:scaleX(1.0437)">10.0</div>
<div class="t" id="t83" style="left:1123.50px;top:1235.04px;font-size:19.72px;line-height:19.72px;transform:scaleX(1.0697)">20.0</div>
<div class="t" id="t84" style="left:1123.50px;top:1219.04px;font-size:19.72px;line-height:19.72px;transform:scaleX(1.0697)">30.0</div>
<div class="t" id="t85" style="left:1123.50px;top:1204.04px;font-size:19.72px;line-height:19.72px;transform:scaleX(1.0697)">60.0</div>
<div class="t" id="t86" style="left:1123.50px;top:1188.04px;font-size:19.72px;line-height:19.72px;transform:scaleX(1.0697)">90.0</div>
<div class="t" id="t87" style="left:1112.50px;top:1172.04px;font-size:19.72px;line-height:19.72px;transform:scaleX(1.0338)">120.0</div>
<div class="t" id="t88" style="left:1112.50px;top:1156.04px;font-size:19.72px;line-height:19.72px;transform:scaleX(1.0338)">150.0</div>
<div class="t" id="t89" style="left:1062.50px;top:117.80px;font-size:20.00px;line-height:20.00px;transform:scaleX(1.0060)">Max</div>
<div class="t" id="t90" style="left:1063.00px;top:139.80px;font-size:20.00px;line-height:20.00px;transform:scaleX(1.0217)">Mean</div>
<div class="t" id="t91" style="left:1063.00px;top:162.41px;font-size:20.69px;line-height:20.69px;transform:scaleX(0.9650)">Min</div>
<div class="t" id="t92" style="left:1120.50px;top:119.04px;font-size:19.72px;line-height:19.72px;transform:scaleX(1.1107)">399.54</div>
<div class="t" id="t93" style="left:1133.00px;top:141.04px;font-size:19.72px;line-height:19.72px;transform:scaleX(1.1151)">87.01</div>
<div class="t" id="t94" style="left:1138.00px;top:163.04px;font-size:19.72px;line-height:19.72px;transform:scaleX(1.1363)">-4.62</div>
<div class="t" id="t95" style="left:1062.50px;top:587.80px;font-size:20.00px;line-height:20.00px;transform:scaleX(1.0060)">Max</div>
<div class="t" id="t96" style="left:1063.00px;top:609.80px;font-size:20.00px;line-height:20.00px;transform:scaleX(1.0217)">Mean</div>
<div class="t" id="t97" style="left:1063.00px;top:632.41px;font-size:20.69px;line-height:20.69px;transform:scaleX(0.9650)">Min</div>
<div class="t" id="t98" style="left:1121.00px;top:589.04px;font-size:19.72px;line-height:19.72px;transform:scaleX(1.1280)">319.65</div>
<div class="t" id="t99" style="left:1133.00px;top:611.04px;font-size:19.72px;line-height:19.72px;transform:scaleX(1.1151)">92.62</div>
<div class="t" id="t100" style="left:1138.00px;top:633.04px;font-size:19.72px;line-height:19.72px;transform:scaleX(1.1363)">-2.90</div>
<div class="t" id="t101" style="left:1062.50px;top:1057.80px;font-size:20.00px;line-height:20.00px;transform:scaleX(1.0060)">Max</div>
<div class="t" id="t102" style="left:1063.00px;top:1079.80px;font-size:20.00px;line-height:20.00px;transform:scaleX(1.0217)">Mean</div>
<div class="t" id="t103" style="left:1063.00px;top:1102.41px;font-size:20.69px;line-height:20.69px;transform:scaleX(0.9650)">Min</div>
<div class="t" id="t104" style="left:1120.00px;top:1059.04px;font-size:19.72px;line-height:19.72px;transform:scaleX(1.1280)">206.56</div>
<div class="t" id="t105" style="left:1133.50px;top:1081.04px;font-size:19.72px;line-height:19.72px;transform:scaleX(1.0742)">18.20</div>
<div class="t" id="t106" style="left:1113.00px;top:1103.04px;font-size:19.72px;line-height:19.72px;transform:scaleX(1.1378)">-132.92</div>
<div class="t" id="t107" style="left:1062.50px;top:1446.04px;font-size:19.72px;line-height:19.72px;transform:scaleX(0.9129)">RMSE</div>
<div class="t" id="t108" style="left:1062.00px;top:1468.04px;font-size:19.72px;line-height:19.72px;transform:scaleX(0.9657)">CORR</div>
<div class="t" id="t109" style="left:1133.00px;top:1446.04px;font-size:19.72px;line-height:19.72px;transform:scaleX(1.1151)">30.07</div>
<div class="t" id="t110" style="left:1146.00px;top:1468.04px;font-size:19.72px;line-height:19.72px;transform:scaleX(1.0985)">0.95</div>
<div class="t" id="t111" style="left:478.50px;top:62.19px;font-size:38.50px;line-height:38.50px;transform:scaleX(1.0048)">LHFLX DJF global</div>
</body></html>
